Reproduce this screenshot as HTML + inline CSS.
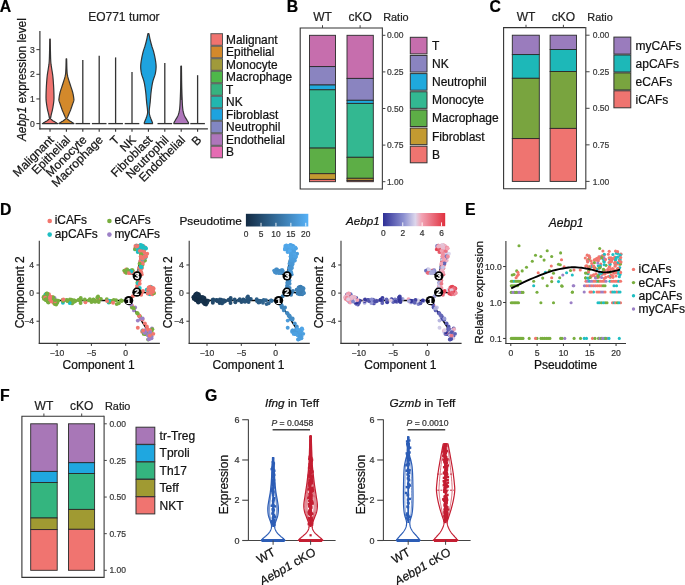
<!DOCTYPE html>
<html><head><meta charset="utf-8"><style>
html,body{margin:0;padding:0;background:#fff;width:685px;height:585px;overflow:hidden}
svg{display:block;will-change:transform}
text{font-family:"Liberation Sans", sans-serif;stroke-width:0.22px}
</style></head><body>
<svg width="685" height="585" viewBox="0 0 685 585">
<rect width="685" height="585" fill="#fff"/>
<text x="-0.30" y="11.60" font-size="15.8" font-weight="bold" fill="#000" stroke="#000">A</text>
<text x="286.70" y="11.70" font-size="15.8" font-weight="bold" fill="#000" stroke="#000">B</text>
<text x="489.60" y="11.60" font-size="15.8" font-weight="bold" fill="#000" stroke="#000">C</text>
<text x="0.00" y="214.90" font-size="15.8" font-weight="bold" fill="#000" stroke="#000">D</text>
<text x="465.10" y="215.00" font-size="15.8" font-weight="bold" fill="#000" stroke="#000">E</text>
<text x="0.00" y="400.80" font-size="15.8" font-weight="bold" fill="#000" stroke="#000">F</text>
<text x="205.00" y="400.60" font-size="15.8" font-weight="bold" fill="#000" stroke="#000">G</text>
<line x1="39.90" y1="31.00" x2="39.90" y2="129.40" stroke="#363636" stroke-width="1.2"/>
<line x1="39.35" y1="128.90" x2="207.90" y2="128.90" stroke="#363636" stroke-width="1.2"/>
<line x1="36.40" y1="123.60" x2="39.90" y2="123.60" stroke="#333" stroke-width="1.0"/>
<text x="34.90" y="126.70" font-size="8.6" text-anchor="end" fill="#333" stroke="#333">0</text>
<line x1="36.40" y1="98.95" x2="39.90" y2="98.95" stroke="#333" stroke-width="1.0"/>
<text x="34.90" y="102.05" font-size="8.6" text-anchor="end" fill="#333" stroke="#333">1</text>
<line x1="36.40" y1="74.30" x2="39.90" y2="74.30" stroke="#333" stroke-width="1.0"/>
<text x="34.90" y="77.40" font-size="8.6" text-anchor="end" fill="#333" stroke="#333">2</text>
<line x1="36.40" y1="49.65" x2="39.90" y2="49.65" stroke="#333" stroke-width="1.0"/>
<text x="34.90" y="52.75" font-size="8.6" text-anchor="end" fill="#333" stroke="#333">3</text>
<line x1="50.00" y1="128.90" x2="50.00" y2="131.80" stroke="#333" stroke-width="1.1"/>
<line x1="66.40" y1="128.90" x2="66.40" y2="131.80" stroke="#333" stroke-width="1.1"/>
<line x1="82.80" y1="128.90" x2="82.80" y2="131.80" stroke="#333" stroke-width="1.1"/>
<line x1="99.20" y1="128.90" x2="99.20" y2="131.80" stroke="#333" stroke-width="1.1"/>
<line x1="115.60" y1="128.90" x2="115.60" y2="131.80" stroke="#333" stroke-width="1.1"/>
<line x1="132.00" y1="128.90" x2="132.00" y2="131.80" stroke="#333" stroke-width="1.1"/>
<line x1="148.40" y1="128.90" x2="148.40" y2="131.80" stroke="#333" stroke-width="1.1"/>
<line x1="164.80" y1="128.90" x2="164.80" y2="131.80" stroke="#333" stroke-width="1.1"/>
<line x1="181.20" y1="128.90" x2="181.20" y2="131.80" stroke="#333" stroke-width="1.1"/>
<line x1="197.60" y1="128.90" x2="197.60" y2="131.80" stroke="#333" stroke-width="1.1"/>
<line x1="82.80" y1="59.90" x2="82.80" y2="123.60" stroke="#333" stroke-width="1.3"/>
<line x1="75.50" y1="123.60" x2="90.10" y2="123.60" stroke="#333" stroke-width="1.3"/>
<line x1="99.20" y1="55.80" x2="99.20" y2="123.60" stroke="#333" stroke-width="1.3"/>
<line x1="91.90" y1="123.60" x2="106.50" y2="123.60" stroke="#333" stroke-width="1.3"/>
<line x1="115.60" y1="57.40" x2="115.60" y2="123.60" stroke="#333" stroke-width="1.3"/>
<line x1="108.30" y1="123.60" x2="122.90" y2="123.60" stroke="#333" stroke-width="1.3"/>
<line x1="132.00" y1="72.10" x2="132.00" y2="123.60" stroke="#333" stroke-width="1.3"/>
<line x1="124.70" y1="123.60" x2="139.30" y2="123.60" stroke="#333" stroke-width="1.3"/>
<line x1="164.80" y1="62.90" x2="164.80" y2="123.60" stroke="#333" stroke-width="1.3"/>
<line x1="157.50" y1="123.60" x2="172.10" y2="123.60" stroke="#333" stroke-width="1.3"/>
<line x1="197.60" y1="75.20" x2="197.60" y2="123.60" stroke="#333" stroke-width="1.3"/>
<line x1="190.30" y1="123.60" x2="204.90" y2="123.60" stroke="#333" stroke-width="1.3"/>
<path d="M50.25,39.00 50.26,40.02 50.28,41.41 50.30,43.05 50.33,44.88 50.36,46.77 50.38,48.66 50.42,50.43 50.45,52.00 50.48,53.42 50.52,54.80 50.55,56.15 50.59,57.44 50.63,58.67 50.68,59.85 50.73,60.96 50.80,62.00 50.88,62.93 50.96,63.73 51.05,64.46 51.15,65.12 51.25,65.78 51.36,66.45 51.48,67.18 51.60,68.00 51.73,68.89 51.88,69.81 52.04,70.77 52.20,71.75 52.36,72.77 52.52,73.81 52.67,74.89 52.80,76.00 52.92,77.16 53.04,78.38 53.15,79.65 53.25,80.94 53.35,82.24 53.44,83.52 53.52,84.78 53.60,86.00 53.67,87.20 53.73,88.41 53.78,89.62 53.83,90.81 53.87,91.96 53.90,93.05 53.93,94.07 53.95,95.00 53.97,95.82 53.98,96.53 53.98,97.17 53.98,97.75 53.98,98.30 53.96,98.84 53.94,99.40 53.90,100.00 53.85,100.62 53.80,101.25 53.73,101.88 53.65,102.50 53.57,103.12 53.48,103.75 53.39,104.38 53.30,105.00 53.20,105.63 53.10,106.27 52.99,106.92 52.88,107.56 52.76,108.20 52.64,108.82 52.52,109.42 52.40,110.00 52.28,110.55 52.15,111.09 52.01,111.62 51.88,112.12 51.75,112.62 51.62,113.09 51.51,113.55 51.40,114.00 51.30,114.43 51.21,114.85 51.13,115.26 51.05,115.65 50.98,116.02 50.91,116.37 50.85,116.70 50.80,117.00 50.74,117.26 50.67,117.49 50.60,117.69 50.54,117.87 50.50,118.04 50.49,118.21 50.52,118.40 50.60,118.60 50.74,118.82 50.93,119.06 51.15,119.30 51.41,119.54 51.69,119.79 51.99,120.03 52.30,120.27 52.60,120.50 52.92,120.72 53.26,120.95 53.62,121.17 53.99,121.38 54.36,121.59 54.72,121.80 55.07,122.00 55.40,122.20 55.72,122.40 56.04,122.60 56.37,122.81 56.67,123.01 56.96,123.19 57.22,123.36 57.43,123.49 57.60,123.60 L42.40,123.60 42.57,123.49 42.78,123.36 43.04,123.19 43.33,123.01 43.63,122.81 43.96,122.60 44.28,122.40 44.60,122.20 44.93,122.00 45.28,121.80 45.64,121.59 46.01,121.38 46.38,121.17 46.74,120.95 47.08,120.72 47.40,120.50 47.70,120.27 48.01,120.03 48.31,119.79 48.59,119.54 48.85,119.30 49.07,119.06 49.26,118.82 49.40,118.60 49.48,118.40 49.51,118.21 49.50,118.04 49.46,117.87 49.40,117.69 49.33,117.49 49.26,117.26 49.20,117.00 49.15,116.70 49.09,116.37 49.02,116.02 48.95,115.65 48.87,115.26 48.79,114.85 48.70,114.43 48.60,114.00 48.49,113.55 48.38,113.09 48.25,112.62 48.12,112.12 47.99,111.62 47.85,111.09 47.72,110.55 47.60,110.00 47.48,109.42 47.36,108.82 47.24,108.20 47.12,107.56 47.01,106.92 46.90,106.27 46.80,105.63 46.70,105.00 46.61,104.38 46.52,103.75 46.43,103.12 46.35,102.50 46.27,101.88 46.20,101.25 46.15,100.62 46.10,100.00 46.06,99.40 46.04,98.84 46.02,98.30 46.02,97.75 46.02,97.17 46.02,96.53 46.03,95.82 46.05,95.00 46.07,94.07 46.10,93.05 46.13,91.96 46.17,90.81 46.22,89.62 46.27,88.41 46.33,87.20 46.40,86.00 46.48,84.78 46.56,83.52 46.65,82.24 46.75,80.94 46.85,79.65 46.96,78.38 47.08,77.16 47.20,76.00 47.33,74.89 47.48,73.81 47.64,72.77 47.80,71.75 47.96,70.77 48.12,69.81 48.27,68.89 48.40,68.00 48.52,67.18 48.64,66.45 48.75,65.78 48.85,65.12 48.95,64.46 49.04,63.73 49.12,62.93 49.20,62.00 49.27,60.96 49.32,59.85 49.37,58.67 49.41,57.44 49.45,56.15 49.48,54.80 49.52,53.42 49.55,52.00 49.58,50.43 49.62,48.66 49.64,46.77 49.67,44.88 49.70,43.05 49.72,41.41 49.74,40.02 49.75,39.00 Z" fill="#F0736F" stroke="#333" stroke-width="1.2" stroke-linejoin="round"/>
<path d="M66.65,58.80 66.67,59.70 66.70,60.93 66.73,62.41 66.76,64.02 66.80,65.69 66.84,67.30 66.89,68.77 66.95,70.00 67.00,70.99 67.05,71.82 67.09,72.54 67.14,73.20 67.21,73.83 67.31,74.48 67.43,75.19 67.60,76.00 67.81,76.90 68.07,77.86 68.36,78.85 68.68,79.88 69.01,80.91 69.34,81.95 69.68,82.99 70.00,84.00 70.33,85.01 70.67,86.04 71.02,87.07 71.38,88.09 71.72,89.11 72.04,90.11 72.34,91.07 72.60,92.00 72.83,92.91 73.03,93.82 73.21,94.72 73.37,95.59 73.51,96.42 73.62,97.19 73.72,97.89 73.80,98.50 73.86,98.99 73.90,99.37 73.91,99.66 73.91,99.91 73.89,100.13 73.85,100.36 73.78,100.64 73.70,101.00 73.59,101.42 73.45,101.87 73.28,102.35 73.10,102.84 72.90,103.36 72.70,103.89 72.50,104.44 72.30,105.00 72.10,105.58 71.90,106.20 71.68,106.85 71.47,107.50 71.25,108.15 71.03,108.80 70.81,109.42 70.60,110.00 70.38,110.55 70.17,111.09 69.94,111.62 69.73,112.12 69.51,112.62 69.30,113.09 69.09,113.55 68.90,114.00 68.71,114.43 68.53,114.85 68.35,115.26 68.18,115.65 68.01,116.02 67.86,116.37 67.72,116.70 67.60,117.00 67.48,117.26 67.36,117.49 67.24,117.69 67.14,117.87 67.06,118.04 67.02,118.21 67.03,118.40 67.10,118.60 67.23,118.82 67.43,119.06 67.67,119.30 67.95,119.54 68.25,119.79 68.57,120.03 68.89,120.27 69.20,120.50 69.51,120.72 69.85,120.95 70.20,121.17 70.56,121.38 70.91,121.59 71.26,121.80 71.59,122.00 71.90,122.20 72.20,122.40 72.50,122.60 72.79,122.81 73.07,123.01 73.33,123.19 73.56,123.36 73.75,123.49 73.90,123.60 L58.90,123.60 59.05,123.49 59.24,123.36 59.47,123.19 59.73,123.01 60.01,122.81 60.30,122.60 60.60,122.40 60.90,122.20 61.21,122.00 61.54,121.80 61.89,121.59 62.24,121.38 62.60,121.17 62.95,120.95 63.29,120.72 63.60,120.50 63.91,120.27 64.23,120.03 64.55,119.79 64.85,119.54 65.13,119.30 65.37,119.06 65.57,118.82 65.70,118.60 65.77,118.40 65.78,118.21 65.74,118.04 65.66,117.87 65.56,117.69 65.44,117.49 65.32,117.26 65.20,117.00 65.08,116.70 64.94,116.37 64.79,116.02 64.62,115.65 64.45,115.26 64.27,114.85 64.09,114.43 63.90,114.00 63.71,113.55 63.50,113.09 63.29,112.62 63.08,112.12 62.86,111.62 62.63,111.09 62.42,110.55 62.20,110.00 61.99,109.42 61.77,108.80 61.55,108.15 61.33,107.50 61.12,106.85 60.90,106.20 60.70,105.58 60.50,105.00 60.30,104.44 60.10,103.89 59.90,103.36 59.70,102.84 59.52,102.35 59.35,101.87 59.21,101.42 59.10,101.00 59.02,100.64 58.95,100.36 58.91,100.13 58.89,99.91 58.89,99.66 58.90,99.37 58.94,98.99 59.00,98.50 59.08,97.89 59.18,97.19 59.29,96.42 59.43,95.59 59.59,94.72 59.77,93.82 59.97,92.91 60.20,92.00 60.46,91.07 60.76,90.11 61.08,89.11 61.43,88.09 61.78,87.07 62.13,86.04 62.48,85.01 62.80,84.00 63.12,82.99 63.46,81.95 63.79,80.91 64.12,79.88 64.44,78.85 64.73,77.86 64.99,76.90 65.20,76.00 65.37,75.19 65.49,74.48 65.59,73.83 65.66,73.20 65.71,72.54 65.75,71.82 65.80,70.99 65.85,70.00 65.91,68.77 65.96,67.30 66.00,65.69 66.04,64.02 66.07,62.41 66.10,60.93 66.13,59.70 66.15,58.80 Z" fill="#D3892B" stroke="#333" stroke-width="1.2" stroke-linejoin="round"/>
<path d="M148.90,33.70 149.00,34.19 149.13,34.84 149.28,35.61 149.45,36.48 149.63,37.38 149.82,38.30 150.01,39.18 150.20,40.00 150.38,40.76 150.57,41.52 150.76,42.27 150.96,43.02 151.16,43.76 151.37,44.51 151.58,45.25 151.80,46.00 152.02,46.74 152.26,47.45 152.50,48.16 152.74,48.88 152.99,49.60 153.23,50.36 153.47,51.15 153.70,52.00 153.93,52.91 154.16,53.88 154.40,54.90 154.62,55.94 154.84,56.99 155.05,58.02 155.24,59.03 155.40,60.00 155.55,60.92 155.68,61.82 155.81,62.70 155.91,63.56 156.00,64.42 156.06,65.27 156.10,66.13 156.10,67.00 156.07,67.87 156.02,68.73 155.95,69.58 155.85,70.44 155.72,71.30 155.57,72.18 155.40,73.08 155.20,74.00 154.96,74.94 154.67,75.88 154.34,76.84 153.99,77.81 153.64,78.81 153.30,79.84 152.98,80.90 152.70,82.00 152.45,83.15 152.22,84.36 152.00,85.60 151.80,86.88 151.61,88.16 151.43,89.45 151.26,90.74 151.10,92.00 150.95,93.26 150.83,94.55 150.71,95.84 150.61,97.12 150.51,98.40 150.41,99.64 150.31,100.85 150.20,102.00 150.08,103.12 149.95,104.23 149.82,105.32 149.69,106.38 149.56,107.38 149.45,108.33 149.36,109.21 149.30,110.00 149.26,110.69 149.22,111.27 149.21,111.77 149.21,112.22 149.22,112.64 149.26,113.06 149.32,113.50 149.40,114.00 149.51,114.54 149.66,115.11 149.83,115.69 150.01,116.27 150.21,116.85 150.41,117.42 150.61,117.97 150.80,118.50 150.99,119.02 151.20,119.54 151.41,120.05 151.62,120.54 151.82,121.02 152.01,121.46 152.17,121.85 152.30,122.20 152.40,122.49 152.47,122.74 152.51,122.95 152.54,123.13 152.56,123.28 152.57,123.40 152.59,123.51 152.60,123.60 L144.20,123.60 144.21,123.51 144.23,123.40 144.24,123.28 144.26,123.13 144.29,122.95 144.33,122.74 144.40,122.49 144.50,122.20 144.63,121.85 144.79,121.46 144.98,121.02 145.18,120.54 145.39,120.05 145.60,119.54 145.81,119.02 146.00,118.50 146.19,117.97 146.39,117.42 146.59,116.85 146.79,116.27 146.97,115.69 147.14,115.11 147.29,114.54 147.40,114.00 147.48,113.50 147.54,113.06 147.58,112.64 147.59,112.22 147.59,111.77 147.58,111.27 147.54,110.69 147.50,110.00 147.44,109.21 147.35,108.33 147.24,107.38 147.11,106.38 146.98,105.32 146.85,104.23 146.72,103.12 146.60,102.00 146.49,100.85 146.39,99.64 146.29,98.40 146.19,97.12 146.09,95.84 145.97,94.55 145.85,93.26 145.70,92.00 145.54,90.74 145.37,89.45 145.19,88.16 145.00,86.88 144.80,85.60 144.58,84.36 144.35,83.15 144.10,82.00 143.82,80.90 143.50,79.84 143.16,78.81 142.81,77.81 142.46,76.84 142.13,75.88 141.84,74.94 141.60,74.00 141.40,73.08 141.22,72.18 141.07,71.30 140.95,70.44 140.85,69.58 140.77,68.73 140.72,67.87 140.70,67.00 140.70,66.13 140.74,65.27 140.80,64.42 140.89,63.56 140.99,62.70 141.12,61.82 141.25,60.92 141.40,60.00 141.56,59.03 141.75,58.02 141.96,56.99 142.17,55.94 142.40,54.90 142.64,53.88 142.87,52.91 143.10,52.00 143.33,51.15 143.57,50.36 143.81,49.60 144.06,48.88 144.30,48.16 144.54,47.45 144.78,46.74 145.00,46.00 145.22,45.25 145.43,44.51 145.64,43.76 145.84,43.02 146.04,42.27 146.23,41.52 146.42,40.76 146.60,40.00 146.79,39.18 146.98,38.30 147.17,37.38 147.35,36.48 147.52,35.61 147.67,34.84 147.80,34.19 147.90,33.70 Z" fill="#1EA3DF" stroke="#333" stroke-width="1.2" stroke-linejoin="round"/>
<path d="M181.45,66.00 181.47,67.51 181.49,69.55 181.52,72.00 181.55,74.69 181.58,77.48 181.62,80.23 181.66,82.78 181.70,85.00 181.74,86.95 181.79,88.79 181.84,90.53 181.89,92.19 181.94,93.75 182.00,95.24 182.05,96.66 182.10,98.00 182.15,99.26 182.20,100.42 182.24,101.50 182.29,102.50 182.34,103.44 182.39,104.33 182.44,105.18 182.50,106.00 182.56,106.77 182.62,107.47 182.68,108.12 182.74,108.72 182.81,109.29 182.90,109.86 182.99,110.42 183.10,111.00 183.22,111.59 183.35,112.17 183.50,112.75 183.65,113.31 183.82,113.87 184.00,114.42 184.19,114.96 184.40,115.50 184.64,116.03 184.90,116.56 185.19,117.09 185.48,117.61 185.78,118.11 186.07,118.60 186.35,119.06 186.60,119.50 186.84,119.92 187.07,120.32 187.30,120.70 187.51,121.07 187.71,121.41 187.90,121.73 188.06,122.03 188.20,122.30 188.31,122.54 188.39,122.76 188.46,122.95 188.50,123.12 188.53,123.27 188.56,123.40 188.58,123.51 188.60,123.60 L173.80,123.60 173.82,123.51 173.84,123.40 173.87,123.27 173.90,123.12 173.94,122.95 174.01,122.76 174.09,122.54 174.20,122.30 174.34,122.03 174.50,121.73 174.69,121.41 174.89,121.07 175.10,120.70 175.33,120.32 175.56,119.92 175.80,119.50 176.05,119.06 176.33,118.60 176.62,118.11 176.92,117.61 177.21,117.09 177.50,116.56 177.76,116.03 178.00,115.50 178.21,114.96 178.40,114.42 178.58,113.87 178.75,113.31 178.90,112.75 179.05,112.17 179.18,111.59 179.30,111.00 179.41,110.42 179.50,109.86 179.59,109.29 179.66,108.72 179.72,108.12 179.78,107.47 179.84,106.77 179.90,106.00 179.96,105.18 180.01,104.33 180.06,103.44 180.11,102.50 180.16,101.50 180.20,100.42 180.25,99.26 180.30,98.00 180.35,96.66 180.40,95.24 180.46,93.75 180.51,92.19 180.56,90.53 180.61,88.79 180.66,86.95 180.70,85.00 180.74,82.78 180.78,80.23 180.82,77.48 180.85,74.69 180.88,72.00 180.91,69.55 180.93,67.51 180.95,66.00 Z" fill="#AE76BB" stroke="#333" stroke-width="1.2" stroke-linejoin="round"/>
<line x1="181.20" y1="66.00" x2="181.20" y2="100.00" stroke="#333" stroke-width="1.05"/>
<text x="88.20" y="20.80" font-size="12.0" fill="#222" stroke="#222">EO771 tumor</text>
<text transform="translate(26.3,79.6) rotate(-90)" font-size="11.9" text-anchor="middle" fill="#111" stroke="#111"><tspan font-style="italic">Aebp1</tspan> expression level</text>
<text transform="translate(54.60,140.60) rotate(-45)" font-size="12.0" text-anchor="end" fill="#111" stroke="#111">Malignant</text>
<text transform="translate(71.00,140.60) rotate(-45)" font-size="12.0" text-anchor="end" fill="#111" stroke="#111">Epithelial</text>
<text transform="translate(87.40,140.60) rotate(-45)" font-size="12.0" text-anchor="end" fill="#111" stroke="#111">Monocyte</text>
<text transform="translate(103.80,140.60) rotate(-45)" font-size="12.0" text-anchor="end" fill="#111" stroke="#111">Macrophage</text>
<text transform="translate(120.20,140.60) rotate(-45)" font-size="12.0" text-anchor="end" fill="#111" stroke="#111">T</text>
<text transform="translate(136.60,140.60) rotate(-45)" font-size="12.0" text-anchor="end" fill="#111" stroke="#111">NK</text>
<text transform="translate(153.00,140.60) rotate(-45)" font-size="12.0" text-anchor="end" fill="#111" stroke="#111">Fibroblast</text>
<text transform="translate(169.40,140.60) rotate(-45)" font-size="12.0" text-anchor="end" fill="#111" stroke="#111">Neutrophil</text>
<text transform="translate(185.80,140.60) rotate(-45)" font-size="12.0" text-anchor="end" fill="#111" stroke="#111">Endothelial</text>
<text transform="translate(202.20,140.60) rotate(-45)" font-size="12.0" text-anchor="end" fill="#111" stroke="#111">B</text>
<rect x="210.90" y="33.70" width="11.60" height="11.60" fill="#F0736F" stroke="#555" stroke-width="1.0"/>
<text x="226.10" y="43.90" font-size="11.9" fill="#111" stroke="#111">Malignant</text>
<rect x="210.90" y="46.20" width="11.60" height="11.60" fill="#D3892B" stroke="#555" stroke-width="1.0"/>
<text x="226.10" y="56.40" font-size="11.9" fill="#111" stroke="#111">Epithelial</text>
<rect x="210.90" y="58.70" width="11.60" height="11.60" fill="#A09A3B" stroke="#555" stroke-width="1.0"/>
<text x="226.10" y="68.90" font-size="11.9" fill="#111" stroke="#111">Monocyte</text>
<rect x="210.90" y="71.20" width="11.60" height="11.60" fill="#4EB74A" stroke="#555" stroke-width="1.0"/>
<text x="226.10" y="81.40" font-size="11.9" fill="#111" stroke="#111">Macrophage</text>
<rect x="210.90" y="83.70" width="11.60" height="11.60" fill="#36B27F" stroke="#555" stroke-width="1.0"/>
<text x="226.10" y="93.90" font-size="11.9" fill="#111" stroke="#111">T</text>
<rect x="210.90" y="96.20" width="11.60" height="11.60" fill="#22B6AF" stroke="#555" stroke-width="1.0"/>
<text x="226.10" y="106.40" font-size="11.9" fill="#111" stroke="#111">NK</text>
<rect x="210.90" y="108.70" width="11.60" height="11.60" fill="#1EA3DF" stroke="#555" stroke-width="1.0"/>
<text x="226.10" y="118.90" font-size="11.9" fill="#111" stroke="#111">Fibroblast</text>
<rect x="210.90" y="121.20" width="11.60" height="11.60" fill="#8287C3" stroke="#555" stroke-width="1.0"/>
<text x="226.10" y="131.40" font-size="11.9" fill="#111" stroke="#111">Neutrophil</text>
<rect x="210.90" y="133.70" width="11.60" height="11.60" fill="#AE76BB" stroke="#555" stroke-width="1.0"/>
<text x="226.10" y="143.90" font-size="11.9" fill="#111" stroke="#111">Endothelial</text>
<rect x="210.90" y="146.20" width="11.60" height="11.60" fill="#E56CB3" stroke="#555" stroke-width="1.0"/>
<text x="226.10" y="156.40" font-size="11.9" fill="#111" stroke="#111">B</text>
<path d="M382.40,28.00 L300.20,28.00 L300.20,189.00 L382.40,189.00" fill="none" stroke="#333" stroke-width="1.1"/>
<line x1="382.40" y1="27.50" x2="382.40" y2="189.50" stroke="#4a4a4a" stroke-width="1.2"/>
<line x1="322.50" y1="25.20" x2="322.50" y2="28.00" stroke="#444" stroke-width="1.0"/>
<text x="322.50" y="21.40" font-size="12.0" text-anchor="middle" fill="#222" stroke="#222">WT</text>
<line x1="360.10" y1="25.20" x2="360.10" y2="28.00" stroke="#444" stroke-width="1.0"/>
<text x="360.10" y="21.40" font-size="12.0" text-anchor="middle" fill="#222" stroke="#222">cKO</text>
<text x="383.20" y="20.80" font-size="10.9" fill="#222" stroke="#222">Ratio</text>
<line x1="382.40" y1="35.30" x2="385.40" y2="35.30" stroke="#444" stroke-width="1.0"/>
<text x="386.90" y="38.40" font-size="8.5" fill="#3a3a3a" stroke="#3a3a3a">0.00</text>
<line x1="382.40" y1="71.90" x2="385.40" y2="71.90" stroke="#444" stroke-width="1.0"/>
<text x="386.90" y="75.00" font-size="8.5" fill="#3a3a3a" stroke="#3a3a3a">0.25</text>
<line x1="382.40" y1="108.50" x2="385.40" y2="108.50" stroke="#444" stroke-width="1.0"/>
<text x="386.90" y="111.60" font-size="8.5" fill="#3a3a3a" stroke="#3a3a3a">0.50</text>
<line x1="382.40" y1="145.10" x2="385.40" y2="145.10" stroke="#444" stroke-width="1.0"/>
<text x="386.90" y="148.20" font-size="8.5" fill="#3a3a3a" stroke="#3a3a3a">0.75</text>
<line x1="382.40" y1="181.70" x2="385.40" y2="181.70" stroke="#444" stroke-width="1.0"/>
<text x="386.90" y="184.80" font-size="8.5" fill="#3a3a3a" stroke="#3a3a3a">1.00</text>
<rect x="309.50" y="35.30" width="26.00" height="31.30" fill="#C66EAD" stroke="#2a2a2a" stroke-width="0.9"/>
<rect x="309.50" y="66.60" width="26.00" height="18.40" fill="#8A84C0" stroke="#2a2a2a" stroke-width="0.9"/>
<rect x="309.50" y="85.00" width="26.00" height="4.80" fill="#1FA9DD" stroke="#2a2a2a" stroke-width="0.9"/>
<rect x="309.50" y="89.80" width="26.00" height="58.30" fill="#33B891" stroke="#2a2a2a" stroke-width="0.9"/>
<rect x="309.50" y="148.10" width="26.00" height="25.60" fill="#5DAE46" stroke="#2a2a2a" stroke-width="0.9"/>
<rect x="309.50" y="173.70" width="26.00" height="5.70" fill="#C39A31" stroke="#2a2a2a" stroke-width="0.9"/>
<rect x="309.50" y="179.40" width="26.00" height="2.30" fill="#EF7470" stroke="#2a2a2a" stroke-width="0.9"/>
<rect x="347.00" y="35.30" width="26.30" height="43.10" fill="#C66EAD" stroke="#2a2a2a" stroke-width="0.9"/>
<rect x="347.00" y="78.40" width="26.30" height="21.90" fill="#8A84C0" stroke="#2a2a2a" stroke-width="0.9"/>
<rect x="347.00" y="100.30" width="26.30" height="3.10" fill="#1FA9DD" stroke="#2a2a2a" stroke-width="0.9"/>
<rect x="347.00" y="103.40" width="26.30" height="53.90" fill="#33B891" stroke="#2a2a2a" stroke-width="0.9"/>
<rect x="347.00" y="157.30" width="26.30" height="21.00" fill="#5DAE46" stroke="#2a2a2a" stroke-width="0.9"/>
<rect x="347.00" y="178.30" width="26.30" height="2.10" fill="#C39A31" stroke="#2a2a2a" stroke-width="0.9"/>
<rect x="347.00" y="180.40" width="26.30" height="1.30" fill="#EF7470" stroke="#2a2a2a" stroke-width="0.9"/>
<rect x="410.30" y="37.30" width="16.70" height="16.60" fill="#C66EAD" stroke="#333" stroke-width="1.0"/>
<text x="432.00" y="49.80" font-size="12.0" fill="#111" stroke="#111">T</text>
<rect x="410.30" y="55.45" width="16.70" height="16.60" fill="#8A84C0" stroke="#333" stroke-width="1.0"/>
<text x="432.00" y="67.95" font-size="12.0" fill="#111" stroke="#111">NK</text>
<rect x="410.30" y="73.60" width="16.70" height="16.60" fill="#1FA9DD" stroke="#333" stroke-width="1.0"/>
<text x="432.00" y="86.10" font-size="12.0" fill="#111" stroke="#111">Neutrophil</text>
<rect x="410.30" y="91.75" width="16.70" height="16.60" fill="#33B891" stroke="#333" stroke-width="1.0"/>
<text x="432.00" y="104.25" font-size="12.0" fill="#111" stroke="#111">Monocyte</text>
<rect x="410.30" y="109.90" width="16.70" height="16.60" fill="#5DAE46" stroke="#333" stroke-width="1.0"/>
<text x="432.00" y="122.40" font-size="12.0" fill="#111" stroke="#111">Macrophage</text>
<rect x="410.30" y="128.05" width="16.70" height="16.60" fill="#C39A31" stroke="#333" stroke-width="1.0"/>
<text x="432.00" y="140.55" font-size="12.0" fill="#111" stroke="#111">Fibroblast</text>
<rect x="410.30" y="146.20" width="16.70" height="16.60" fill="#EF7470" stroke="#333" stroke-width="1.0"/>
<text x="432.00" y="158.70" font-size="12.0" fill="#111" stroke="#111">B</text>
<path d="M585.80,27.60 L503.60,27.60 L503.60,188.70 L585.80,188.70" fill="none" stroke="#333" stroke-width="1.1"/>
<line x1="585.80" y1="27.10" x2="585.80" y2="189.20" stroke="#4a4a4a" stroke-width="1.2"/>
<line x1="526.00" y1="24.80" x2="526.00" y2="27.60" stroke="#444" stroke-width="1.0"/>
<text x="526.00" y="21.20" font-size="12.0" text-anchor="middle" fill="#222" stroke="#222">WT</text>
<line x1="563.40" y1="24.80" x2="563.40" y2="27.60" stroke="#444" stroke-width="1.0"/>
<text x="563.40" y="21.20" font-size="12.0" text-anchor="middle" fill="#222" stroke="#222">cKO</text>
<text x="587.30" y="20.60" font-size="10.9" fill="#222" stroke="#222">Ratio</text>
<line x1="585.80" y1="35.20" x2="589.60" y2="35.20" stroke="#444" stroke-width="1.0"/>
<text x="592.70" y="38.30" font-size="8.5" fill="#3a3a3a" stroke="#3a3a3a">0.00</text>
<line x1="585.80" y1="71.75" x2="589.60" y2="71.75" stroke="#444" stroke-width="1.0"/>
<text x="592.70" y="74.85" font-size="8.5" fill="#3a3a3a" stroke="#3a3a3a">0.25</text>
<line x1="585.80" y1="108.30" x2="589.60" y2="108.30" stroke="#444" stroke-width="1.0"/>
<text x="592.70" y="111.40" font-size="8.5" fill="#3a3a3a" stroke="#3a3a3a">0.50</text>
<line x1="585.80" y1="144.85" x2="589.60" y2="144.85" stroke="#444" stroke-width="1.0"/>
<text x="592.70" y="147.95" font-size="8.5" fill="#3a3a3a" stroke="#3a3a3a">0.75</text>
<line x1="585.80" y1="181.40" x2="589.60" y2="181.40" stroke="#444" stroke-width="1.0"/>
<text x="592.70" y="184.50" font-size="8.5" fill="#3a3a3a" stroke="#3a3a3a">1.00</text>
<rect x="512.30" y="35.20" width="27.00" height="19.40" fill="#9A7CBD" stroke="#2a2a2a" stroke-width="0.9"/>
<rect x="512.30" y="54.60" width="27.00" height="23.70" fill="#1DB8B8" stroke="#2a2a2a" stroke-width="0.9"/>
<rect x="512.30" y="78.30" width="27.00" height="60.30" fill="#79A43F" stroke="#2a2a2a" stroke-width="0.9"/>
<rect x="512.30" y="138.60" width="27.00" height="42.80" fill="#EF7470" stroke="#2a2a2a" stroke-width="0.9"/>
<rect x="550.10" y="35.20" width="26.40" height="14.30" fill="#9A7CBD" stroke="#2a2a2a" stroke-width="0.9"/>
<rect x="550.10" y="49.50" width="26.40" height="22.00" fill="#1DB8B8" stroke="#2a2a2a" stroke-width="0.9"/>
<rect x="550.10" y="71.50" width="26.40" height="56.90" fill="#79A43F" stroke="#2a2a2a" stroke-width="0.9"/>
<rect x="550.10" y="128.40" width="26.40" height="53.00" fill="#EF7470" stroke="#2a2a2a" stroke-width="0.9"/>
<rect x="613.90" y="37.10" width="16.90" height="17.00" fill="#9A7CBD" stroke="#333" stroke-width="1.0"/>
<text x="635.60" y="49.80" font-size="12.0" fill="#111" stroke="#111">myCAFs</text>
<rect x="613.90" y="55.00" width="16.90" height="17.00" fill="#1DB8B8" stroke="#333" stroke-width="1.0"/>
<text x="635.60" y="67.70" font-size="12.0" fill="#111" stroke="#111">apCAFs</text>
<rect x="613.90" y="72.90" width="16.90" height="17.00" fill="#79A43F" stroke="#333" stroke-width="1.0"/>
<text x="635.60" y="85.60" font-size="12.0" fill="#111" stroke="#111">eCAFs</text>
<rect x="613.90" y="90.80" width="16.90" height="17.00" fill="#EF7470" stroke="#333" stroke-width="1.0"/>
<text x="635.60" y="103.50" font-size="12.0" fill="#111" stroke="#111">iCAFs</text>
<path d="M104.10,416.30 L21.90,416.30 L21.90,577.40 L104.10,577.40" fill="none" stroke="#333" stroke-width="1.1"/>
<line x1="104.10" y1="415.80" x2="104.10" y2="577.90" stroke="#4a4a4a" stroke-width="1.2"/>
<line x1="43.90" y1="413.50" x2="43.90" y2="416.30" stroke="#444" stroke-width="1.0"/>
<text x="43.90" y="410.20" font-size="12.0" text-anchor="middle" fill="#222" stroke="#222">WT</text>
<line x1="81.70" y1="413.50" x2="81.70" y2="416.30" stroke="#444" stroke-width="1.0"/>
<text x="81.70" y="410.20" font-size="12.0" text-anchor="middle" fill="#222" stroke="#222">cKO</text>
<text x="105.00" y="409.60" font-size="10.9" fill="#222" stroke="#222">Ratio</text>
<line x1="104.10" y1="423.80" x2="106.80" y2="423.80" stroke="#444" stroke-width="1.0"/>
<text x="109.40" y="426.90" font-size="8.5" fill="#3a3a3a" stroke="#3a3a3a">0.00</text>
<line x1="104.10" y1="460.43" x2="106.80" y2="460.43" stroke="#444" stroke-width="1.0"/>
<text x="109.40" y="463.53" font-size="8.5" fill="#3a3a3a" stroke="#3a3a3a">0.25</text>
<line x1="104.10" y1="497.05" x2="106.80" y2="497.05" stroke="#444" stroke-width="1.0"/>
<text x="109.40" y="500.15" font-size="8.5" fill="#3a3a3a" stroke="#3a3a3a">0.50</text>
<line x1="104.10" y1="533.67" x2="106.80" y2="533.67" stroke="#444" stroke-width="1.0"/>
<text x="109.40" y="536.77" font-size="8.5" fill="#3a3a3a" stroke="#3a3a3a">0.75</text>
<line x1="104.10" y1="570.30" x2="106.80" y2="570.30" stroke="#444" stroke-width="1.0"/>
<text x="109.40" y="573.40" font-size="8.5" fill="#3a3a3a" stroke="#3a3a3a">1.00</text>
<rect x="30.70" y="423.80" width="26.50" height="47.60" fill="#A877B7" stroke="#2a2a2a" stroke-width="0.9"/>
<rect x="30.70" y="471.40" width="26.50" height="11.10" fill="#1FA7E0" stroke="#2a2a2a" stroke-width="0.9"/>
<rect x="30.70" y="482.50" width="26.50" height="35.50" fill="#34B57F" stroke="#2a2a2a" stroke-width="0.9"/>
<rect x="30.70" y="518.00" width="26.50" height="11.60" fill="#A09A32" stroke="#2a2a2a" stroke-width="0.9"/>
<rect x="30.70" y="529.60" width="26.50" height="40.70" fill="#F07470" stroke="#2a2a2a" stroke-width="0.9"/>
<rect x="68.50" y="423.80" width="26.10" height="38.90" fill="#A877B7" stroke="#2a2a2a" stroke-width="0.9"/>
<rect x="68.50" y="462.70" width="26.10" height="10.80" fill="#1FA7E0" stroke="#2a2a2a" stroke-width="0.9"/>
<rect x="68.50" y="473.50" width="26.10" height="35.90" fill="#34B57F" stroke="#2a2a2a" stroke-width="0.9"/>
<rect x="68.50" y="509.40" width="26.10" height="19.90" fill="#A09A32" stroke="#2a2a2a" stroke-width="0.9"/>
<rect x="68.50" y="529.30" width="26.10" height="41.00" fill="#F07470" stroke="#2a2a2a" stroke-width="0.9"/>
<rect x="136.00" y="427.20" width="18.80" height="17.10" fill="#A877B7" stroke="#333" stroke-width="1.0"/>
<text x="159.60" y="439.95" font-size="12.0" fill="#111" stroke="#111">tr-Treg</text>
<rect x="136.00" y="444.60" width="18.80" height="17.10" fill="#1FA7E0" stroke="#333" stroke-width="1.0"/>
<text x="159.60" y="457.35" font-size="12.0" fill="#111" stroke="#111">Tproli</text>
<rect x="136.00" y="462.00" width="18.80" height="17.10" fill="#34B57F" stroke="#333" stroke-width="1.0"/>
<text x="159.60" y="474.75" font-size="12.0" fill="#111" stroke="#111">Th17</text>
<rect x="136.00" y="479.40" width="18.80" height="17.10" fill="#A09A32" stroke="#333" stroke-width="1.0"/>
<text x="159.60" y="492.15" font-size="12.0" fill="#111" stroke="#111">Teff</text>
<rect x="136.00" y="496.80" width="18.80" height="17.10" fill="#F07470" stroke="#333" stroke-width="1.0"/>
<text x="159.60" y="509.55" font-size="12.0" fill="#111" stroke="#111">NKT</text>
<g transform="translate(0.00,0)">
<line x1="39.30" y1="240.80" x2="39.30" y2="343.90" stroke="#363636" stroke-width="1.1"/>
<line x1="38.80" y1="343.40" x2="159.90" y2="343.40" stroke="#363636" stroke-width="1.1"/>
<line x1="36.50" y1="264.98" x2="39.30" y2="264.98" stroke="#333" stroke-width="1.0"/>
<text x="34.00" y="268.08" font-size="8.6" text-anchor="end" fill="#333" stroke="#333">4</text>
<line x1="36.50" y1="293.10" x2="39.30" y2="293.10" stroke="#333" stroke-width="1.0"/>
<text x="34.00" y="296.20" font-size="8.6" text-anchor="end" fill="#333" stroke="#333">0</text>
<line x1="36.50" y1="321.22" x2="39.30" y2="321.22" stroke="#333" stroke-width="1.0"/>
<text x="34.00" y="324.32" font-size="8.6" text-anchor="end" fill="#333" stroke="#333">−4</text>
<line x1="57.10" y1="343.40" x2="57.10" y2="345.90" stroke="#333" stroke-width="1.0"/>
<text x="57.10" y="356.00" font-size="8.6" text-anchor="middle" fill="#333" stroke="#333">−10</text>
<line x1="91.40" y1="343.40" x2="91.40" y2="345.90" stroke="#333" stroke-width="1.0"/>
<text x="91.40" y="356.00" font-size="8.6" text-anchor="middle" fill="#333" stroke="#333">−5</text>
<line x1="125.70" y1="343.40" x2="125.70" y2="345.90" stroke="#333" stroke-width="1.0"/>
<text x="125.70" y="356.00" font-size="8.6" text-anchor="middle" fill="#333" stroke="#333">0</text>
<text x="98.60" y="368.60" font-size="12.0" text-anchor="middle" fill="#111" stroke="#111">Component 1</text>
<text transform="translate(23.90,292.3) rotate(-90)" font-size="12.0" text-anchor="middle" fill="#111" stroke="#111">Component 2</text>
<line x1="45.50" y1="300.40" x2="128.70" y2="300.60" stroke="#000" stroke-width="1.5"/>
<line x1="128.70" y1="300.60" x2="136.90" y2="292.20" stroke="#000" stroke-width="1.5"/>
<line x1="136.90" y1="292.20" x2="151.00" y2="292.80" stroke="#000" stroke-width="1.5"/>
<line x1="136.90" y1="292.20" x2="137.20" y2="275.90" stroke="#000" stroke-width="1.5"/>
<line x1="137.20" y1="275.90" x2="125.00" y2="271.50" stroke="#000" stroke-width="1.5"/>
<line x1="137.20" y1="275.90" x2="141.60" y2="248.00" stroke="#000" stroke-width="1.5"/>
<line x1="128.70" y1="300.60" x2="151.50" y2="336.50" stroke="#000" stroke-width="1.5"/>
<circle cx="140.25" cy="251.80" r="1.95" fill="#78AE3E"/>
<circle cx="138.30" cy="288.32" r="1.95" fill="#F2766E"/>
<circle cx="150.02" cy="334.57" r="1.95" fill="#9C80C6"/>
<circle cx="151.60" cy="336.62" r="1.95" fill="#9C80C6"/>
<circle cx="108.60" cy="302.51" r="1.95" fill="#1FBEC2"/>
<circle cx="142.18" cy="331.85" r="1.95" fill="#F2766E"/>
<circle cx="109.70" cy="302.27" r="1.95" fill="#78AE3E"/>
<circle cx="152.95" cy="291.28" r="1.95" fill="#78AE3E"/>
<circle cx="141.81" cy="267.92" r="1.95" fill="#F2766E"/>
<circle cx="150.68" cy="337.99" r="1.95" fill="#78AE3E"/>
<circle cx="151.68" cy="292.98" r="1.95" fill="#F2766E"/>
<circle cx="140.62" cy="249.53" r="1.95" fill="#1FBEC2"/>
<circle cx="141.07" cy="258.24" r="1.95" fill="#F2766E"/>
<circle cx="142.46" cy="330.41" r="1.95" fill="#1FBEC2"/>
<circle cx="116.04" cy="300.19" r="1.95" fill="#78AE3E"/>
<circle cx="49.30" cy="300.11" r="1.95" fill="#78AE3E"/>
<circle cx="135.07" cy="249.38" r="1.95" fill="#1FBEC2"/>
<circle cx="149.62" cy="294.14" r="1.95" fill="#F2766E"/>
<circle cx="135.23" cy="248.20" r="1.95" fill="#F2766E"/>
<circle cx="145.11" cy="247.50" r="1.95" fill="#F2766E"/>
<circle cx="151.28" cy="329.59" r="1.95" fill="#F2766E"/>
<circle cx="137.10" cy="286.08" r="1.95" fill="#F2766E"/>
<circle cx="150.04" cy="294.28" r="1.95" fill="#1FBEC2"/>
<circle cx="55.72" cy="302.75" r="1.95" fill="#78AE3E"/>
<circle cx="44.88" cy="298.64" r="1.95" fill="#78AE3E"/>
<circle cx="147.87" cy="292.78" r="1.95" fill="#F2766E"/>
<circle cx="124.91" cy="272.02" r="1.95" fill="#F2766E"/>
<circle cx="145.23" cy="334.13" r="1.95" fill="#78AE3E"/>
<circle cx="78.38" cy="300.10" r="1.95" fill="#78AE3E"/>
<circle cx="149.91" cy="330.75" r="1.95" fill="#78AE3E"/>
<circle cx="141.95" cy="253.20" r="1.95" fill="#78AE3E"/>
<circle cx="48.90" cy="297.78" r="1.95" fill="#F2766E"/>
<circle cx="149.90" cy="336.62" r="1.95" fill="#9C80C6"/>
<circle cx="126.18" cy="269.50" r="1.95" fill="#F2766E"/>
<circle cx="50.25" cy="298.49" r="1.95" fill="#F2766E"/>
<circle cx="47.59" cy="298.31" r="1.95" fill="#78AE3E"/>
<circle cx="141.82" cy="246.03" r="1.95" fill="#78AE3E"/>
<circle cx="137.40" cy="272.53" r="1.95" fill="#F2766E"/>
<circle cx="48.52" cy="298.57" r="1.95" fill="#78AE3E"/>
<circle cx="93.31" cy="299.36" r="1.95" fill="#78AE3E"/>
<circle cx="147.84" cy="293.31" r="1.95" fill="#1FBEC2"/>
<circle cx="151.69" cy="293.66" r="1.95" fill="#F2766E"/>
<circle cx="131.50" cy="306.08" r="1.95" fill="#9C80C6"/>
<circle cx="141.45" cy="260.47" r="1.95" fill="#F2766E"/>
<circle cx="46.39" cy="296.07" r="1.95" fill="#78AE3E"/>
<circle cx="144.60" cy="332.82" r="1.95" fill="#78AE3E"/>
<circle cx="147.57" cy="329.41" r="1.95" fill="#9C80C6"/>
<circle cx="148.87" cy="335.13" r="1.95" fill="#9C80C6"/>
<circle cx="100.94" cy="298.90" r="1.95" fill="#78AE3E"/>
<circle cx="116.70" cy="304.09" r="1.95" fill="#78AE3E"/>
<circle cx="45.66" cy="298.76" r="1.95" fill="#78AE3E"/>
<circle cx="151.44" cy="331.32" r="1.95" fill="#78AE3E"/>
<circle cx="141.79" cy="274.40" r="1.95" fill="#F2766E"/>
<circle cx="148.14" cy="339.45" r="1.95" fill="#78AE3E"/>
<circle cx="143.78" cy="333.91" r="1.95" fill="#78AE3E"/>
<circle cx="141.86" cy="252.88" r="1.95" fill="#F2766E"/>
<circle cx="72.12" cy="303.39" r="1.95" fill="#78AE3E"/>
<circle cx="131.74" cy="270.29" r="1.95" fill="#78AE3E"/>
<circle cx="52.55" cy="297.97" r="1.95" fill="#F2766E"/>
<circle cx="143.57" cy="332.53" r="1.95" fill="#78AE3E"/>
<circle cx="143.71" cy="260.99" r="1.95" fill="#78AE3E"/>
<circle cx="144.39" cy="247.99" r="1.95" fill="#1FBEC2"/>
<circle cx="139.19" cy="268.04" r="1.95" fill="#F2766E"/>
<circle cx="142.81" cy="254.45" r="1.95" fill="#F2766E"/>
<circle cx="142.05" cy="261.28" r="1.95" fill="#F2766E"/>
<circle cx="106.80" cy="299.31" r="1.95" fill="#78AE3E"/>
<circle cx="148.09" cy="335.25" r="1.95" fill="#9C80C6"/>
<circle cx="54.08" cy="303.20" r="1.95" fill="#F2766E"/>
<circle cx="62.92" cy="302.73" r="1.95" fill="#1FBEC2"/>
<circle cx="45.49" cy="294.35" r="1.95" fill="#78AE3E"/>
<circle cx="55.65" cy="300.70" r="1.95" fill="#78AE3E"/>
<circle cx="139.95" cy="316.16" r="1.95" fill="#78AE3E"/>
<circle cx="140.13" cy="264.15" r="1.95" fill="#78AE3E"/>
<circle cx="137.98" cy="291.28" r="1.95" fill="#F2766E"/>
<circle cx="149.33" cy="332.91" r="1.95" fill="#F2766E"/>
<circle cx="66.44" cy="300.02" r="1.95" fill="#78AE3E"/>
<circle cx="139.66" cy="270.85" r="1.95" fill="#1FBEC2"/>
<circle cx="121.38" cy="300.72" r="1.95" fill="#78AE3E"/>
<circle cx="140.67" cy="272.30" r="1.95" fill="#F2766E"/>
<circle cx="97.32" cy="299.64" r="1.95" fill="#1FBEC2"/>
<circle cx="53.31" cy="298.78" r="1.95" fill="#F2766E"/>
<circle cx="130.31" cy="270.74" r="1.95" fill="#1FBEC2"/>
<circle cx="142.49" cy="264.32" r="1.95" fill="#F2766E"/>
<circle cx="138.96" cy="279.53" r="1.95" fill="#1FBEC2"/>
<circle cx="152.31" cy="294.32" r="1.95" fill="#F2766E"/>
<circle cx="141.89" cy="258.54" r="1.95" fill="#F2766E"/>
<circle cx="69.64" cy="300.73" r="1.95" fill="#78AE3E"/>
<circle cx="63.05" cy="301.00" r="1.95" fill="#78AE3E"/>
<circle cx="45.66" cy="297.88" r="1.95" fill="#78AE3E"/>
<circle cx="148.93" cy="332.24" r="1.95" fill="#9C80C6"/>
<circle cx="131.88" cy="305.42" r="1.95" fill="#F2766E"/>
<circle cx="125.64" cy="300.74" r="1.95" fill="#78AE3E"/>
<circle cx="113.78" cy="299.94" r="1.95" fill="#78AE3E"/>
<circle cx="131.94" cy="307.44" r="1.95" fill="#78AE3E"/>
<circle cx="151.62" cy="289.28" r="1.95" fill="#F2766E"/>
<circle cx="80.59" cy="303.10" r="1.95" fill="#78AE3E"/>
<circle cx="144.94" cy="260.46" r="1.95" fill="#78AE3E"/>
<circle cx="46.46" cy="299.81" r="1.95" fill="#78AE3E"/>
<circle cx="148.63" cy="339.28" r="1.95" fill="#9C80C6"/>
<circle cx="153.61" cy="292.37" r="1.95" fill="#F2766E"/>
<circle cx="126.29" cy="272.45" r="1.95" fill="#78AE3E"/>
<circle cx="147.21" cy="253.68" r="1.95" fill="#F2766E"/>
<circle cx="147.74" cy="293.44" r="1.95" fill="#F2766E"/>
<circle cx="139.63" cy="280.57" r="1.95" fill="#F2766E"/>
<circle cx="135.75" cy="290.54" r="1.95" fill="#1FBEC2"/>
<circle cx="150.12" cy="331.15" r="1.95" fill="#F2766E"/>
<circle cx="143.70" cy="249.63" r="1.95" fill="#1FBEC2"/>
<circle cx="67.22" cy="300.75" r="1.95" fill="#F2766E"/>
<circle cx="152.74" cy="293.48" r="1.95" fill="#F2766E"/>
<circle cx="145.55" cy="257.50" r="1.95" fill="#1FBEC2"/>
<circle cx="142.57" cy="256.82" r="1.95" fill="#F2766E"/>
<circle cx="80.54" cy="299.07" r="1.95" fill="#1FBEC2"/>
<circle cx="149.30" cy="332.31" r="1.95" fill="#9C80C6"/>
<circle cx="142.01" cy="292.33" r="1.95" fill="#F2766E"/>
<circle cx="55.96" cy="301.99" r="1.95" fill="#78AE3E"/>
<circle cx="148.37" cy="334.76" r="1.95" fill="#F2766E"/>
<circle cx="140.53" cy="318.97" r="1.95" fill="#9C80C6"/>
<circle cx="132.92" cy="271.83" r="1.95" fill="#F2766E"/>
<circle cx="47.58" cy="296.85" r="1.95" fill="#78AE3E"/>
<circle cx="138.78" cy="315.75" r="1.95" fill="#F2766E"/>
<circle cx="110.69" cy="301.14" r="1.95" fill="#78AE3E"/>
<circle cx="140.86" cy="256.32" r="1.95" fill="#F2766E"/>
<circle cx="150.57" cy="334.76" r="1.95" fill="#78AE3E"/>
<circle cx="74.08" cy="301.72" r="1.95" fill="#78AE3E"/>
<circle cx="130.37" cy="298.19" r="1.95" fill="#F2766E"/>
<circle cx="49.47" cy="298.77" r="1.95" fill="#F2766E"/>
<circle cx="110.70" cy="301.01" r="1.95" fill="#78AE3E"/>
<circle cx="48.93" cy="294.23" r="1.95" fill="#F2766E"/>
<circle cx="153.08" cy="289.23" r="1.95" fill="#F2766E"/>
<circle cx="96.23" cy="300.72" r="1.95" fill="#F2766E"/>
<circle cx="140.62" cy="291.35" r="1.95" fill="#78AE3E"/>
<circle cx="118.74" cy="303.32" r="1.95" fill="#78AE3E"/>
<circle cx="51.36" cy="301.14" r="1.95" fill="#78AE3E"/>
<circle cx="136.37" cy="245.41" r="1.95" fill="#F2766E"/>
<circle cx="143.04" cy="290.83" r="1.95" fill="#F2766E"/>
<circle cx="47.68" cy="301.66" r="1.95" fill="#78AE3E"/>
<circle cx="94.81" cy="300.37" r="1.95" fill="#78AE3E"/>
<circle cx="145.71" cy="248.26" r="1.95" fill="#1FBEC2"/>
<circle cx="57.67" cy="300.78" r="1.95" fill="#78AE3E"/>
<circle cx="43.92" cy="297.49" r="1.95" fill="#1FBEC2"/>
<circle cx="138.87" cy="251.46" r="1.95" fill="#1FBEC2"/>
<circle cx="128.36" cy="272.33" r="1.95" fill="#F2766E"/>
<circle cx="50.51" cy="299.77" r="1.95" fill="#F2766E"/>
<circle cx="45.01" cy="298.22" r="1.95" fill="#F2766E"/>
<circle cx="141.09" cy="272.39" r="1.95" fill="#1FBEC2"/>
<circle cx="80.77" cy="298.00" r="1.95" fill="#78AE3E"/>
<circle cx="142.05" cy="252.86" r="1.95" fill="#1FBEC2"/>
<circle cx="131.14" cy="304.44" r="1.95" fill="#9C80C6"/>
<circle cx="141.43" cy="251.51" r="1.95" fill="#1FBEC2"/>
<circle cx="151.96" cy="328.52" r="1.95" fill="#9C80C6"/>
<circle cx="46.52" cy="293.76" r="1.95" fill="#78AE3E"/>
<circle cx="140.56" cy="260.39" r="1.95" fill="#F2766E"/>
<circle cx="152.36" cy="329.15" r="1.95" fill="#78AE3E"/>
<circle cx="74.98" cy="301.14" r="1.95" fill="#78AE3E"/>
<circle cx="143.67" cy="258.20" r="1.95" fill="#F2766E"/>
<circle cx="95.16" cy="301.76" r="1.95" fill="#78AE3E"/>
<circle cx="149.67" cy="290.89" r="1.95" fill="#F2766E"/>
<circle cx="138.37" cy="245.98" r="1.95" fill="#1FBEC2"/>
<circle cx="146.69" cy="289.76" r="1.95" fill="#1FBEC2"/>
<circle cx="150.07" cy="334.11" r="1.95" fill="#F2766E"/>
<circle cx="70.30" cy="301.83" r="1.95" fill="#78AE3E"/>
<circle cx="73.97" cy="300.08" r="1.95" fill="#78AE3E"/>
<circle cx="138.08" cy="280.79" r="1.95" fill="#F2766E"/>
<circle cx="52.74" cy="297.35" r="1.95" fill="#F2766E"/>
<circle cx="48.82" cy="298.07" r="1.95" fill="#F2766E"/>
<circle cx="93.48" cy="299.82" r="1.95" fill="#78AE3E"/>
<circle cx="133.95" cy="310.41" r="1.95" fill="#9C80C6"/>
<circle cx="148.72" cy="290.54" r="1.95" fill="#1FBEC2"/>
<circle cx="153.92" cy="293.16" r="1.95" fill="#78AE3E"/>
<circle cx="51.19" cy="300.38" r="1.95" fill="#78AE3E"/>
<circle cx="143.39" cy="256.01" r="1.95" fill="#F2766E"/>
<circle cx="56.16" cy="304.43" r="1.95" fill="#78AE3E"/>
<circle cx="138.74" cy="248.80" r="1.95" fill="#F2766E"/>
<circle cx="146.91" cy="329.71" r="1.95" fill="#F2766E"/>
<circle cx="142.25" cy="262.91" r="1.95" fill="#F2766E"/>
<circle cx="140.94" cy="247.01" r="1.95" fill="#1FBEC2"/>
<circle cx="142.17" cy="265.30" r="1.95" fill="#78AE3E"/>
<circle cx="140.30" cy="262.39" r="1.95" fill="#F2766E"/>
<circle cx="139.97" cy="272.92" r="1.95" fill="#F2766E"/>
<circle cx="142.21" cy="260.90" r="1.95" fill="#F2766E"/>
<circle cx="58.09" cy="300.66" r="1.95" fill="#78AE3E"/>
<circle cx="137.51" cy="285.06" r="1.95" fill="#F2766E"/>
<circle cx="141.54" cy="268.14" r="1.95" fill="#F2766E"/>
<circle cx="153.62" cy="288.43" r="1.95" fill="#F2766E"/>
<circle cx="137.43" cy="282.62" r="1.95" fill="#78AE3E"/>
<circle cx="142.77" cy="259.43" r="1.95" fill="#1FBEC2"/>
<circle cx="71.40" cy="299.70" r="1.95" fill="#78AE3E"/>
<circle cx="54.07" cy="299.27" r="1.95" fill="#78AE3E"/>
<circle cx="121.83" cy="300.69" r="1.95" fill="#78AE3E"/>
<circle cx="54.83" cy="304.00" r="1.95" fill="#78AE3E"/>
<circle cx="141.97" cy="245.37" r="1.95" fill="#1FBEC2"/>
<circle cx="135.15" cy="307.53" r="1.95" fill="#9C80C6"/>
<circle cx="141.17" cy="253.90" r="1.95" fill="#F2766E"/>
<circle cx="99.17" cy="299.04" r="1.95" fill="#78AE3E"/>
<circle cx="142.62" cy="263.45" r="1.95" fill="#F2766E"/>
<circle cx="140.05" cy="245.57" r="1.95" fill="#1FBEC2"/>
<circle cx="144.91" cy="323.39" r="1.95" fill="#F2766E"/>
<circle cx="57.28" cy="302.64" r="1.95" fill="#78AE3E"/>
<circle cx="131.11" cy="272.94" r="1.95" fill="#F2766E"/>
<circle cx="139.60" cy="272.18" r="1.95" fill="#1FBEC2"/>
<circle cx="91.53" cy="302.00" r="1.95" fill="#78AE3E"/>
<circle cx="135.43" cy="245.92" r="1.95" fill="#F2766E"/>
<circle cx="140.47" cy="270.16" r="1.95" fill="#F2766E"/>
<circle cx="151.53" cy="338.27" r="1.95" fill="#9C80C6"/>
<circle cx="129.05" cy="271.21" r="1.95" fill="#78AE3E"/>
<circle cx="153.00" cy="291.97" r="1.95" fill="#F2766E"/>
<circle cx="148.07" cy="290.02" r="1.95" fill="#F2766E"/>
<circle cx="113.06" cy="302.79" r="1.95" fill="#F2766E"/>
<circle cx="149.99" cy="335.85" r="1.95" fill="#9C80C6"/>
<circle cx="136.61" cy="247.35" r="1.95" fill="#1FBEC2"/>
<circle cx="143.84" cy="253.25" r="1.95" fill="#1FBEC2"/>
<circle cx="152.18" cy="288.92" r="1.95" fill="#F2766E"/>
<circle cx="89.88" cy="299.20" r="1.95" fill="#78AE3E"/>
<circle cx="45.62" cy="299.73" r="1.95" fill="#78AE3E"/>
<circle cx="139.57" cy="263.69" r="1.95" fill="#78AE3E"/>
<circle cx="150.62" cy="286.71" r="1.95" fill="#F2766E"/>
<circle cx="132.57" cy="270.18" r="1.95" fill="#78AE3E"/>
<circle cx="146.03" cy="333.60" r="1.95" fill="#78AE3E"/>
<circle cx="126.18" cy="271.36" r="1.95" fill="#F2766E"/>
<circle cx="151.31" cy="287.31" r="1.95" fill="#1FBEC2"/>
<circle cx="141.20" cy="294.86" r="1.95" fill="#F2766E"/>
<circle cx="50.30" cy="300.98" r="1.95" fill="#1FBEC2"/>
<circle cx="109.20" cy="301.03" r="1.95" fill="#78AE3E"/>
<circle cx="54.10" cy="302.30" r="1.95" fill="#78AE3E"/>
<circle cx="150.75" cy="287.90" r="1.95" fill="#F2766E"/>
<circle cx="85.45" cy="302.20" r="1.95" fill="#F2766E"/>
<circle cx="47.84" cy="299.37" r="1.95" fill="#F2766E"/>
<circle cx="121.06" cy="300.42" r="1.95" fill="#78AE3E"/>
<circle cx="152.87" cy="287.88" r="1.95" fill="#F2766E"/>
<circle cx="141.00" cy="251.84" r="1.95" fill="#1FBEC2"/>
<circle cx="145.07" cy="331.65" r="1.95" fill="#9C80C6"/>
<circle cx="93.93" cy="301.37" r="1.95" fill="#78AE3E"/>
<circle cx="50.17" cy="297.11" r="1.95" fill="#F2766E"/>
<circle cx="62.60" cy="299.95" r="1.95" fill="#78AE3E"/>
<circle cx="47.56" cy="296.37" r="1.95" fill="#78AE3E"/>
<circle cx="149.92" cy="290.75" r="1.95" fill="#1FBEC2"/>
<circle cx="143.43" cy="246.18" r="1.95" fill="#F2766E"/>
<circle cx="84.81" cy="299.54" r="1.95" fill="#78AE3E"/>
<circle cx="43.84" cy="298.81" r="1.95" fill="#78AE3E"/>
<circle cx="124.25" cy="270.58" r="1.95" fill="#78AE3E"/>
<circle cx="140.73" cy="266.70" r="1.95" fill="#1FBEC2"/>
<circle cx="142.82" cy="258.70" r="1.95" fill="#F2766E"/>
<circle cx="98.00" cy="298.64" r="1.95" fill="#F2766E"/>
<circle cx="144.38" cy="252.79" r="1.95" fill="#F2766E"/>
<circle cx="149.84" cy="331.40" r="1.95" fill="#F2766E"/>
<circle cx="141.44" cy="251.00" r="1.95" fill="#F2766E"/>
<circle cx="98.16" cy="301.05" r="1.95" fill="#78AE3E"/>
<circle cx="98.06" cy="296.43" r="1.95" fill="#78AE3E"/>
<circle cx="149.53" cy="289.07" r="1.95" fill="#F2766E"/>
<circle cx="46.21" cy="300.17" r="1.95" fill="#78AE3E"/>
<circle cx="142.86" cy="245.99" r="1.95" fill="#1FBEC2"/>
<circle cx="148.72" cy="287.57" r="1.95" fill="#F2766E"/>
<circle cx="137.69" cy="252.03" r="1.95" fill="#1FBEC2"/>
<circle cx="137.93" cy="249.83" r="1.95" fill="#1FBEC2"/>
<circle cx="126.22" cy="272.87" r="1.95" fill="#78AE3E"/>
<circle cx="140.58" cy="244.91" r="1.95" fill="#1FBEC2"/>
<circle cx="50.10" cy="299.52" r="1.95" fill="#F2766E"/>
<circle cx="48.71" cy="298.37" r="1.95" fill="#F2766E"/>
<circle cx="98.72" cy="302.10" r="1.95" fill="#78AE3E"/>
<circle cx="136.94" cy="245.63" r="1.95" fill="#1FBEC2"/>
<circle cx="109.12" cy="300.79" r="1.95" fill="#1FBEC2"/>
<circle cx="67.10" cy="300.28" r="1.95" fill="#78AE3E"/>
<circle cx="151.66" cy="291.10" r="1.95" fill="#F2766E"/>
<circle cx="80.50" cy="299.99" r="1.95" fill="#78AE3E"/>
<circle cx="146.85" cy="326.46" r="1.95" fill="#F2766E"/>
<circle cx="135.27" cy="249.17" r="1.95" fill="#78AE3E"/>
<circle cx="144.16" cy="251.03" r="1.95" fill="#F2766E"/>
<circle cx="137.53" cy="248.94" r="1.95" fill="#1FBEC2"/>
<circle cx="69.69" cy="303.00" r="1.95" fill="#1FBEC2"/>
<circle cx="142.34" cy="247.68" r="1.95" fill="#1FBEC2"/>
<circle cx="48.44" cy="302.46" r="1.95" fill="#78AE3E"/>
<circle cx="144.86" cy="256.29" r="1.95" fill="#F2766E"/>
<circle cx="139.74" cy="287.99" r="1.95" fill="#1FBEC2"/>
<circle cx="43.82" cy="297.26" r="1.95" fill="#78AE3E"/>
<circle cx="46.63" cy="297.60" r="1.95" fill="#78AE3E"/>
<circle cx="139.89" cy="250.84" r="1.95" fill="#F2766E"/>
<circle cx="89.94" cy="300.36" r="1.95" fill="#78AE3E"/>
<circle cx="137.75" cy="246.03" r="1.95" fill="#F2766E"/>
<circle cx="45.73" cy="294.41" r="1.95" fill="#1FBEC2"/>
<circle cx="142.57" cy="319.63" r="1.95" fill="#F2766E"/>
<circle cx="149.43" cy="339.04" r="1.95" fill="#9C80C6"/>
<circle cx="137.03" cy="312.92" r="1.95" fill="#78AE3E"/>
<circle cx="51.90" cy="297.09" r="1.95" fill="#F2766E"/>
<circle cx="67.35" cy="300.99" r="1.95" fill="#78AE3E"/>
<circle cx="144.82" cy="247.79" r="1.95" fill="#1FBEC2"/>
<circle cx="137.80" cy="320.60" r="1.95" fill="#9C80C6"/>
<circle cx="141.16" cy="254.32" r="1.95" fill="#78AE3E"/>
<circle cx="137.85" cy="283.23" r="1.95" fill="#1FBEC2"/>
<circle cx="148.23" cy="334.96" r="1.95" fill="#9C80C6"/>
<circle cx="136.45" cy="246.44" r="1.95" fill="#F2766E"/>
<circle cx="141.28" cy="272.38" r="1.95" fill="#F2766E"/>
<circle cx="139.25" cy="315.47" r="1.95" fill="#F2766E"/>
<circle cx="137.93" cy="274.47" r="1.95" fill="#F2766E"/>
<circle cx="153.34" cy="333.86" r="1.95" fill="#F2766E"/>
<circle cx="150.00" cy="330.48" r="1.95" fill="#F2766E"/>
<circle cx="140.74" cy="256.68" r="1.95" fill="#F2766E"/>
<circle cx="145.91" cy="248.46" r="1.95" fill="#1FBEC2"/>
<circle cx="149.87" cy="286.83" r="1.95" fill="#F2766E"/>
<circle cx="131.40" cy="271.44" r="1.95" fill="#1FBEC2"/>
<circle cx="43.56" cy="296.89" r="1.95" fill="#78AE3E"/>
<circle cx="150.54" cy="292.38" r="1.95" fill="#F2766E"/>
<circle cx="132.80" cy="296.24" r="1.95" fill="#F2766E"/>
<circle cx="136.49" cy="288.60" r="1.95" fill="#F2766E"/>
<circle cx="47.34" cy="293.70" r="1.95" fill="#78AE3E"/>
<circle cx="130.03" cy="298.78" r="1.95" fill="#F2766E"/>
<circle cx="141.42" cy="267.18" r="1.95" fill="#1FBEC2"/>
<circle cx="137.43" cy="289.09" r="1.95" fill="#F2766E"/>
<circle cx="151.87" cy="288.73" r="1.95" fill="#F2766E"/>
<circle cx="149.94" cy="290.12" r="1.95" fill="#F2766E"/>
<circle cx="144.95" cy="332.71" r="1.95" fill="#9C80C6"/>
<circle cx="54.74" cy="302.70" r="1.95" fill="#78AE3E"/>
<circle cx="55.00" cy="301.21" r="1.95" fill="#F2766E"/>
<circle cx="53.71" cy="298.53" r="1.95" fill="#78AE3E"/>
<circle cx="146.11" cy="256.46" r="1.95" fill="#F2766E"/>
<circle cx="150.32" cy="292.67" r="1.95" fill="#F2766E"/>
<circle cx="54.53" cy="298.06" r="1.95" fill="#9C80C6"/>
<circle cx="149.22" cy="330.48" r="1.95" fill="#F2766E"/>
<circle cx="46.92" cy="293.51" r="1.95" fill="#78AE3E"/>
<circle cx="148.26" cy="335.42" r="1.95" fill="#9C80C6"/>
<circle cx="88.76" cy="300.36" r="1.95" fill="#78AE3E"/>
<circle cx="97.32" cy="297.48" r="1.95" fill="#78AE3E"/>
<circle cx="107.12" cy="301.09" r="1.95" fill="#F2766E"/>
<circle cx="149.73" cy="335.59" r="1.95" fill="#F2766E"/>
<circle cx="129.03" cy="273.17" r="1.95" fill="#F2766E"/>
<circle cx="144.23" cy="332.46" r="1.95" fill="#9C80C6"/>
<circle cx="140.80" cy="247.26" r="1.95" fill="#1FBEC2"/>
<circle cx="69.95" cy="299.37" r="1.95" fill="#78AE3E"/>
<circle cx="127.16" cy="269.38" r="1.95" fill="#78AE3E"/>
<circle cx="142.68" cy="318.48" r="1.95" fill="#9C80C6"/>
<circle cx="53.25" cy="300.61" r="1.95" fill="#78AE3E"/>
<circle cx="45.45" cy="296.29" r="1.95" fill="#78AE3E"/>
<circle cx="53.12" cy="297.29" r="1.95" fill="#78AE3E"/>
<circle cx="145.68" cy="330.00" r="1.95" fill="#9C80C6"/>
<circle cx="143.00" cy="330.46" r="1.95" fill="#F2766E"/>
<circle cx="150.11" cy="332.10" r="1.95" fill="#9C80C6"/>
<circle cx="75.01" cy="300.92" r="1.95" fill="#78AE3E"/>
<circle cx="50.20" cy="296.99" r="1.95" fill="#F2766E"/>
<circle cx="49.70" cy="299.04" r="1.95" fill="#F2766E"/>
<circle cx="45.16" cy="297.80" r="1.95" fill="#F2766E"/>
<circle cx="80.73" cy="299.77" r="1.95" fill="#78AE3E"/>
<circle cx="139.72" cy="283.79" r="1.95" fill="#F2766E"/>
<circle cx="78.94" cy="299.82" r="1.95" fill="#78AE3E"/>
<circle cx="137.80" cy="327.70" r="1.95" fill="#F2766E"/>
<circle cx="55.70" cy="300.12" r="1.95" fill="#78AE3E"/>
<circle cx="51.31" cy="301.60" r="1.95" fill="#F2766E"/>
<circle cx="45.56" cy="299.56" r="1.95" fill="#78AE3E"/>
<circle cx="46.41" cy="299.26" r="1.95" fill="#78AE3E"/>
<circle cx="63.36" cy="299.57" r="1.95" fill="#F2766E"/>
<circle cx="73.64" cy="301.57" r="1.95" fill="#78AE3E"/>
<circle cx="137.71" cy="313.56" r="1.95" fill="#78AE3E"/>
<circle cx="50.25" cy="297.08" r="1.95" fill="#F2766E"/>
<circle cx="133.72" cy="308.21" r="1.95" fill="#78AE3E"/>
<circle cx="147.44" cy="329.01" r="1.95" fill="#F2766E"/>
<circle cx="128.70" cy="300.60" r="4.60" fill="#000"/>
<text x="128.70" y="303.60" font-size="8.4" text-anchor="middle" font-weight="bold" fill="#fff" stroke="#fff">1</text>
<circle cx="136.90" cy="292.20" r="4.60" fill="#000"/>
<text x="136.90" y="295.20" font-size="8.4" text-anchor="middle" font-weight="bold" fill="#fff" stroke="#fff">2</text>
<circle cx="137.20" cy="275.90" r="4.60" fill="#000"/>
<text x="137.20" y="278.90" font-size="8.4" text-anchor="middle" font-weight="bold" fill="#fff" stroke="#fff">3</text>
</g>
<g transform="translate(149.90,0)">
<line x1="39.30" y1="240.80" x2="39.30" y2="343.90" stroke="#363636" stroke-width="1.1"/>
<line x1="38.80" y1="343.40" x2="159.90" y2="343.40" stroke="#363636" stroke-width="1.1"/>
<line x1="36.50" y1="264.98" x2="39.30" y2="264.98" stroke="#333" stroke-width="1.0"/>
<text x="34.00" y="268.08" font-size="8.6" text-anchor="end" fill="#333" stroke="#333">4</text>
<line x1="36.50" y1="293.10" x2="39.30" y2="293.10" stroke="#333" stroke-width="1.0"/>
<text x="34.00" y="296.20" font-size="8.6" text-anchor="end" fill="#333" stroke="#333">0</text>
<line x1="36.50" y1="321.22" x2="39.30" y2="321.22" stroke="#333" stroke-width="1.0"/>
<text x="34.00" y="324.32" font-size="8.6" text-anchor="end" fill="#333" stroke="#333">−4</text>
<line x1="57.10" y1="343.40" x2="57.10" y2="345.90" stroke="#333" stroke-width="1.0"/>
<text x="57.10" y="356.00" font-size="8.6" text-anchor="middle" fill="#333" stroke="#333">−10</text>
<line x1="91.40" y1="343.40" x2="91.40" y2="345.90" stroke="#333" stroke-width="1.0"/>
<text x="91.40" y="356.00" font-size="8.6" text-anchor="middle" fill="#333" stroke="#333">−5</text>
<line x1="125.70" y1="343.40" x2="125.70" y2="345.90" stroke="#333" stroke-width="1.0"/>
<text x="125.70" y="356.00" font-size="8.6" text-anchor="middle" fill="#333" stroke="#333">0</text>
<text x="98.60" y="368.60" font-size="12.0" text-anchor="middle" fill="#111" stroke="#111">Component 1</text>
<text transform="translate(22.40,292.3) rotate(-90)" font-size="12.0" text-anchor="middle" fill="#111" stroke="#111">Component 2</text>
<line x1="45.50" y1="300.40" x2="128.70" y2="300.60" stroke="#000" stroke-width="1.5"/>
<line x1="128.70" y1="300.60" x2="136.90" y2="292.20" stroke="#000" stroke-width="1.5"/>
<line x1="136.90" y1="292.20" x2="151.00" y2="292.80" stroke="#000" stroke-width="1.5"/>
<line x1="136.90" y1="292.20" x2="137.20" y2="275.90" stroke="#000" stroke-width="1.5"/>
<line x1="137.20" y1="275.90" x2="125.00" y2="271.50" stroke="#000" stroke-width="1.5"/>
<line x1="137.20" y1="275.90" x2="141.60" y2="248.00" stroke="#000" stroke-width="1.5"/>
<line x1="128.70" y1="300.60" x2="151.50" y2="336.50" stroke="#000" stroke-width="1.5"/>
<circle cx="140.25" cy="251.80" r="1.95" fill="#4d9ede"/>
<circle cx="138.30" cy="288.32" r="1.95" fill="#448cc5"/>
<circle cx="150.02" cy="334.57" r="1.95" fill="#50a5e7"/>
<circle cx="151.60" cy="336.62" r="1.95" fill="#4da0e0"/>
<circle cx="108.60" cy="302.51" r="1.95" fill="#2e618b"/>
<circle cx="142.18" cy="331.85" r="1.95" fill="#4d9fde"/>
<circle cx="109.70" cy="302.27" r="1.95" fill="#2d5f89"/>
<circle cx="152.95" cy="291.28" r="1.95" fill="#4085bc"/>
<circle cx="141.81" cy="267.92" r="1.95" fill="#4793cf"/>
<circle cx="150.68" cy="337.99" r="1.95" fill="#50a5e7"/>
<circle cx="151.68" cy="292.98" r="1.95" fill="#3d7eb3"/>
<circle cx="140.62" cy="249.53" r="1.95" fill="#54adf1"/>
<circle cx="141.07" cy="258.24" r="1.95" fill="#4d9fdf"/>
<circle cx="142.46" cy="330.41" r="1.95" fill="#4fa2e3"/>
<circle cx="116.04" cy="300.19" r="1.95" fill="#306591"/>
<circle cx="49.30" cy="300.11" r="1.95" fill="#142d46"/>
<circle cx="135.07" cy="249.38" r="1.95" fill="#50a4e6"/>
<circle cx="149.62" cy="294.14" r="1.95" fill="#4086bd"/>
<circle cx="135.23" cy="248.20" r="1.95" fill="#53aaee"/>
<circle cx="145.11" cy="247.50" r="1.95" fill="#53aaee"/>
<circle cx="151.28" cy="329.59" r="1.95" fill="#50a4e6"/>
<circle cx="137.10" cy="286.08" r="1.95" fill="#438bc4"/>
<circle cx="150.04" cy="294.28" r="1.95" fill="#4187be"/>
<circle cx="55.72" cy="302.75" r="1.95" fill="#16304a"/>
<circle cx="44.88" cy="298.64" r="1.95" fill="#132c44"/>
<circle cx="147.87" cy="292.78" r="1.95" fill="#3e82b8"/>
<circle cx="124.91" cy="272.02" r="1.95" fill="#458fc9"/>
<circle cx="145.23" cy="334.13" r="1.95" fill="#4b9bd9"/>
<circle cx="78.38" cy="300.10" r="1.95" fill="#234b6e"/>
<circle cx="149.91" cy="330.75" r="1.95" fill="#4d9fdf"/>
<circle cx="141.95" cy="253.20" r="1.95" fill="#4da0e0"/>
<circle cx="48.90" cy="297.78" r="1.95" fill="#152e48"/>
<circle cx="149.90" cy="336.62" r="1.95" fill="#50a6e8"/>
<circle cx="126.18" cy="269.50" r="1.95" fill="#448ec8"/>
<circle cx="50.25" cy="298.49" r="1.95" fill="#132b43"/>
<circle cx="47.59" cy="298.31" r="1.95" fill="#132b43"/>
<circle cx="141.82" cy="246.03" r="1.95" fill="#4d9ede"/>
<circle cx="137.40" cy="272.53" r="1.95" fill="#4895d1"/>
<circle cx="48.52" cy="298.57" r="1.95" fill="#132b43"/>
<circle cx="93.31" cy="299.36" r="1.95" fill="#275278"/>
<circle cx="147.84" cy="293.31" r="1.95" fill="#3c7db1"/>
<circle cx="151.69" cy="293.66" r="1.95" fill="#3f84ba"/>
<circle cx="131.50" cy="306.08" r="1.95" fill="#3e81b7"/>
<circle cx="141.45" cy="260.47" r="1.95" fill="#4ea0e1"/>
<circle cx="46.39" cy="296.07" r="1.95" fill="#16304a"/>
<circle cx="144.60" cy="332.82" r="1.95" fill="#4b9bda"/>
<circle cx="147.57" cy="329.41" r="1.95" fill="#4a99d7"/>
<circle cx="148.87" cy="335.13" r="1.95" fill="#4c9cdb"/>
<circle cx="100.94" cy="298.90" r="1.95" fill="#29577e"/>
<circle cx="116.70" cy="304.09" r="1.95" fill="#2f638e"/>
<circle cx="45.66" cy="298.76" r="1.95" fill="#16324c"/>
<circle cx="151.44" cy="331.32" r="1.95" fill="#4da0e0"/>
<circle cx="141.79" cy="274.40" r="1.95" fill="#4691cc"/>
<circle cx="148.14" cy="339.45" r="1.95" fill="#4fa3e4"/>
<circle cx="143.78" cy="333.91" r="1.95" fill="#4fa2e3"/>
<circle cx="141.86" cy="252.88" r="1.95" fill="#4c9edd"/>
<circle cx="72.12" cy="303.39" r="1.95" fill="#254e72"/>
<circle cx="131.74" cy="270.29" r="1.95" fill="#4690cb"/>
<circle cx="52.55" cy="297.97" r="1.95" fill="#132b43"/>
<circle cx="143.57" cy="332.53" r="1.95" fill="#4d9ede"/>
<circle cx="143.71" cy="260.99" r="1.95" fill="#4d9ede"/>
<circle cx="144.39" cy="247.99" r="1.95" fill="#4ea1e1"/>
<circle cx="139.19" cy="268.04" r="1.95" fill="#4b9ad9"/>
<circle cx="142.81" cy="254.45" r="1.95" fill="#50a4e6"/>
<circle cx="142.05" cy="261.28" r="1.95" fill="#4c9cdb"/>
<circle cx="106.80" cy="299.31" r="1.95" fill="#2c5d86"/>
<circle cx="148.09" cy="335.25" r="1.95" fill="#4ea1e2"/>
<circle cx="54.08" cy="303.20" r="1.95" fill="#17334e"/>
<circle cx="62.92" cy="302.73" r="1.95" fill="#204566"/>
<circle cx="45.49" cy="294.35" r="1.95" fill="#132b43"/>
<circle cx="55.65" cy="300.70" r="1.95" fill="#132b43"/>
<circle cx="139.95" cy="316.16" r="1.95" fill="#4289c1"/>
<circle cx="140.13" cy="264.15" r="1.95" fill="#4a99d6"/>
<circle cx="137.98" cy="291.28" r="1.95" fill="#4187be"/>
<circle cx="149.33" cy="332.91" r="1.95" fill="#4c9ddc"/>
<circle cx="66.44" cy="300.02" r="1.95" fill="#224a6c"/>
<circle cx="139.66" cy="270.85" r="1.95" fill="#4895d2"/>
<circle cx="121.38" cy="300.72" r="1.95" fill="#356f9e"/>
<circle cx="140.67" cy="272.30" r="1.95" fill="#4894d1"/>
<circle cx="97.32" cy="299.64" r="1.95" fill="#265075"/>
<circle cx="53.31" cy="298.78" r="1.95" fill="#142c45"/>
<circle cx="130.31" cy="270.74" r="1.95" fill="#4590ca"/>
<circle cx="142.49" cy="264.32" r="1.95" fill="#4b9cda"/>
<circle cx="138.96" cy="279.53" r="1.95" fill="#428ac2"/>
<circle cx="152.31" cy="294.32" r="1.95" fill="#3a79ac"/>
<circle cx="141.89" cy="258.54" r="1.95" fill="#4ea0e1"/>
<circle cx="69.64" cy="300.73" r="1.95" fill="#234c6f"/>
<circle cx="63.05" cy="301.00" r="1.95" fill="#22496b"/>
<circle cx="45.66" cy="297.88" r="1.95" fill="#152f49"/>
<circle cx="148.93" cy="332.24" r="1.95" fill="#50a5e7"/>
<circle cx="131.88" cy="305.42" r="1.95" fill="#3f83b9"/>
<circle cx="125.64" cy="300.74" r="1.95" fill="#3a79ab"/>
<circle cx="113.78" cy="299.94" r="1.95" fill="#306591"/>
<circle cx="131.94" cy="307.44" r="1.95" fill="#3e81b7"/>
<circle cx="151.62" cy="289.28" r="1.95" fill="#3f82b8"/>
<circle cx="80.59" cy="303.10" r="1.95" fill="#244c70"/>
<circle cx="144.94" cy="260.46" r="1.95" fill="#4c9cdb"/>
<circle cx="46.46" cy="299.81" r="1.95" fill="#152f48"/>
<circle cx="148.63" cy="339.28" r="1.95" fill="#4d9fde"/>
<circle cx="153.61" cy="292.37" r="1.95" fill="#3d80b5"/>
<circle cx="126.29" cy="272.45" r="1.95" fill="#458fca"/>
<circle cx="147.21" cy="253.68" r="1.95" fill="#4c9cdb"/>
<circle cx="147.74" cy="293.44" r="1.95" fill="#3d7eb3"/>
<circle cx="139.63" cy="280.57" r="1.95" fill="#448ec7"/>
<circle cx="135.75" cy="290.54" r="1.95" fill="#438ac3"/>
<circle cx="150.12" cy="331.15" r="1.95" fill="#50a5e6"/>
<circle cx="143.70" cy="249.63" r="1.95" fill="#52a9ec"/>
<circle cx="67.22" cy="300.75" r="1.95" fill="#234c6f"/>
<circle cx="152.74" cy="293.48" r="1.95" fill="#3f84ba"/>
<circle cx="145.55" cy="257.50" r="1.95" fill="#4ea1e1"/>
<circle cx="142.57" cy="256.82" r="1.95" fill="#4b9ad9"/>
<circle cx="80.54" cy="299.07" r="1.95" fill="#254f73"/>
<circle cx="149.30" cy="332.31" r="1.95" fill="#4b9cdb"/>
<circle cx="142.01" cy="292.33" r="1.95" fill="#3d7fb4"/>
<circle cx="55.96" cy="301.99" r="1.95" fill="#1a3855"/>
<circle cx="148.37" cy="334.76" r="1.95" fill="#4a9ad8"/>
<circle cx="140.53" cy="318.97" r="1.95" fill="#438bc4"/>
<circle cx="132.92" cy="271.83" r="1.95" fill="#458ec8"/>
<circle cx="47.58" cy="296.85" r="1.95" fill="#16314b"/>
<circle cx="138.78" cy="315.75" r="1.95" fill="#438ac3"/>
<circle cx="110.69" cy="301.14" r="1.95" fill="#2c5e87"/>
<circle cx="140.86" cy="256.32" r="1.95" fill="#4b9cda"/>
<circle cx="150.57" cy="334.76" r="1.95" fill="#4b9ad9"/>
<circle cx="74.08" cy="301.72" r="1.95" fill="#22496b"/>
<circle cx="130.37" cy="298.19" r="1.95" fill="#3a79ab"/>
<circle cx="49.47" cy="298.77" r="1.95" fill="#152f48"/>
<circle cx="110.70" cy="301.01" r="1.95" fill="#2c5e87"/>
<circle cx="48.93" cy="294.23" r="1.95" fill="#142d45"/>
<circle cx="153.08" cy="289.23" r="1.95" fill="#4187bf"/>
<circle cx="96.23" cy="300.72" r="1.95" fill="#265075"/>
<circle cx="140.62" cy="291.35" r="1.95" fill="#3b7aad"/>
<circle cx="118.74" cy="303.32" r="1.95" fill="#306490"/>
<circle cx="51.36" cy="301.14" r="1.95" fill="#142c45"/>
<circle cx="136.37" cy="245.41" r="1.95" fill="#52aaed"/>
<circle cx="143.04" cy="290.83" r="1.95" fill="#3c7db1"/>
<circle cx="47.68" cy="301.66" r="1.95" fill="#183450"/>
<circle cx="94.81" cy="300.37" r="1.95" fill="#28567c"/>
<circle cx="145.71" cy="248.26" r="1.95" fill="#4fa3e5"/>
<circle cx="57.67" cy="300.78" r="1.95" fill="#15304a"/>
<circle cx="43.92" cy="297.49" r="1.95" fill="#152f48"/>
<circle cx="138.87" cy="251.46" r="1.95" fill="#50a5e7"/>
<circle cx="128.36" cy="272.33" r="1.95" fill="#438bc4"/>
<circle cx="50.51" cy="299.77" r="1.95" fill="#142c44"/>
<circle cx="45.01" cy="298.22" r="1.95" fill="#16314b"/>
<circle cx="141.09" cy="272.39" r="1.95" fill="#4b9bda"/>
<circle cx="80.77" cy="298.00" r="1.95" fill="#244e72"/>
<circle cx="142.05" cy="252.86" r="1.95" fill="#50a4e6"/>
<circle cx="131.14" cy="304.44" r="1.95" fill="#3f83b9"/>
<circle cx="141.43" cy="251.51" r="1.95" fill="#4c9ddc"/>
<circle cx="151.96" cy="328.52" r="1.95" fill="#4d9fdf"/>
<circle cx="46.52" cy="293.76" r="1.95" fill="#152f48"/>
<circle cx="140.56" cy="260.39" r="1.95" fill="#4d9ede"/>
<circle cx="152.36" cy="329.15" r="1.95" fill="#51a7ea"/>
<circle cx="74.98" cy="301.14" r="1.95" fill="#244d70"/>
<circle cx="143.67" cy="258.20" r="1.95" fill="#4c9ddc"/>
<circle cx="95.16" cy="301.76" r="1.95" fill="#275379"/>
<circle cx="149.67" cy="290.89" r="1.95" fill="#3d80b5"/>
<circle cx="138.37" cy="245.98" r="1.95" fill="#53aaee"/>
<circle cx="146.69" cy="289.76" r="1.95" fill="#3c7eb2"/>
<circle cx="150.07" cy="334.11" r="1.95" fill="#4a99d6"/>
<circle cx="70.30" cy="301.83" r="1.95" fill="#244d70"/>
<circle cx="73.97" cy="300.08" r="1.95" fill="#234b6e"/>
<circle cx="138.08" cy="280.79" r="1.95" fill="#438bc4"/>
<circle cx="52.74" cy="297.35" r="1.95" fill="#132b43"/>
<circle cx="48.82" cy="298.07" r="1.95" fill="#132c44"/>
<circle cx="93.48" cy="299.82" r="1.95" fill="#265176"/>
<circle cx="133.95" cy="310.41" r="1.95" fill="#4289c1"/>
<circle cx="148.72" cy="290.54" r="1.95" fill="#3c7cb0"/>
<circle cx="153.92" cy="293.16" r="1.95" fill="#3f83b9"/>
<circle cx="51.19" cy="300.38" r="1.95" fill="#132b43"/>
<circle cx="143.39" cy="256.01" r="1.95" fill="#4ea1e2"/>
<circle cx="56.16" cy="304.43" r="1.95" fill="#183550"/>
<circle cx="138.74" cy="248.80" r="1.95" fill="#50a5e7"/>
<circle cx="146.91" cy="329.71" r="1.95" fill="#4997d4"/>
<circle cx="142.25" cy="262.91" r="1.95" fill="#4b9bd9"/>
<circle cx="140.94" cy="247.01" r="1.95" fill="#4ea2e2"/>
<circle cx="142.17" cy="265.30" r="1.95" fill="#4c9edd"/>
<circle cx="140.30" cy="262.39" r="1.95" fill="#4a99d6"/>
<circle cx="139.97" cy="272.92" r="1.95" fill="#4997d4"/>
<circle cx="142.21" cy="260.90" r="1.95" fill="#4c9ddb"/>
<circle cx="58.09" cy="300.66" r="1.95" fill="#183651"/>
<circle cx="137.51" cy="285.06" r="1.95" fill="#4187bf"/>
<circle cx="141.54" cy="268.14" r="1.95" fill="#4a99d7"/>
<circle cx="153.62" cy="288.43" r="1.95" fill="#4187bf"/>
<circle cx="137.43" cy="282.62" r="1.95" fill="#4187be"/>
<circle cx="142.77" cy="259.43" r="1.95" fill="#4b9cdb"/>
<circle cx="71.40" cy="299.70" r="1.95" fill="#244d71"/>
<circle cx="54.07" cy="299.27" r="1.95" fill="#152e48"/>
<circle cx="121.83" cy="300.69" r="1.95" fill="#3773a3"/>
<circle cx="54.83" cy="304.00" r="1.95" fill="#16314b"/>
<circle cx="141.97" cy="245.37" r="1.95" fill="#53aaee"/>
<circle cx="135.15" cy="307.53" r="1.95" fill="#4187bf"/>
<circle cx="141.17" cy="253.90" r="1.95" fill="#4d9ede"/>
<circle cx="99.17" cy="299.04" r="1.95" fill="#265177"/>
<circle cx="142.62" cy="263.45" r="1.95" fill="#4a98d6"/>
<circle cx="140.05" cy="245.57" r="1.95" fill="#50a6e8"/>
<circle cx="144.91" cy="323.39" r="1.95" fill="#4691cc"/>
<circle cx="57.28" cy="302.64" r="1.95" fill="#183550"/>
<circle cx="131.11" cy="272.94" r="1.95" fill="#458ec8"/>
<circle cx="139.60" cy="272.18" r="1.95" fill="#4895d1"/>
<circle cx="91.53" cy="302.00" r="1.95" fill="#254f74"/>
<circle cx="135.43" cy="245.92" r="1.95" fill="#51a7ea"/>
<circle cx="140.47" cy="270.16" r="1.95" fill="#4895d2"/>
<circle cx="151.53" cy="338.27" r="1.95" fill="#4d9ede"/>
<circle cx="129.05" cy="271.21" r="1.95" fill="#448cc6"/>
<circle cx="153.00" cy="291.97" r="1.95" fill="#4187be"/>
<circle cx="148.07" cy="290.02" r="1.95" fill="#3e82b8"/>
<circle cx="113.06" cy="302.79" r="1.95" fill="#2f638e"/>
<circle cx="149.99" cy="335.85" r="1.95" fill="#4b9ad8"/>
<circle cx="136.61" cy="247.35" r="1.95" fill="#4d9ede"/>
<circle cx="143.84" cy="253.25" r="1.95" fill="#51a6e9"/>
<circle cx="152.18" cy="288.92" r="1.95" fill="#3b7bae"/>
<circle cx="89.88" cy="299.20" r="1.95" fill="#265175"/>
<circle cx="45.62" cy="299.73" r="1.95" fill="#132b43"/>
<circle cx="139.57" cy="263.69" r="1.95" fill="#4a98d6"/>
<circle cx="150.62" cy="286.71" r="1.95" fill="#3b7caf"/>
<circle cx="132.57" cy="270.18" r="1.95" fill="#4690cb"/>
<circle cx="146.03" cy="333.60" r="1.95" fill="#4ea2e2"/>
<circle cx="126.18" cy="271.36" r="1.95" fill="#458ec9"/>
<circle cx="151.31" cy="287.31" r="1.95" fill="#3e80b6"/>
<circle cx="141.20" cy="294.86" r="1.95" fill="#3c7cb0"/>
<circle cx="50.30" cy="300.98" r="1.95" fill="#17324d"/>
<circle cx="109.20" cy="301.03" r="1.95" fill="#2d5e88"/>
<circle cx="54.10" cy="302.30" r="1.95" fill="#142e47"/>
<circle cx="150.75" cy="287.90" r="1.95" fill="#3d7fb4"/>
<circle cx="85.45" cy="302.20" r="1.95" fill="#244d70"/>
<circle cx="47.84" cy="299.37" r="1.95" fill="#142d46"/>
<circle cx="121.06" cy="300.42" r="1.95" fill="#356f9f"/>
<circle cx="152.87" cy="287.88" r="1.95" fill="#3f83ba"/>
<circle cx="141.00" cy="251.84" r="1.95" fill="#51a7ea"/>
<circle cx="145.07" cy="331.65" r="1.95" fill="#4b9ad8"/>
<circle cx="93.93" cy="301.37" r="1.95" fill="#27547a"/>
<circle cx="50.17" cy="297.11" r="1.95" fill="#132c44"/>
<circle cx="62.60" cy="299.95" r="1.95" fill="#234a6d"/>
<circle cx="47.56" cy="296.37" r="1.95" fill="#17344f"/>
<circle cx="149.92" cy="290.75" r="1.95" fill="#3d80b5"/>
<circle cx="143.43" cy="246.18" r="1.95" fill="#51a7ea"/>
<circle cx="84.81" cy="299.54" r="1.95" fill="#254f74"/>
<circle cx="43.84" cy="298.81" r="1.95" fill="#142e46"/>
<circle cx="124.25" cy="270.58" r="1.95" fill="#4690cb"/>
<circle cx="140.73" cy="266.70" r="1.95" fill="#4895d2"/>
<circle cx="142.82" cy="258.70" r="1.95" fill="#4c9ddc"/>
<circle cx="98.00" cy="298.64" r="1.95" fill="#29567d"/>
<circle cx="144.38" cy="252.79" r="1.95" fill="#50a5e6"/>
<circle cx="149.84" cy="331.40" r="1.95" fill="#4b9bda"/>
<circle cx="141.44" cy="251.00" r="1.95" fill="#4ea1e1"/>
<circle cx="98.16" cy="301.05" r="1.95" fill="#275277"/>
<circle cx="98.06" cy="296.43" r="1.95" fill="#275379"/>
<circle cx="149.53" cy="289.07" r="1.95" fill="#3b7aae"/>
<circle cx="46.21" cy="300.17" r="1.95" fill="#152f48"/>
<circle cx="142.86" cy="245.99" r="1.95" fill="#4ea1e2"/>
<circle cx="148.72" cy="287.57" r="1.95" fill="#4187bf"/>
<circle cx="137.69" cy="252.03" r="1.95" fill="#50a6e8"/>
<circle cx="137.93" cy="249.83" r="1.95" fill="#4ea0e1"/>
<circle cx="126.22" cy="272.87" r="1.95" fill="#458fca"/>
<circle cx="140.58" cy="244.91" r="1.95" fill="#4ea2e3"/>
<circle cx="50.10" cy="299.52" r="1.95" fill="#132b43"/>
<circle cx="48.71" cy="298.37" r="1.95" fill="#152f48"/>
<circle cx="98.72" cy="302.10" r="1.95" fill="#275379"/>
<circle cx="136.94" cy="245.63" r="1.95" fill="#51a8eb"/>
<circle cx="109.12" cy="300.79" r="1.95" fill="#2d5f89"/>
<circle cx="67.10" cy="300.28" r="1.95" fill="#224a6c"/>
<circle cx="151.66" cy="291.10" r="1.95" fill="#3d7eb3"/>
<circle cx="80.50" cy="299.99" r="1.95" fill="#244d70"/>
<circle cx="146.85" cy="326.46" r="1.95" fill="#4690cb"/>
<circle cx="135.27" cy="249.17" r="1.95" fill="#51a7ea"/>
<circle cx="144.16" cy="251.03" r="1.95" fill="#4d9fdf"/>
<circle cx="137.53" cy="248.94" r="1.95" fill="#4ea2e3"/>
<circle cx="69.69" cy="303.00" r="1.95" fill="#22486a"/>
<circle cx="142.34" cy="247.68" r="1.95" fill="#50a4e6"/>
<circle cx="48.44" cy="302.46" r="1.95" fill="#15304a"/>
<circle cx="144.86" cy="256.29" r="1.95" fill="#4fa3e4"/>
<circle cx="139.74" cy="287.99" r="1.95" fill="#4085bc"/>
<circle cx="43.82" cy="297.26" r="1.95" fill="#132b43"/>
<circle cx="46.63" cy="297.60" r="1.95" fill="#17334e"/>
<circle cx="139.89" cy="250.84" r="1.95" fill="#53abef"/>
<circle cx="89.94" cy="300.36" r="1.95" fill="#275278"/>
<circle cx="137.75" cy="246.03" r="1.95" fill="#53abf0"/>
<circle cx="45.73" cy="294.41" r="1.95" fill="#142d45"/>
<circle cx="142.57" cy="319.63" r="1.95" fill="#448ec8"/>
<circle cx="149.43" cy="339.04" r="1.95" fill="#4d9ede"/>
<circle cx="137.03" cy="312.92" r="1.95" fill="#4188c0"/>
<circle cx="51.90" cy="297.09" r="1.95" fill="#16314b"/>
<circle cx="67.35" cy="300.99" r="1.95" fill="#214769"/>
<circle cx="144.82" cy="247.79" r="1.95" fill="#53abee"/>
<circle cx="137.80" cy="320.60" r="1.95" fill="#4b9bda"/>
<circle cx="141.16" cy="254.32" r="1.95" fill="#4ea1e1"/>
<circle cx="137.85" cy="283.23" r="1.95" fill="#438ac3"/>
<circle cx="148.23" cy="334.96" r="1.95" fill="#4b9ad9"/>
<circle cx="136.45" cy="246.44" r="1.95" fill="#50a5e7"/>
<circle cx="141.28" cy="272.38" r="1.95" fill="#4a9ad8"/>
<circle cx="139.25" cy="315.47" r="1.95" fill="#438bc3"/>
<circle cx="137.93" cy="274.47" r="1.95" fill="#4895d1"/>
<circle cx="153.34" cy="333.86" r="1.95" fill="#4da0e0"/>
<circle cx="150.00" cy="330.48" r="1.95" fill="#4ea1e2"/>
<circle cx="140.74" cy="256.68" r="1.95" fill="#4da0e0"/>
<circle cx="145.91" cy="248.46" r="1.95" fill="#4fa4e5"/>
<circle cx="149.87" cy="286.83" r="1.95" fill="#3b7bae"/>
<circle cx="131.40" cy="271.44" r="1.95" fill="#438bc4"/>
<circle cx="43.56" cy="296.89" r="1.95" fill="#132b43"/>
<circle cx="150.54" cy="292.38" r="1.95" fill="#3d7fb4"/>
<circle cx="132.80" cy="296.24" r="1.95" fill="#3b7caf"/>
<circle cx="136.49" cy="288.60" r="1.95" fill="#4288c0"/>
<circle cx="47.34" cy="293.70" r="1.95" fill="#132b43"/>
<circle cx="130.03" cy="298.78" r="1.95" fill="#3977a9"/>
<circle cx="141.42" cy="267.18" r="1.95" fill="#4895d2"/>
<circle cx="137.43" cy="289.09" r="1.95" fill="#4188c0"/>
<circle cx="151.87" cy="288.73" r="1.95" fill="#3e82b7"/>
<circle cx="149.94" cy="290.12" r="1.95" fill="#3e82b8"/>
<circle cx="144.95" cy="332.71" r="1.95" fill="#4fa4e5"/>
<circle cx="54.74" cy="302.70" r="1.95" fill="#16314b"/>
<circle cx="55.00" cy="301.21" r="1.95" fill="#152f49"/>
<circle cx="53.71" cy="298.53" r="1.95" fill="#16314b"/>
<circle cx="146.11" cy="256.46" r="1.95" fill="#4fa2e3"/>
<circle cx="150.32" cy="292.67" r="1.95" fill="#3c7eb2"/>
<circle cx="54.53" cy="298.06" r="1.95" fill="#132b43"/>
<circle cx="149.22" cy="330.48" r="1.95" fill="#4ea1e2"/>
<circle cx="46.92" cy="293.51" r="1.95" fill="#16304a"/>
<circle cx="148.26" cy="335.42" r="1.95" fill="#50a5e6"/>
<circle cx="88.76" cy="300.36" r="1.95" fill="#254f73"/>
<circle cx="97.32" cy="297.48" r="1.95" fill="#27547a"/>
<circle cx="107.12" cy="301.09" r="1.95" fill="#2c5e87"/>
<circle cx="149.73" cy="335.59" r="1.95" fill="#4c9ddd"/>
<circle cx="129.03" cy="273.17" r="1.95" fill="#4690cb"/>
<circle cx="144.23" cy="332.46" r="1.95" fill="#4ea1e1"/>
<circle cx="140.80" cy="247.26" r="1.95" fill="#51a8ea"/>
<circle cx="69.95" cy="299.37" r="1.95" fill="#234b6e"/>
<circle cx="127.16" cy="269.38" r="1.95" fill="#438bc4"/>
<circle cx="142.68" cy="318.48" r="1.95" fill="#438cc5"/>
<circle cx="53.25" cy="300.61" r="1.95" fill="#16314b"/>
<circle cx="45.45" cy="296.29" r="1.95" fill="#16304a"/>
<circle cx="53.12" cy="297.29" r="1.95" fill="#17334d"/>
<circle cx="145.68" cy="330.00" r="1.95" fill="#4b9ad8"/>
<circle cx="143.00" cy="330.46" r="1.95" fill="#4b9ad8"/>
<circle cx="150.11" cy="332.10" r="1.95" fill="#4da0e0"/>
<circle cx="75.01" cy="300.92" r="1.95" fill="#22496c"/>
<circle cx="50.20" cy="296.99" r="1.95" fill="#17324c"/>
<circle cx="49.70" cy="299.04" r="1.95" fill="#142d45"/>
<circle cx="45.16" cy="297.80" r="1.95" fill="#152e47"/>
<circle cx="80.73" cy="299.77" r="1.95" fill="#255074"/>
<circle cx="139.72" cy="283.79" r="1.95" fill="#448dc7"/>
<circle cx="78.94" cy="299.82" r="1.95" fill="#234b6e"/>
<circle cx="137.80" cy="327.70" r="1.95" fill="#4c9ddb"/>
<circle cx="55.70" cy="300.12" r="1.95" fill="#152f49"/>
<circle cx="51.31" cy="301.60" r="1.95" fill="#17344f"/>
<circle cx="45.56" cy="299.56" r="1.95" fill="#142e47"/>
<circle cx="46.41" cy="299.26" r="1.95" fill="#142c44"/>
<circle cx="63.36" cy="299.57" r="1.95" fill="#224a6c"/>
<circle cx="73.64" cy="301.57" r="1.95" fill="#234b6e"/>
<circle cx="137.71" cy="313.56" r="1.95" fill="#4288c1"/>
<circle cx="50.25" cy="297.08" r="1.95" fill="#152f48"/>
<circle cx="133.72" cy="308.21" r="1.95" fill="#3f84ba"/>
<circle cx="147.44" cy="329.01" r="1.95" fill="#4fa4e5"/>
<circle cx="128.70" cy="300.60" r="4.60" fill="#000"/>
<text x="128.70" y="303.60" font-size="8.4" text-anchor="middle" font-weight="bold" fill="#fff" stroke="#fff">1</text>
<circle cx="136.90" cy="292.20" r="4.60" fill="#000"/>
<text x="136.90" y="295.20" font-size="8.4" text-anchor="middle" font-weight="bold" fill="#fff" stroke="#fff">2</text>
<circle cx="137.20" cy="275.90" r="4.60" fill="#000"/>
<text x="137.20" y="278.90" font-size="8.4" text-anchor="middle" font-weight="bold" fill="#fff" stroke="#fff">3</text>
</g>
<g transform="translate(301.70,0)">
<line x1="39.30" y1="240.80" x2="39.30" y2="343.90" stroke="#363636" stroke-width="1.1"/>
<line x1="38.80" y1="343.40" x2="159.90" y2="343.40" stroke="#363636" stroke-width="1.1"/>
<line x1="36.50" y1="264.98" x2="39.30" y2="264.98" stroke="#333" stroke-width="1.0"/>
<text x="34.00" y="268.08" font-size="8.6" text-anchor="end" fill="#333" stroke="#333">4</text>
<line x1="36.50" y1="293.10" x2="39.30" y2="293.10" stroke="#333" stroke-width="1.0"/>
<text x="34.00" y="296.20" font-size="8.6" text-anchor="end" fill="#333" stroke="#333">0</text>
<line x1="36.50" y1="321.22" x2="39.30" y2="321.22" stroke="#333" stroke-width="1.0"/>
<text x="34.00" y="324.32" font-size="8.6" text-anchor="end" fill="#333" stroke="#333">−4</text>
<line x1="57.10" y1="343.40" x2="57.10" y2="345.90" stroke="#333" stroke-width="1.0"/>
<text x="57.10" y="356.00" font-size="8.6" text-anchor="middle" fill="#333" stroke="#333">−10</text>
<line x1="91.40" y1="343.40" x2="91.40" y2="345.90" stroke="#333" stroke-width="1.0"/>
<text x="91.40" y="356.00" font-size="8.6" text-anchor="middle" fill="#333" stroke="#333">−5</text>
<line x1="125.70" y1="343.40" x2="125.70" y2="345.90" stroke="#333" stroke-width="1.0"/>
<text x="125.70" y="356.00" font-size="8.6" text-anchor="middle" fill="#333" stroke="#333">0</text>
<text x="98.60" y="368.60" font-size="12.0" text-anchor="middle" fill="#111" stroke="#111">Component 1</text>
<text transform="translate(21.10,292.3) rotate(-90)" font-size="12.0" text-anchor="middle" fill="#111" stroke="#111">Component 2</text>
<line x1="45.50" y1="300.40" x2="128.70" y2="300.60" stroke="#000" stroke-width="1.5"/>
<line x1="128.70" y1="300.60" x2="136.90" y2="292.20" stroke="#000" stroke-width="1.5"/>
<line x1="136.90" y1="292.20" x2="151.00" y2="292.80" stroke="#000" stroke-width="1.5"/>
<line x1="136.90" y1="292.20" x2="137.20" y2="275.90" stroke="#000" stroke-width="1.5"/>
<line x1="137.20" y1="275.90" x2="125.00" y2="271.50" stroke="#000" stroke-width="1.5"/>
<line x1="137.20" y1="275.90" x2="141.60" y2="248.00" stroke="#000" stroke-width="1.5"/>
<line x1="128.70" y1="300.60" x2="151.50" y2="336.50" stroke="#000" stroke-width="1.5"/>
<circle cx="140.25" cy="251.80" r="1.95" fill="#8286ca"/>
<circle cx="138.30" cy="288.32" r="1.95" fill="#ef91a1"/>
<circle cx="150.02" cy="334.57" r="1.95" fill="#34369a"/>
<circle cx="151.60" cy="336.62" r="1.95" fill="#38399c"/>
<circle cx="108.60" cy="302.51" r="1.95" fill="#e3c5d9"/>
<circle cx="142.18" cy="331.85" r="1.95" fill="#dbd5ec"/>
<circle cx="109.70" cy="302.27" r="1.95" fill="#888cce"/>
<circle cx="152.95" cy="291.28" r="1.95" fill="#f099aa"/>
<circle cx="141.81" cy="267.92" r="1.95" fill="#e8bbce"/>
<circle cx="150.68" cy="337.99" r="1.95" fill="#6365b7"/>
<circle cx="151.68" cy="292.98" r="1.95" fill="#ec7e8e"/>
<circle cx="140.62" cy="249.53" r="1.95" fill="#e75b6a"/>
<circle cx="141.07" cy="258.24" r="1.95" fill="#6265b6"/>
<circle cx="142.46" cy="330.41" r="1.95" fill="#ebb4c6"/>
<circle cx="116.04" cy="300.19" r="1.95" fill="#d9d3eb"/>
<circle cx="49.30" cy="300.11" r="1.95" fill="#e9b7ca"/>
<circle cx="135.07" cy="249.38" r="1.95" fill="#f098a9"/>
<circle cx="149.62" cy="294.14" r="1.95" fill="#e13947"/>
<circle cx="135.23" cy="248.20" r="1.95" fill="#ddd4e9"/>
<circle cx="145.11" cy="247.50" r="1.95" fill="#f1a0b1"/>
<circle cx="151.28" cy="329.59" r="1.95" fill="#2e2f96"/>
<circle cx="137.10" cy="286.08" r="1.95" fill="#f095a6"/>
<circle cx="150.04" cy="294.28" r="1.95" fill="#e86170"/>
<circle cx="55.72" cy="302.75" r="1.95" fill="#6f72be"/>
<circle cx="44.88" cy="298.64" r="1.95" fill="#7c80c6"/>
<circle cx="147.87" cy="292.78" r="1.95" fill="#e96878"/>
<circle cx="124.91" cy="272.02" r="1.95" fill="#e0cde2"/>
<circle cx="145.23" cy="334.13" r="1.95" fill="#5254ac"/>
<circle cx="78.38" cy="300.10" r="1.95" fill="#6265b6"/>
<circle cx="149.91" cy="330.75" r="1.95" fill="#e0cde2"/>
<circle cx="141.95" cy="253.20" r="1.95" fill="#f0a8b9"/>
<circle cx="48.90" cy="297.78" r="1.95" fill="#f098a9"/>
<circle cx="149.90" cy="336.62" r="1.95" fill="#efa9bb"/>
<circle cx="126.18" cy="269.50" r="1.95" fill="#a7a8d9"/>
<circle cx="50.25" cy="298.49" r="1.95" fill="#777ac3"/>
<circle cx="47.59" cy="298.31" r="1.95" fill="#5558ae"/>
<circle cx="141.82" cy="246.03" r="1.95" fill="#ee8a9a"/>
<circle cx="137.40" cy="272.53" r="1.95" fill="#ded2e8"/>
<circle cx="48.52" cy="298.57" r="1.95" fill="#c6c3e4"/>
<circle cx="93.31" cy="299.36" r="1.95" fill="#7b7fc6"/>
<circle cx="147.84" cy="293.31" r="1.95" fill="#eb7989"/>
<circle cx="151.69" cy="293.66" r="1.95" fill="#e96877"/>
<circle cx="131.50" cy="306.08" r="1.95" fill="#dad4eb"/>
<circle cx="141.45" cy="260.47" r="1.95" fill="#e75d6c"/>
<circle cx="46.39" cy="296.07" r="1.95" fill="#f098a9"/>
<circle cx="144.60" cy="332.82" r="1.95" fill="#2e2f96"/>
<circle cx="147.57" cy="329.41" r="1.95" fill="#eb7484"/>
<circle cx="148.87" cy="335.13" r="1.95" fill="#ee8999"/>
<circle cx="100.94" cy="298.90" r="1.95" fill="#a4a5d8"/>
<circle cx="116.70" cy="304.09" r="1.95" fill="#7e81c7"/>
<circle cx="45.66" cy="298.76" r="1.95" fill="#686bba"/>
<circle cx="151.44" cy="331.32" r="1.95" fill="#d7d2ea"/>
<circle cx="141.79" cy="274.40" r="1.95" fill="#eb7989"/>
<circle cx="148.14" cy="339.45" r="1.95" fill="#4c4ea8"/>
<circle cx="143.78" cy="333.91" r="1.95" fill="#5a5cb1"/>
<circle cx="141.86" cy="252.88" r="1.95" fill="#cecae7"/>
<circle cx="72.12" cy="303.39" r="1.95" fill="#5254ac"/>
<circle cx="131.74" cy="270.29" r="1.95" fill="#ef92a2"/>
<circle cx="52.55" cy="297.97" r="1.95" fill="#787bc4"/>
<circle cx="143.57" cy="332.53" r="1.95" fill="#b8b7e0"/>
<circle cx="143.71" cy="260.99" r="1.95" fill="#5d5fb3"/>
<circle cx="144.39" cy="247.99" r="1.95" fill="#c4c1e4"/>
<circle cx="139.19" cy="268.04" r="1.95" fill="#8b8fd0"/>
<circle cx="142.81" cy="254.45" r="1.95" fill="#ef8e9e"/>
<circle cx="142.05" cy="261.28" r="1.95" fill="#7a7ec5"/>
<circle cx="106.80" cy="299.31" r="1.95" fill="#f2a4b5"/>
<circle cx="148.09" cy="335.25" r="1.95" fill="#6769b9"/>
<circle cx="54.08" cy="303.20" r="1.95" fill="#6b6ebb"/>
<circle cx="62.92" cy="302.73" r="1.95" fill="#a6a6d9"/>
<circle cx="45.49" cy="294.35" r="1.95" fill="#37389c"/>
<circle cx="55.65" cy="300.70" r="1.95" fill="#3a3c9e"/>
<circle cx="139.95" cy="316.16" r="1.95" fill="#303197"/>
<circle cx="140.13" cy="264.15" r="1.95" fill="#e44856"/>
<circle cx="137.98" cy="291.28" r="1.95" fill="#989ad4"/>
<circle cx="149.33" cy="332.91" r="1.95" fill="#6264b6"/>
<circle cx="66.44" cy="300.02" r="1.95" fill="#313298"/>
<circle cx="139.66" cy="270.85" r="1.95" fill="#eb7786"/>
<circle cx="121.38" cy="300.72" r="1.95" fill="#8487cb"/>
<circle cx="140.67" cy="272.30" r="1.95" fill="#5355ad"/>
<circle cx="97.32" cy="299.64" r="1.95" fill="#7e82c8"/>
<circle cx="53.31" cy="298.78" r="1.95" fill="#e5c2d6"/>
<circle cx="130.31" cy="270.74" r="1.95" fill="#e34251"/>
<circle cx="142.49" cy="264.32" r="1.95" fill="#eb7584"/>
<circle cx="138.96" cy="279.53" r="1.95" fill="#ea7181"/>
<circle cx="152.31" cy="294.32" r="1.95" fill="#f094a4"/>
<circle cx="141.89" cy="258.54" r="1.95" fill="#cdc9e7"/>
<circle cx="69.64" cy="300.73" r="1.95" fill="#333499"/>
<circle cx="63.05" cy="301.00" r="1.95" fill="#3a3b9d"/>
<circle cx="45.66" cy="297.88" r="1.95" fill="#d8d3eb"/>
<circle cx="148.93" cy="332.24" r="1.95" fill="#999bd5"/>
<circle cx="131.88" cy="305.42" r="1.95" fill="#ef8e9f"/>
<circle cx="125.64" cy="300.74" r="1.95" fill="#d2cde8"/>
<circle cx="113.78" cy="299.94" r="1.95" fill="#4345a3"/>
<circle cx="131.94" cy="307.44" r="1.95" fill="#4e50aa"/>
<circle cx="151.62" cy="289.28" r="1.95" fill="#d3cee9"/>
<circle cx="80.59" cy="303.10" r="1.95" fill="#6062b5"/>
<circle cx="144.94" cy="260.46" r="1.95" fill="#eab5c8"/>
<circle cx="46.46" cy="299.81" r="1.95" fill="#cbc8e6"/>
<circle cx="148.63" cy="339.28" r="1.95" fill="#5a5cb1"/>
<circle cx="153.61" cy="292.37" r="1.95" fill="#ea6d7d"/>
<circle cx="126.29" cy="272.45" r="1.95" fill="#e5505e"/>
<circle cx="147.21" cy="253.68" r="1.95" fill="#dcd6ec"/>
<circle cx="147.74" cy="293.44" r="1.95" fill="#e34655"/>
<circle cx="139.63" cy="280.57" r="1.95" fill="#ec7c8c"/>
<circle cx="135.75" cy="290.54" r="1.95" fill="#dfcfe5"/>
<circle cx="150.12" cy="331.15" r="1.95" fill="#ec7b8b"/>
<circle cx="143.70" cy="249.63" r="1.95" fill="#ee8c9d"/>
<circle cx="67.22" cy="300.75" r="1.95" fill="#c2c0e3"/>
<circle cx="152.74" cy="293.48" r="1.95" fill="#eb7988"/>
<circle cx="145.55" cy="257.50" r="1.95" fill="#e4c2d7"/>
<circle cx="142.57" cy="256.82" r="1.95" fill="#8285ca"/>
<circle cx="80.54" cy="299.07" r="1.95" fill="#eeadbf"/>
<circle cx="149.30" cy="332.31" r="1.95" fill="#abacdb"/>
<circle cx="142.01" cy="292.33" r="1.95" fill="#ea6d7d"/>
<circle cx="55.96" cy="301.99" r="1.95" fill="#6163b5"/>
<circle cx="148.37" cy="334.76" r="1.95" fill="#4f52ab"/>
<circle cx="140.53" cy="318.97" r="1.95" fill="#4749a6"/>
<circle cx="132.92" cy="271.83" r="1.95" fill="#7b7ec6"/>
<circle cx="47.58" cy="296.85" r="1.95" fill="#3f41a1"/>
<circle cx="138.78" cy="315.75" r="1.95" fill="#bcbae1"/>
<circle cx="110.69" cy="301.14" r="1.95" fill="#4446a3"/>
<circle cx="140.86" cy="256.32" r="1.95" fill="#eb7989"/>
<circle cx="150.57" cy="334.76" r="1.95" fill="#f19bac"/>
<circle cx="74.08" cy="301.72" r="1.95" fill="#ddd4e9"/>
<circle cx="130.37" cy="298.19" r="1.95" fill="#e6c0d3"/>
<circle cx="49.47" cy="298.77" r="1.95" fill="#3b3d9e"/>
<circle cx="110.70" cy="301.01" r="1.95" fill="#5e61b4"/>
<circle cx="48.93" cy="294.23" r="1.95" fill="#6f72be"/>
<circle cx="153.08" cy="289.23" r="1.95" fill="#c7c3e4"/>
<circle cx="96.23" cy="300.72" r="1.95" fill="#4a4ca8"/>
<circle cx="140.62" cy="291.35" r="1.95" fill="#e34553"/>
<circle cx="118.74" cy="303.32" r="1.95" fill="#575aaf"/>
<circle cx="51.36" cy="301.14" r="1.95" fill="#e2c8dd"/>
<circle cx="136.37" cy="245.41" r="1.95" fill="#ddd3e9"/>
<circle cx="143.04" cy="290.83" r="1.95" fill="#e23f4e"/>
<circle cx="47.68" cy="301.66" r="1.95" fill="#3f41a1"/>
<circle cx="94.81" cy="300.37" r="1.95" fill="#4e50aa"/>
<circle cx="145.71" cy="248.26" r="1.95" fill="#ee8b9b"/>
<circle cx="57.67" cy="300.78" r="1.95" fill="#4c4ea9"/>
<circle cx="43.92" cy="297.49" r="1.95" fill="#e5c0d4"/>
<circle cx="138.87" cy="251.46" r="1.95" fill="#e34250"/>
<circle cx="128.36" cy="272.33" r="1.95" fill="#ee8b9b"/>
<circle cx="50.51" cy="299.77" r="1.95" fill="#e2c9de"/>
<circle cx="45.01" cy="298.22" r="1.95" fill="#696cba"/>
<circle cx="141.09" cy="272.39" r="1.95" fill="#cfcbe7"/>
<circle cx="80.77" cy="298.00" r="1.95" fill="#383a9c"/>
<circle cx="142.05" cy="252.86" r="1.95" fill="#787bc4"/>
<circle cx="131.14" cy="304.44" r="1.95" fill="#595cb1"/>
<circle cx="141.43" cy="251.51" r="1.95" fill="#f1a5b6"/>
<circle cx="151.96" cy="328.52" r="1.95" fill="#5759af"/>
<circle cx="46.52" cy="293.76" r="1.95" fill="#cecae7"/>
<circle cx="140.56" cy="260.39" r="1.95" fill="#d0cce8"/>
<circle cx="152.36" cy="329.15" r="1.95" fill="#ecb0c3"/>
<circle cx="74.98" cy="301.14" r="1.95" fill="#8488cb"/>
<circle cx="143.67" cy="258.20" r="1.95" fill="#7477c1"/>
<circle cx="95.16" cy="301.76" r="1.95" fill="#6163b5"/>
<circle cx="149.67" cy="290.89" r="1.95" fill="#ee8c9d"/>
<circle cx="138.37" cy="245.98" r="1.95" fill="#ef92a3"/>
<circle cx="146.69" cy="289.76" r="1.95" fill="#ddd4ea"/>
<circle cx="150.07" cy="334.11" r="1.95" fill="#a7a8d9"/>
<circle cx="70.30" cy="301.83" r="1.95" fill="#8083c8"/>
<circle cx="73.97" cy="300.08" r="1.95" fill="#d3cee9"/>
<circle cx="138.08" cy="280.79" r="1.95" fill="#f2a3b4"/>
<circle cx="52.74" cy="297.35" r="1.95" fill="#4c4ea9"/>
<circle cx="48.82" cy="298.07" r="1.95" fill="#c3c0e3"/>
<circle cx="93.48" cy="299.82" r="1.95" fill="#797dc4"/>
<circle cx="133.95" cy="310.41" r="1.95" fill="#6265b6"/>
<circle cx="148.72" cy="290.54" r="1.95" fill="#ec7e8e"/>
<circle cx="153.92" cy="293.16" r="1.95" fill="#ef8f9f"/>
<circle cx="51.19" cy="300.38" r="1.95" fill="#4d4fa9"/>
<circle cx="143.39" cy="256.01" r="1.95" fill="#ed8192"/>
<circle cx="56.16" cy="304.43" r="1.95" fill="#4f51aa"/>
<circle cx="138.74" cy="248.80" r="1.95" fill="#d1cde8"/>
<circle cx="146.91" cy="329.71" r="1.95" fill="#5153ac"/>
<circle cx="142.25" cy="262.91" r="1.95" fill="#ded2e8"/>
<circle cx="140.94" cy="247.01" r="1.95" fill="#e3c6db"/>
<circle cx="142.17" cy="265.30" r="1.95" fill="#ed8191"/>
<circle cx="140.30" cy="262.39" r="1.95" fill="#ea7080"/>
<circle cx="139.97" cy="272.92" r="1.95" fill="#f096a7"/>
<circle cx="142.21" cy="260.90" r="1.95" fill="#ef91a2"/>
<circle cx="58.09" cy="300.66" r="1.95" fill="#484aa6"/>
<circle cx="137.51" cy="285.06" r="1.95" fill="#cecae7"/>
<circle cx="141.54" cy="268.14" r="1.95" fill="#eb7887"/>
<circle cx="153.62" cy="288.43" r="1.95" fill="#e44958"/>
<circle cx="137.43" cy="282.62" r="1.95" fill="#8b8fcf"/>
<circle cx="142.77" cy="259.43" r="1.95" fill="#f19bab"/>
<circle cx="71.40" cy="299.70" r="1.95" fill="#5658ae"/>
<circle cx="54.07" cy="299.27" r="1.95" fill="#cac6e6"/>
<circle cx="121.83" cy="300.69" r="1.95" fill="#9fa0d7"/>
<circle cx="54.83" cy="304.00" r="1.95" fill="#7d81c7"/>
<circle cx="141.97" cy="245.37" r="1.95" fill="#e54e5d"/>
<circle cx="135.15" cy="307.53" r="1.95" fill="#c2bfe3"/>
<circle cx="141.17" cy="253.90" r="1.95" fill="#d4cfe9"/>
<circle cx="99.17" cy="299.04" r="1.95" fill="#7f83c8"/>
<circle cx="142.62" cy="263.45" r="1.95" fill="#6466b7"/>
<circle cx="140.05" cy="245.57" r="1.95" fill="#dfcfe4"/>
<circle cx="144.91" cy="323.39" r="1.95" fill="#585ab0"/>
<circle cx="57.28" cy="302.64" r="1.95" fill="#4d4fa9"/>
<circle cx="131.11" cy="272.94" r="1.95" fill="#b4b3de"/>
<circle cx="139.60" cy="272.18" r="1.95" fill="#e6bed2"/>
<circle cx="91.53" cy="302.00" r="1.95" fill="#6769b9"/>
<circle cx="135.43" cy="245.92" r="1.95" fill="#7376c0"/>
<circle cx="140.47" cy="270.16" r="1.95" fill="#eab4c7"/>
<circle cx="151.53" cy="338.27" r="1.95" fill="#e0cde2"/>
<circle cx="129.05" cy="271.21" r="1.95" fill="#a8a9da"/>
<circle cx="153.00" cy="291.97" r="1.95" fill="#f094a4"/>
<circle cx="148.07" cy="290.02" r="1.95" fill="#e54f5e"/>
<circle cx="113.06" cy="302.79" r="1.95" fill="#5d60b3"/>
<circle cx="149.99" cy="335.85" r="1.95" fill="#6265b6"/>
<circle cx="136.61" cy="247.35" r="1.95" fill="#e54d5c"/>
<circle cx="143.84" cy="253.25" r="1.95" fill="#e8bacd"/>
<circle cx="152.18" cy="288.92" r="1.95" fill="#e75a69"/>
<circle cx="89.88" cy="299.20" r="1.95" fill="#303197"/>
<circle cx="45.62" cy="299.73" r="1.95" fill="#ee8a9a"/>
<circle cx="139.57" cy="263.69" r="1.95" fill="#f1a5b7"/>
<circle cx="150.62" cy="286.71" r="1.95" fill="#e75c6c"/>
<circle cx="132.57" cy="270.18" r="1.95" fill="#8d91d0"/>
<circle cx="146.03" cy="333.60" r="1.95" fill="#333499"/>
<circle cx="126.18" cy="271.36" r="1.95" fill="#e13745"/>
<circle cx="151.31" cy="287.31" r="1.95" fill="#e44c5a"/>
<circle cx="141.20" cy="294.86" r="1.95" fill="#e96777"/>
<circle cx="50.30" cy="300.98" r="1.95" fill="#e3c5da"/>
<circle cx="109.20" cy="301.03" r="1.95" fill="#333499"/>
<circle cx="54.10" cy="302.30" r="1.95" fill="#5052ab"/>
<circle cx="150.75" cy="287.90" r="1.95" fill="#f19cad"/>
<circle cx="85.45" cy="302.20" r="1.95" fill="#3c3e9f"/>
<circle cx="47.84" cy="299.37" r="1.95" fill="#cdc9e7"/>
<circle cx="121.06" cy="300.42" r="1.95" fill="#323399"/>
<circle cx="152.87" cy="287.88" r="1.95" fill="#e55261"/>
<circle cx="141.00" cy="251.84" r="1.95" fill="#f098a8"/>
<circle cx="145.07" cy="331.65" r="1.95" fill="#d6d0ea"/>
<circle cx="93.93" cy="301.37" r="1.95" fill="#4345a3"/>
<circle cx="50.17" cy="297.11" r="1.95" fill="#f096a7"/>
<circle cx="62.60" cy="299.95" r="1.95" fill="#e2c9de"/>
<circle cx="47.56" cy="296.37" r="1.95" fill="#4b4da8"/>
<circle cx="149.92" cy="290.75" r="1.95" fill="#ec7e8e"/>
<circle cx="143.43" cy="246.18" r="1.95" fill="#eeadbf"/>
<circle cx="84.81" cy="299.54" r="1.95" fill="#6365b7"/>
<circle cx="43.84" cy="298.81" r="1.95" fill="#ee8a9b"/>
<circle cx="124.25" cy="270.58" r="1.95" fill="#6c6fbc"/>
<circle cx="140.73" cy="266.70" r="1.95" fill="#f2a2b3"/>
<circle cx="142.82" cy="258.70" r="1.95" fill="#f2a2b3"/>
<circle cx="98.00" cy="298.64" r="1.95" fill="#37389b"/>
<circle cx="144.38" cy="252.79" r="1.95" fill="#d2cde8"/>
<circle cx="149.84" cy="331.40" r="1.95" fill="#38399c"/>
<circle cx="141.44" cy="251.00" r="1.95" fill="#ed8595"/>
<circle cx="98.16" cy="301.05" r="1.95" fill="#303298"/>
<circle cx="98.06" cy="296.43" r="1.95" fill="#4446a4"/>
<circle cx="149.53" cy="289.07" r="1.95" fill="#efa9bb"/>
<circle cx="46.21" cy="300.17" r="1.95" fill="#f19aaa"/>
<circle cx="142.86" cy="245.99" r="1.95" fill="#ecb1c4"/>
<circle cx="148.72" cy="287.57" r="1.95" fill="#e96978"/>
<circle cx="137.69" cy="252.03" r="1.95" fill="#e75b6a"/>
<circle cx="137.93" cy="249.83" r="1.95" fill="#e34452"/>
<circle cx="126.22" cy="272.87" r="1.95" fill="#e96979"/>
<circle cx="140.58" cy="244.91" r="1.95" fill="#e3c6da"/>
<circle cx="50.10" cy="299.52" r="1.95" fill="#4344a3"/>
<circle cx="48.71" cy="298.37" r="1.95" fill="#ee8798"/>
<circle cx="98.72" cy="302.10" r="1.95" fill="#38399c"/>
<circle cx="136.94" cy="245.63" r="1.95" fill="#e86170"/>
<circle cx="109.12" cy="300.79" r="1.95" fill="#333499"/>
<circle cx="67.10" cy="300.28" r="1.95" fill="#5a5db1"/>
<circle cx="151.66" cy="291.10" r="1.95" fill="#e34250"/>
<circle cx="80.50" cy="299.99" r="1.95" fill="#3d3f9f"/>
<circle cx="146.85" cy="326.46" r="1.95" fill="#5456ad"/>
<circle cx="135.27" cy="249.17" r="1.95" fill="#e34250"/>
<circle cx="144.16" cy="251.03" r="1.95" fill="#ea7181"/>
<circle cx="137.53" cy="248.94" r="1.95" fill="#e75a69"/>
<circle cx="69.69" cy="303.00" r="1.95" fill="#9396d3"/>
<circle cx="142.34" cy="247.68" r="1.95" fill="#e3c5d9"/>
<circle cx="48.44" cy="302.46" r="1.95" fill="#f2a0b1"/>
<circle cx="144.86" cy="256.29" r="1.95" fill="#7376c0"/>
<circle cx="139.74" cy="287.99" r="1.95" fill="#f094a5"/>
<circle cx="43.82" cy="297.26" r="1.95" fill="#ef91a1"/>
<circle cx="46.63" cy="297.60" r="1.95" fill="#f2a1b2"/>
<circle cx="139.89" cy="250.84" r="1.95" fill="#f19eaf"/>
<circle cx="89.94" cy="300.36" r="1.95" fill="#8286ca"/>
<circle cx="137.75" cy="246.03" r="1.95" fill="#e9b7ca"/>
<circle cx="45.73" cy="294.41" r="1.95" fill="#f19bac"/>
<circle cx="142.57" cy="319.63" r="1.95" fill="#5d60b3"/>
<circle cx="149.43" cy="339.04" r="1.95" fill="#4d4fa9"/>
<circle cx="137.03" cy="312.92" r="1.95" fill="#37399c"/>
<circle cx="51.90" cy="297.09" r="1.95" fill="#c2bfe3"/>
<circle cx="67.35" cy="300.99" r="1.95" fill="#5254ac"/>
<circle cx="144.82" cy="247.79" r="1.95" fill="#ef92a3"/>
<circle cx="137.80" cy="320.60" r="1.95" fill="#b6b5df"/>
<circle cx="141.16" cy="254.32" r="1.95" fill="#ef91a1"/>
<circle cx="137.85" cy="283.23" r="1.95" fill="#b8b6df"/>
<circle cx="148.23" cy="334.96" r="1.95" fill="#5e60b3"/>
<circle cx="136.45" cy="246.44" r="1.95" fill="#ecb1c3"/>
<circle cx="141.28" cy="272.38" r="1.95" fill="#f19eae"/>
<circle cx="139.25" cy="315.47" r="1.95" fill="#6669b8"/>
<circle cx="137.93" cy="274.47" r="1.95" fill="#ecb0c2"/>
<circle cx="153.34" cy="333.86" r="1.95" fill="#5f61b4"/>
<circle cx="150.00" cy="330.48" r="1.95" fill="#f19bac"/>
<circle cx="140.74" cy="256.68" r="1.95" fill="#ef91a2"/>
<circle cx="145.91" cy="248.46" r="1.95" fill="#f2a3b4"/>
<circle cx="149.87" cy="286.83" r="1.95" fill="#e34452"/>
<circle cx="131.40" cy="271.44" r="1.95" fill="#a4a5d9"/>
<circle cx="43.56" cy="296.89" r="1.95" fill="#e9b8cb"/>
<circle cx="150.54" cy="292.38" r="1.95" fill="#e34453"/>
<circle cx="132.80" cy="296.24" r="1.95" fill="#a2a3d8"/>
<circle cx="136.49" cy="288.60" r="1.95" fill="#a5a6d9"/>
<circle cx="47.34" cy="293.70" r="1.95" fill="#ed8393"/>
<circle cx="130.03" cy="298.78" r="1.95" fill="#e65463"/>
<circle cx="141.42" cy="267.18" r="1.95" fill="#c6c3e4"/>
<circle cx="137.43" cy="289.09" r="1.95" fill="#e1c9de"/>
<circle cx="151.87" cy="288.73" r="1.95" fill="#e96a7a"/>
<circle cx="149.94" cy="290.12" r="1.95" fill="#e4c3d7"/>
<circle cx="144.95" cy="332.71" r="1.95" fill="#f095a6"/>
<circle cx="54.74" cy="302.70" r="1.95" fill="#2e2f96"/>
<circle cx="55.00" cy="301.21" r="1.95" fill="#38399c"/>
<circle cx="53.71" cy="298.53" r="1.95" fill="#f097a8"/>
<circle cx="146.11" cy="256.46" r="1.95" fill="#ef8d9d"/>
<circle cx="150.32" cy="292.67" r="1.95" fill="#e86574"/>
<circle cx="54.53" cy="298.06" r="1.95" fill="#4e50aa"/>
<circle cx="149.22" cy="330.48" r="1.95" fill="#cdc9e7"/>
<circle cx="46.92" cy="293.51" r="1.95" fill="#f19fb0"/>
<circle cx="148.26" cy="335.42" r="1.95" fill="#c0bee2"/>
<circle cx="88.76" cy="300.36" r="1.95" fill="#e0cce1"/>
<circle cx="97.32" cy="297.48" r="1.95" fill="#38399c"/>
<circle cx="107.12" cy="301.09" r="1.95" fill="#a3a4d8"/>
<circle cx="149.73" cy="335.59" r="1.95" fill="#eb7989"/>
<circle cx="129.03" cy="273.17" r="1.95" fill="#aaaada"/>
<circle cx="144.23" cy="332.46" r="1.95" fill="#343599"/>
<circle cx="140.80" cy="247.26" r="1.95" fill="#e7bdd0"/>
<circle cx="69.95" cy="299.37" r="1.95" fill="#8589cc"/>
<circle cx="127.16" cy="269.38" r="1.95" fill="#d2cde9"/>
<circle cx="142.68" cy="318.48" r="1.95" fill="#999cd5"/>
<circle cx="53.25" cy="300.61" r="1.95" fill="#ddd5eb"/>
<circle cx="45.45" cy="296.29" r="1.95" fill="#e9b9cc"/>
<circle cx="53.12" cy="297.29" r="1.95" fill="#eab6c9"/>
<circle cx="145.68" cy="330.00" r="1.95" fill="#5759af"/>
<circle cx="143.00" cy="330.46" r="1.95" fill="#dfcee4"/>
<circle cx="150.11" cy="332.10" r="1.95" fill="#585ab0"/>
<circle cx="75.01" cy="300.92" r="1.95" fill="#4c4ea8"/>
<circle cx="50.20" cy="296.99" r="1.95" fill="#f2a1b2"/>
<circle cx="49.70" cy="299.04" r="1.95" fill="#ecb1c4"/>
<circle cx="45.16" cy="297.80" r="1.95" fill="#ee8c9c"/>
<circle cx="80.73" cy="299.77" r="1.95" fill="#5557ae"/>
<circle cx="139.72" cy="283.79" r="1.95" fill="#eb7888"/>
<circle cx="78.94" cy="299.82" r="1.95" fill="#333499"/>
<circle cx="137.80" cy="327.70" r="1.95" fill="#d0cce8"/>
<circle cx="55.70" cy="300.12" r="1.95" fill="#f2a1b2"/>
<circle cx="51.31" cy="301.60" r="1.95" fill="#8286ca"/>
<circle cx="45.56" cy="299.56" r="1.95" fill="#ee8899"/>
<circle cx="46.41" cy="299.26" r="1.95" fill="#e1cbe0"/>
<circle cx="63.36" cy="299.57" r="1.95" fill="#3a3b9d"/>
<circle cx="73.64" cy="301.57" r="1.95" fill="#4a4ca7"/>
<circle cx="137.71" cy="313.56" r="1.95" fill="#686aba"/>
<circle cx="50.25" cy="297.08" r="1.95" fill="#e8bbce"/>
<circle cx="133.72" cy="308.21" r="1.95" fill="#adaddc"/>
<circle cx="147.44" cy="329.01" r="1.95" fill="#696bba"/>
<circle cx="128.70" cy="300.60" r="4.60" fill="#000"/>
<text x="128.70" y="303.60" font-size="8.4" text-anchor="middle" font-weight="bold" fill="#fff" stroke="#fff">1</text>
<circle cx="136.90" cy="292.20" r="4.60" fill="#000"/>
<text x="136.90" y="295.20" font-size="8.4" text-anchor="middle" font-weight="bold" fill="#fff" stroke="#fff">2</text>
<circle cx="137.20" cy="275.90" r="4.60" fill="#000"/>
<text x="137.20" y="278.90" font-size="8.4" text-anchor="middle" font-weight="bold" fill="#fff" stroke="#fff">3</text>
</g>
<circle cx="49.70" cy="221.00" r="2.30" fill="#F2766E"/>
<text x="54.70" y="224.10" font-size="11.9" fill="#111" stroke="#111">iCAFs</text>
<circle cx="109.40" cy="221.00" r="2.30" fill="#78AE3E"/>
<text x="114.40" y="224.10" font-size="11.9" fill="#111" stroke="#111">eCAFs</text>
<circle cx="49.70" cy="234.60" r="2.30" fill="#1FBEC2"/>
<text x="54.70" y="237.70" font-size="11.9" fill="#111" stroke="#111">apCAFs</text>
<circle cx="109.40" cy="234.60" r="2.30" fill="#9C80C6"/>
<text x="114.40" y="237.70" font-size="11.9" fill="#111" stroke="#111">myCAFs</text>
<text x="179.50" y="225.40" font-size="11.8" fill="#111" stroke="#111">Pseudotime</text>
<defs><linearGradient id="gpt" x1="0" x2="1" y1="0" y2="0"><stop offset="0" stop-color="#132B43"/><stop offset="1" stop-color="#56B1F7"/></linearGradient><linearGradient id="gae" x1="0" x2="1" y1="0" y2="0"><stop offset="0" stop-color="#2E2F96"/><stop offset="0.33" stop-color="#8C90D0"/><stop offset="0.52" stop-color="#DCD6EC"/><stop offset="0.62" stop-color="#F2A3B4"/><stop offset="1.0" stop-color="#E0303E"/></linearGradient></defs>
<rect x="245.90" y="213.80" width="62.40" height="12.70" fill="url(#gpt)"/>
<text x="246.10" y="236.70" font-size="8.4" text-anchor="middle" fill="#333" stroke="#333">0</text>
<line x1="261.02" y1="222.80" x2="261.02" y2="226.50" stroke="#fff" stroke-width="0.9"/>
<text x="261.02" y="236.70" font-size="8.4" text-anchor="middle" fill="#333" stroke="#333">5</text>
<line x1="275.94" y1="222.80" x2="275.94" y2="226.50" stroke="#fff" stroke-width="0.9"/>
<text x="275.94" y="236.70" font-size="8.4" text-anchor="middle" fill="#333" stroke="#333">10</text>
<line x1="290.86" y1="222.80" x2="290.86" y2="226.50" stroke="#fff" stroke-width="0.9"/>
<text x="290.86" y="236.70" font-size="8.4" text-anchor="middle" fill="#333" stroke="#333">15</text>
<line x1="305.78" y1="222.80" x2="305.78" y2="226.50" stroke="#fff" stroke-width="0.9"/>
<text x="305.78" y="236.70" font-size="8.4" text-anchor="middle" fill="#333" stroke="#333">20</text>
<text x="346.10" y="225.10" font-size="11.6" font-style="italic" fill="#111" stroke="#111">Aebp1</text>
<rect x="383.00" y="213.00" width="62.20" height="13.20" fill="url(#gae)"/>
<text x="383.40" y="236.30" font-size="8.4" text-anchor="middle" fill="#333" stroke="#333">0</text>
<line x1="402.77" y1="222.40" x2="402.77" y2="226.20" stroke="#fff" stroke-width="0.9"/>
<text x="402.77" y="236.30" font-size="8.4" text-anchor="middle" fill="#333" stroke="#333">2</text>
<line x1="422.14" y1="222.40" x2="422.14" y2="226.20" stroke="#fff" stroke-width="0.9"/>
<text x="422.14" y="236.30" font-size="8.4" text-anchor="middle" fill="#333" stroke="#333">4</text>
<line x1="441.51" y1="222.40" x2="441.51" y2="226.20" stroke="#fff" stroke-width="0.9"/>
<text x="441.51" y="236.30" font-size="8.4" text-anchor="middle" fill="#333" stroke="#333">6</text>
<line x1="505.90" y1="240.90" x2="505.90" y2="344.00" stroke="#363636" stroke-width="1.1"/>
<line x1="505.40" y1="343.50" x2="626.00" y2="343.50" stroke="#363636" stroke-width="1.1"/>
<line x1="503.10" y1="266.55" x2="505.90" y2="266.55" stroke="#333" stroke-width="1.0"/>
<text x="501.70" y="269.65" font-size="8.6" text-anchor="end" fill="#333" stroke="#333">10.0</text>
<line x1="503.10" y1="302.50" x2="505.90" y2="302.50" stroke="#333" stroke-width="1.0"/>
<text x="501.70" y="305.60" font-size="8.6" text-anchor="end" fill="#333" stroke="#333">1.0</text>
<line x1="503.10" y1="338.45" x2="505.90" y2="338.45" stroke="#333" stroke-width="1.0"/>
<text x="501.70" y="341.55" font-size="8.6" text-anchor="end" fill="#333" stroke="#333">0.1</text>
<line x1="510.80" y1="343.50" x2="510.80" y2="346.00" stroke="#333" stroke-width="1.0"/>
<text x="510.80" y="356.20" font-size="8.6" text-anchor="middle" fill="#333" stroke="#333">0</text>
<line x1="537.12" y1="343.50" x2="537.12" y2="346.00" stroke="#333" stroke-width="1.0"/>
<text x="537.12" y="356.20" font-size="8.6" text-anchor="middle" fill="#333" stroke="#333">5</text>
<line x1="563.43" y1="343.50" x2="563.43" y2="346.00" stroke="#333" stroke-width="1.0"/>
<text x="563.43" y="356.20" font-size="8.6" text-anchor="middle" fill="#333" stroke="#333">10</text>
<line x1="589.75" y1="343.50" x2="589.75" y2="346.00" stroke="#333" stroke-width="1.0"/>
<text x="589.75" y="356.20" font-size="8.6" text-anchor="middle" fill="#333" stroke="#333">15</text>
<line x1="616.06" y1="343.50" x2="616.06" y2="346.00" stroke="#333" stroke-width="1.0"/>
<text x="616.06" y="356.20" font-size="8.6" text-anchor="middle" fill="#333" stroke="#333">20</text>
<text x="565.60" y="369.20" font-size="12.0" text-anchor="middle" fill="#111" stroke="#111">Pseudotime</text>
<text transform="translate(483.3,292.3) rotate(-90)" font-size="11.8" text-anchor="middle" fill="#111" stroke="#111">Relative expression</text>
<text x="548.80" y="227.00" font-size="12.0" font-style="italic" fill="#111" stroke="#111">Aebp1</text>
<circle cx="613.96" cy="273.24" r="1.55" fill="#F2766E"/>
<circle cx="585.66" cy="278.11" r="1.55" fill="#78AE3E"/>
<circle cx="601.90" cy="256.41" r="1.55" fill="#78AE3E"/>
<circle cx="590.65" cy="277.20" r="1.55" fill="#F2766E"/>
<circle cx="619.30" cy="338.40" r="1.55" fill="#1FBEC2"/>
<circle cx="619.73" cy="264.49" r="1.55" fill="#F2766E"/>
<circle cx="585.60" cy="277.80" r="1.55" fill="#78AE3E"/>
<circle cx="532.30" cy="261.20" r="1.55" fill="#78AE3E"/>
<circle cx="609.61" cy="259.21" r="1.55" fill="#F2766E"/>
<circle cx="518.75" cy="338.40" r="1.55" fill="#78AE3E"/>
<circle cx="593.50" cy="292.00" r="1.55" fill="#1FBEC2"/>
<circle cx="600.75" cy="263.98" r="1.55" fill="#F2766E"/>
<circle cx="588.15" cy="285.80" r="1.55" fill="#F2766E"/>
<circle cx="511.30" cy="302.80" r="1.55" fill="#78AE3E"/>
<circle cx="610.06" cy="272.25" r="1.55" fill="#78AE3E"/>
<circle cx="598.98" cy="268.15" r="1.55" fill="#78AE3E"/>
<circle cx="588.63" cy="259.42" r="1.55" fill="#F2766E"/>
<circle cx="614.80" cy="257.10" r="1.55" fill="#F2766E"/>
<circle cx="608.29" cy="254.29" r="1.55" fill="#F2766E"/>
<circle cx="516.10" cy="277.70" r="1.55" fill="#F2766E"/>
<circle cx="605.99" cy="265.33" r="1.55" fill="#78AE3E"/>
<circle cx="603.90" cy="261.48" r="1.55" fill="#78AE3E"/>
<circle cx="591.65" cy="266.54" r="1.55" fill="#1FBEC2"/>
<circle cx="593.49" cy="266.35" r="1.55" fill="#9C80C6"/>
<circle cx="609.88" cy="259.10" r="1.55" fill="#1FBEC2"/>
<circle cx="586.27" cy="285.80" r="1.55" fill="#F2766E"/>
<circle cx="533.70" cy="285.80" r="1.55" fill="#1FBEC2"/>
<circle cx="617.07" cy="281.30" r="1.55" fill="#F2766E"/>
<circle cx="608.48" cy="276.44" r="1.55" fill="#F2766E"/>
<circle cx="515.95" cy="285.80" r="1.55" fill="#78AE3E"/>
<circle cx="604.98" cy="259.99" r="1.55" fill="#F2766E"/>
<circle cx="607.00" cy="338.40" r="1.55" fill="#9C80C6"/>
<circle cx="609.00" cy="338.40" r="1.55" fill="#1FBEC2"/>
<circle cx="594.26" cy="259.90" r="1.55" fill="#F2766E"/>
<circle cx="517.20" cy="276.00" r="1.55" fill="#F2766E"/>
<circle cx="572.30" cy="275.00" r="1.55" fill="#1FBEC2"/>
<circle cx="604.18" cy="281.30" r="1.55" fill="#F2766E"/>
<circle cx="515.62" cy="302.80" r="1.55" fill="#78AE3E"/>
<circle cx="616.32" cy="253.16" r="1.55" fill="#1FBEC2"/>
<circle cx="591.40" cy="292.00" r="1.55" fill="#F2766E"/>
<circle cx="620.06" cy="274.55" r="1.55" fill="#1FBEC2"/>
<circle cx="609.78" cy="265.89" r="1.55" fill="#F2766E"/>
<circle cx="597.03" cy="269.33" r="1.55" fill="#F2766E"/>
<circle cx="588.08" cy="273.69" r="1.55" fill="#1FBEC2"/>
<circle cx="619.62" cy="259.37" r="1.55" fill="#1FBEC2"/>
<circle cx="603.00" cy="292.00" r="1.55" fill="#9C80C6"/>
<circle cx="605.13" cy="273.80" r="1.55" fill="#F2766E"/>
<circle cx="604.95" cy="270.46" r="1.55" fill="#F2766E"/>
<circle cx="607.64" cy="269.50" r="1.55" fill="#F2766E"/>
<circle cx="615.49" cy="262.34" r="1.55" fill="#F2766E"/>
<circle cx="573.80" cy="285.80" r="1.55" fill="#9C80C6"/>
<circle cx="590.88" cy="275.90" r="1.55" fill="#F2766E"/>
<circle cx="516.62" cy="338.40" r="1.55" fill="#78AE3E"/>
<circle cx="602.62" cy="272.51" r="1.55" fill="#F2766E"/>
<circle cx="600.35" cy="266.20" r="1.55" fill="#F2766E"/>
<circle cx="615.19" cy="264.92" r="1.55" fill="#1FBEC2"/>
<circle cx="598.00" cy="302.80" r="1.55" fill="#1FBEC2"/>
<circle cx="602.90" cy="251.04" r="1.55" fill="#F2766E"/>
<circle cx="512.80" cy="281.30" r="1.55" fill="#78AE3E"/>
<circle cx="589.15" cy="268.00" r="1.55" fill="#F2766E"/>
<circle cx="599.40" cy="276.95" r="1.55" fill="#F2766E"/>
<circle cx="596.76" cy="269.36" r="1.55" fill="#1FBEC2"/>
<circle cx="610.38" cy="261.60" r="1.55" fill="#F2766E"/>
<circle cx="601.25" cy="285.80" r="1.55" fill="#F2766E"/>
<circle cx="564.80" cy="338.40" r="1.55" fill="#9C80C6"/>
<circle cx="598.50" cy="338.40" r="1.55" fill="#78AE3E"/>
<circle cx="617.08" cy="263.99" r="1.55" fill="#F2766E"/>
<circle cx="619.86" cy="256.01" r="1.55" fill="#1FBEC2"/>
<circle cx="600.07" cy="256.68" r="1.55" fill="#9C80C6"/>
<circle cx="551.70" cy="256.50" r="1.55" fill="#78AE3E"/>
<circle cx="564.20" cy="266.90" r="1.55" fill="#F2766E"/>
<circle cx="620.56" cy="264.02" r="1.55" fill="#78AE3E"/>
<circle cx="606.00" cy="281.30" r="1.55" fill="#9C80C6"/>
<circle cx="521.33" cy="292.40" r="1.55" fill="#78AE3E"/>
<circle cx="514.18" cy="302.80" r="1.55" fill="#78AE3E"/>
<circle cx="605.20" cy="302.80" r="1.55" fill="#78AE3E"/>
<circle cx="592.50" cy="338.40" r="1.55" fill="#F2766E"/>
<circle cx="603.29" cy="259.36" r="1.55" fill="#1FBEC2"/>
<circle cx="537.00" cy="338.40" r="1.55" fill="#78AE3E"/>
<circle cx="605.00" cy="285.80" r="1.55" fill="#78AE3E"/>
<circle cx="618.20" cy="292.00" r="1.55" fill="#1FBEC2"/>
<circle cx="538.20" cy="272.70" r="1.55" fill="#F2766E"/>
<circle cx="597.51" cy="285.80" r="1.55" fill="#F2766E"/>
<circle cx="560.60" cy="252.90" r="1.55" fill="#78AE3E"/>
<circle cx="605.52" cy="259.35" r="1.55" fill="#F2766E"/>
<circle cx="614.00" cy="285.80" r="1.55" fill="#1FBEC2"/>
<circle cx="588.47" cy="278.30" r="1.55" fill="#1FBEC2"/>
<circle cx="597.27" cy="277.82" r="1.55" fill="#F2766E"/>
<circle cx="605.00" cy="292.00" r="1.55" fill="#F2766E"/>
<circle cx="594.81" cy="268.17" r="1.55" fill="#F2766E"/>
<circle cx="618.09" cy="262.55" r="1.55" fill="#1FBEC2"/>
<circle cx="587.42" cy="260.15" r="1.55" fill="#F2766E"/>
<circle cx="580.27" cy="270.03" r="1.55" fill="#F2766E"/>
<circle cx="613.53" cy="281.30" r="1.55" fill="#F2766E"/>
<circle cx="589.22" cy="256.41" r="1.55" fill="#9C80C6"/>
<circle cx="520.30" cy="281.30" r="1.55" fill="#78AE3E"/>
<circle cx="617.30" cy="269.22" r="1.55" fill="#1FBEC2"/>
<circle cx="573.20" cy="285.80" r="1.55" fill="#9C80C6"/>
<circle cx="540.90" cy="302.80" r="1.55" fill="#78AE3E"/>
<circle cx="609.18" cy="267.25" r="1.55" fill="#F2766E"/>
<circle cx="512.36" cy="338.40" r="1.55" fill="#78AE3E"/>
<circle cx="604.17" cy="338.40" r="1.55" fill="#1FBEC2"/>
<circle cx="553.50" cy="273.20" r="1.55" fill="#78AE3E"/>
<circle cx="611.60" cy="259.97" r="1.55" fill="#F2766E"/>
<circle cx="599.80" cy="258.55" r="1.55" fill="#F2766E"/>
<circle cx="610.13" cy="264.13" r="1.55" fill="#1FBEC2"/>
<circle cx="616.11" cy="257.79" r="1.55" fill="#1FBEC2"/>
<circle cx="602.02" cy="274.37" r="1.55" fill="#F2766E"/>
<circle cx="535.50" cy="338.40" r="1.55" fill="#F2766E"/>
<circle cx="598.36" cy="260.82" r="1.55" fill="#F2766E"/>
<circle cx="613.27" cy="269.15" r="1.55" fill="#F2766E"/>
<circle cx="610.25" cy="277.33" r="1.55" fill="#F2766E"/>
<circle cx="601.73" cy="272.36" r="1.55" fill="#78AE3E"/>
<circle cx="588.99" cy="255.70" r="1.55" fill="#F2766E"/>
<circle cx="599.80" cy="302.80" r="1.55" fill="#1FBEC2"/>
<circle cx="617.78" cy="253.40" r="1.55" fill="#1FBEC2"/>
<circle cx="597.20" cy="258.19" r="1.55" fill="#F2766E"/>
<circle cx="586.81" cy="265.81" r="1.55" fill="#F2766E"/>
<circle cx="617.64" cy="251.63" r="1.55" fill="#F2766E"/>
<circle cx="595.31" cy="277.06" r="1.55" fill="#F2766E"/>
<circle cx="566.60" cy="272.70" r="1.55" fill="#1FBEC2"/>
<circle cx="593.76" cy="285.80" r="1.55" fill="#9C80C6"/>
<circle cx="604.11" cy="273.93" r="1.55" fill="#F2766E"/>
<circle cx="548.10" cy="338.40" r="1.55" fill="#78AE3E"/>
<circle cx="549.90" cy="338.40" r="1.55" fill="#78AE3E"/>
<circle cx="609.05" cy="262.57" r="1.55" fill="#F2766E"/>
<circle cx="573.96" cy="270.03" r="1.55" fill="#F2766E"/>
<circle cx="586.00" cy="281.30" r="1.55" fill="#F2766E"/>
<circle cx="599.74" cy="248.49" r="1.55" fill="#78AE3E"/>
<circle cx="514.40" cy="285.80" r="1.55" fill="#78AE3E"/>
<circle cx="596.98" cy="259.33" r="1.55" fill="#F2766E"/>
<circle cx="593.27" cy="281.30" r="1.55" fill="#F2766E"/>
<circle cx="515.55" cy="338.40" r="1.55" fill="#78AE3E"/>
<circle cx="516.70" cy="270.90" r="1.55" fill="#78AE3E"/>
<circle cx="587.04" cy="272.93" r="1.55" fill="#78AE3E"/>
<circle cx="614.93" cy="262.40" r="1.55" fill="#F2766E"/>
<circle cx="587.82" cy="281.30" r="1.55" fill="#9C80C6"/>
<circle cx="519.81" cy="338.40" r="1.55" fill="#78AE3E"/>
<circle cx="570.50" cy="270.50" r="1.55" fill="#78AE3E"/>
<circle cx="533.70" cy="281.30" r="1.55" fill="#78AE3E"/>
<circle cx="594.38" cy="262.67" r="1.55" fill="#78AE3E"/>
<circle cx="511.30" cy="338.40" r="1.55" fill="#78AE3E"/>
<circle cx="561.50" cy="259.70" r="1.55" fill="#F2766E"/>
<circle cx="600.31" cy="265.90" r="1.55" fill="#1FBEC2"/>
<circle cx="511.30" cy="292.40" r="1.55" fill="#78AE3E"/>
<circle cx="595.64" cy="285.80" r="1.55" fill="#F2766E"/>
<circle cx="560.30" cy="264.80" r="1.55" fill="#78AE3E"/>
<circle cx="603.91" cy="257.89" r="1.55" fill="#9C80C6"/>
<circle cx="612.50" cy="302.80" r="1.55" fill="#F2766E"/>
<circle cx="514.64" cy="292.40" r="1.55" fill="#78AE3E"/>
<circle cx="591.76" cy="263.53" r="1.55" fill="#F2766E"/>
<circle cx="589.83" cy="266.52" r="1.55" fill="#F2766E"/>
<circle cx="602.36" cy="281.30" r="1.55" fill="#F2766E"/>
<circle cx="618.83" cy="281.30" r="1.55" fill="#1FBEC2"/>
<circle cx="542.70" cy="338.40" r="1.55" fill="#78AE3E"/>
<circle cx="607.00" cy="302.80" r="1.55" fill="#78AE3E"/>
<circle cx="526.50" cy="267.30" r="1.55" fill="#78AE3E"/>
<circle cx="615.12" cy="266.17" r="1.55" fill="#F2766E"/>
<circle cx="617.56" cy="257.05" r="1.55" fill="#1FBEC2"/>
<circle cx="593.68" cy="274.77" r="1.55" fill="#F2766E"/>
<circle cx="610.98" cy="257.79" r="1.55" fill="#F2766E"/>
<circle cx="610.72" cy="275.74" r="1.55" fill="#1FBEC2"/>
<circle cx="572.40" cy="292.00" r="1.55" fill="#78AE3E"/>
<circle cx="517.90" cy="272.30" r="1.55" fill="#F2766E"/>
<circle cx="517.50" cy="285.80" r="1.55" fill="#78AE3E"/>
<circle cx="610.00" cy="281.30" r="1.55" fill="#1FBEC2"/>
<circle cx="590.02" cy="285.80" r="1.55" fill="#9C80C6"/>
<circle cx="597.00" cy="292.00" r="1.55" fill="#F2766E"/>
<circle cx="587.18" cy="255.15" r="1.55" fill="#F2766E"/>
<circle cx="589.64" cy="281.30" r="1.55" fill="#1FBEC2"/>
<circle cx="620.64" cy="272.39" r="1.55" fill="#F2766E"/>
<circle cx="549.50" cy="270.50" r="1.55" fill="#78AE3E"/>
<circle cx="617.88" cy="273.18" r="1.55" fill="#1FBEC2"/>
<circle cx="615.92" cy="272.69" r="1.55" fill="#F2766E"/>
<circle cx="611.17" cy="261.01" r="1.55" fill="#F2766E"/>
<circle cx="517.06" cy="302.80" r="1.55" fill="#78AE3E"/>
<circle cx="551.30" cy="266.00" r="1.55" fill="#F2766E"/>
<circle cx="612.89" cy="254.57" r="1.55" fill="#1FBEC2"/>
<circle cx="605.80" cy="277.38" r="1.55" fill="#F2766E"/>
<circle cx="560.60" cy="338.40" r="1.55" fill="#78AE3E"/>
<circle cx="519.00" cy="245.70" r="1.55" fill="#78AE3E"/>
<circle cx="620.15" cy="260.03" r="1.55" fill="#1FBEC2"/>
<circle cx="603.13" cy="285.80" r="1.55" fill="#78AE3E"/>
<circle cx="562.10" cy="286.30" r="1.55" fill="#78AE3E"/>
<circle cx="614.91" cy="259.43" r="1.55" fill="#1FBEC2"/>
<circle cx="584.40" cy="285.80" r="1.55" fill="#9C80C6"/>
<circle cx="615.57" cy="259.09" r="1.55" fill="#1FBEC2"/>
<circle cx="514.30" cy="281.30" r="1.55" fill="#1FBEC2"/>
<circle cx="616.40" cy="292.00" r="1.55" fill="#F2766E"/>
<circle cx="604.22" cy="261.93" r="1.55" fill="#1FBEC2"/>
<circle cx="601.60" cy="302.80" r="1.55" fill="#78AE3E"/>
<circle cx="558.50" cy="281.60" r="1.55" fill="#1FBEC2"/>
<circle cx="588.76" cy="270.23" r="1.55" fill="#78AE3E"/>
<circle cx="615.92" cy="276.03" r="1.55" fill="#F2766E"/>
<circle cx="613.16" cy="258.61" r="1.55" fill="#F2766E"/>
<circle cx="517.99" cy="292.40" r="1.55" fill="#9C80C6"/>
<circle cx="588.75" cy="267.14" r="1.55" fill="#78AE3E"/>
<circle cx="544.50" cy="338.40" r="1.55" fill="#78AE3E"/>
<circle cx="537.00" cy="292.30" r="1.55" fill="#78AE3E"/>
<circle cx="619.72" cy="267.60" r="1.55" fill="#1FBEC2"/>
<circle cx="546.30" cy="338.40" r="1.55" fill="#78AE3E"/>
<circle cx="592.74" cy="275.46" r="1.55" fill="#F2766E"/>
<circle cx="590.00" cy="292.00" r="1.55" fill="#F2766E"/>
<circle cx="614.61" cy="263.25" r="1.55" fill="#F2766E"/>
<circle cx="605.58" cy="338.40" r="1.55" fill="#78AE3E"/>
<circle cx="514.49" cy="338.40" r="1.55" fill="#78AE3E"/>
<circle cx="585.79" cy="266.09" r="1.55" fill="#F2766E"/>
<circle cx="514.00" cy="274.50" r="1.55" fill="#78AE3E"/>
<circle cx="595.00" cy="338.40" r="1.55" fill="#78AE3E"/>
<circle cx="614.10" cy="302.80" r="1.55" fill="#1FBEC2"/>
<circle cx="547.20" cy="250.80" r="1.55" fill="#78AE3E"/>
<circle cx="608.32" cy="271.69" r="1.55" fill="#F2766E"/>
<circle cx="517.30" cy="281.30" r="1.55" fill="#78AE3E"/>
<circle cx="599.24" cy="274.53" r="1.55" fill="#1FBEC2"/>
<circle cx="615.30" cy="281.30" r="1.55" fill="#F2766E"/>
<circle cx="602.82" cy="255.46" r="1.55" fill="#F2766E"/>
<circle cx="620.60" cy="281.30" r="1.55" fill="#F2766E"/>
<circle cx="517.68" cy="338.40" r="1.55" fill="#78AE3E"/>
<circle cx="588.55" cy="271.95" r="1.55" fill="#F2766E"/>
<circle cx="593.69" cy="266.61" r="1.55" fill="#F2766E"/>
<circle cx="551.70" cy="281.60" r="1.55" fill="#78AE3E"/>
<circle cx="585.28" cy="258.05" r="1.55" fill="#F2766E"/>
<circle cx="620.85" cy="254.31" r="1.55" fill="#1FBEC2"/>
<circle cx="521.94" cy="338.40" r="1.55" fill="#78AE3E"/>
<circle cx="611.33" cy="260.19" r="1.55" fill="#F2766E"/>
<circle cx="589.30" cy="258.68" r="1.55" fill="#78AE3E"/>
<circle cx="596.91" cy="281.30" r="1.55" fill="#1FBEC2"/>
<circle cx="613.65" cy="271.91" r="1.55" fill="#F2766E"/>
<circle cx="604.33" cy="278.40" r="1.55" fill="#F2766E"/>
<circle cx="594.94" cy="268.08" r="1.55" fill="#78AE3E"/>
<circle cx="615.70" cy="302.80" r="1.55" fill="#F2766E"/>
<circle cx="512.74" cy="302.80" r="1.55" fill="#78AE3E"/>
<circle cx="597.85" cy="275.51" r="1.55" fill="#78AE3E"/>
<circle cx="588.12" cy="260.99" r="1.55" fill="#1FBEC2"/>
<circle cx="598.73" cy="281.30" r="1.55" fill="#78AE3E"/>
<circle cx="511.30" cy="281.30" r="1.55" fill="#78AE3E"/>
<circle cx="604.11" cy="264.78" r="1.55" fill="#1FBEC2"/>
<circle cx="595.09" cy="281.30" r="1.55" fill="#F2766E"/>
<circle cx="597.98" cy="276.91" r="1.55" fill="#78AE3E"/>
<circle cx="587.85" cy="278.07" r="1.55" fill="#1FBEC2"/>
<circle cx="620.97" cy="254.10" r="1.55" fill="#F2766E"/>
<circle cx="594.53" cy="268.77" r="1.55" fill="#F2766E"/>
<circle cx="617.83" cy="268.21" r="1.55" fill="#F2766E"/>
<circle cx="603.91" cy="270.92" r="1.55" fill="#F2766E"/>
<circle cx="618.34" cy="270.81" r="1.55" fill="#1FBEC2"/>
<circle cx="596.01" cy="273.76" r="1.55" fill="#F2766E"/>
<circle cx="571.10" cy="302.80" r="1.55" fill="#9C80C6"/>
<circle cx="523.00" cy="338.40" r="1.55" fill="#78AE3E"/>
<circle cx="518.80" cy="281.30" r="1.55" fill="#78AE3E"/>
<circle cx="599.48" cy="271.97" r="1.55" fill="#9C80C6"/>
<circle cx="584.20" cy="292.00" r="1.55" fill="#9C80C6"/>
<circle cx="609.22" cy="251.33" r="1.55" fill="#F2766E"/>
<circle cx="584.20" cy="338.40" r="1.55" fill="#1FBEC2"/>
<circle cx="611.77" cy="281.30" r="1.55" fill="#F2766E"/>
<circle cx="601.00" cy="292.00" r="1.55" fill="#9C80C6"/>
<circle cx="616.49" cy="269.96" r="1.55" fill="#F2766E"/>
<circle cx="591.45" cy="281.30" r="1.55" fill="#9C80C6"/>
<circle cx="599.92" cy="338.40" r="1.55" fill="#9C80C6"/>
<circle cx="603.71" cy="269.73" r="1.55" fill="#78AE3E"/>
<circle cx="513.43" cy="338.40" r="1.55" fill="#78AE3E"/>
<circle cx="520.87" cy="338.40" r="1.55" fill="#78AE3E"/>
<circle cx="574.10" cy="338.40" r="1.55" fill="#78AE3E"/>
<circle cx="619.31" cy="276.65" r="1.55" fill="#1FBEC2"/>
<circle cx="558.50" cy="264.20" r="1.55" fill="#78AE3E"/>
<circle cx="598.26" cy="265.73" r="1.55" fill="#1FBEC2"/>
<circle cx="522.20" cy="270.90" r="1.55" fill="#78AE3E"/>
<circle cx="595.57" cy="278.00" r="1.55" fill="#9C80C6"/>
<circle cx="551.70" cy="277.70" r="1.55" fill="#F2766E"/>
<circle cx="518.50" cy="302.80" r="1.55" fill="#78AE3E"/>
<circle cx="512.97" cy="292.40" r="1.55" fill="#9C80C6"/>
<circle cx="611.00" cy="292.00" r="1.55" fill="#F2766E"/>
<circle cx="586.50" cy="338.40" r="1.55" fill="#1FBEC2"/>
<circle cx="614.60" cy="292.00" r="1.55" fill="#1FBEC2"/>
<circle cx="585.48" cy="273.12" r="1.55" fill="#78AE3E"/>
<circle cx="559.70" cy="277.70" r="1.55" fill="#78AE3E"/>
<circle cx="611.53" cy="258.67" r="1.55" fill="#F2766E"/>
<circle cx="616.50" cy="285.80" r="1.55" fill="#1FBEC2"/>
<circle cx="608.45" cy="269.86" r="1.55" fill="#F2766E"/>
<circle cx="600.17" cy="267.59" r="1.55" fill="#78AE3E"/>
<circle cx="598.86" cy="256.89" r="1.55" fill="#F2766E"/>
<circle cx="540.90" cy="338.40" r="1.55" fill="#78AE3E"/>
<circle cx="603.40" cy="302.80" r="1.55" fill="#1FBEC2"/>
<circle cx="523.00" cy="292.40" r="1.55" fill="#78AE3E"/>
<circle cx="597.79" cy="263.05" r="1.55" fill="#9C80C6"/>
<circle cx="519.66" cy="292.40" r="1.55" fill="#9C80C6"/>
<circle cx="609.12" cy="257.80" r="1.55" fill="#F2766E"/>
<circle cx="512.85" cy="285.80" r="1.55" fill="#78AE3E"/>
<circle cx="611.36" cy="261.78" r="1.55" fill="#F2766E"/>
<circle cx="595.93" cy="260.20" r="1.55" fill="#F2766E"/>
<circle cx="580.50" cy="338.40" r="1.55" fill="#78AE3E"/>
<circle cx="518.40" cy="274.50" r="1.55" fill="#F2766E"/>
<circle cx="604.11" cy="255.15" r="1.55" fill="#F2766E"/>
<circle cx="619.38" cy="260.75" r="1.55" fill="#F2766E"/>
<circle cx="540.90" cy="256.50" r="1.55" fill="#78AE3E"/>
<circle cx="615.81" cy="259.62" r="1.55" fill="#1FBEC2"/>
<circle cx="593.69" cy="266.10" r="1.55" fill="#F2766E"/>
<circle cx="561.70" cy="285.80" r="1.55" fill="#78AE3E"/>
<circle cx="603.48" cy="269.18" r="1.55" fill="#78AE3E"/>
<circle cx="512.20" cy="275.00" r="1.55" fill="#78AE3E"/>
<circle cx="591.16" cy="261.07" r="1.55" fill="#F2766E"/>
<circle cx="589.99" cy="277.53" r="1.55" fill="#78AE3E"/>
<circle cx="545.40" cy="272.30" r="1.55" fill="#1FBEC2"/>
<circle cx="547.20" cy="285.80" r="1.55" fill="#78AE3E"/>
<circle cx="621.00" cy="262.11" r="1.55" fill="#F2766E"/>
<circle cx="604.38" cy="254.28" r="1.55" fill="#1FBEC2"/>
<circle cx="587.65" cy="261.93" r="1.55" fill="#F2766E"/>
<circle cx="515.80" cy="281.30" r="1.55" fill="#78AE3E"/>
<circle cx="617.30" cy="302.80" r="1.55" fill="#78AE3E"/>
<circle cx="620.50" cy="302.80" r="1.55" fill="#F2766E"/>
<circle cx="589.80" cy="257.85" r="1.55" fill="#F2766E"/>
<circle cx="604.20" cy="273.44" r="1.55" fill="#F2766E"/>
<circle cx="595.84" cy="259.10" r="1.55" fill="#F2766E"/>
<circle cx="588.24" cy="267.54" r="1.55" fill="#F2766E"/>
<circle cx="601.34" cy="273.15" r="1.55" fill="#1FBEC2"/>
<circle cx="587.81" cy="260.92" r="1.55" fill="#F2766E"/>
<circle cx="601.33" cy="338.40" r="1.55" fill="#78AE3E"/>
<circle cx="600.55" cy="281.30" r="1.55" fill="#F2766E"/>
<circle cx="612.40" cy="268.47" r="1.55" fill="#F2766E"/>
<circle cx="529.20" cy="338.40" r="1.55" fill="#78AE3E"/>
<circle cx="511.30" cy="285.80" r="1.55" fill="#78AE3E"/>
<circle cx="544.10" cy="260.10" r="1.55" fill="#78AE3E"/>
<circle cx="611.32" cy="274.99" r="1.55" fill="#F2766E"/>
<circle cx="620.00" cy="292.00" r="1.55" fill="#1FBEC2"/>
<circle cx="562.00" cy="338.40" r="1.55" fill="#78AE3E"/>
<circle cx="591.89" cy="285.80" r="1.55" fill="#F2766E"/>
<circle cx="572.30" cy="292.30" r="1.55" fill="#78AE3E"/>
<circle cx="618.90" cy="302.80" r="1.55" fill="#1FBEC2"/>
<circle cx="553.50" cy="302.80" r="1.55" fill="#78AE3E"/>
<circle cx="620.19" cy="255.12" r="1.55" fill="#1FBEC2"/>
<circle cx="612.80" cy="292.00" r="1.55" fill="#1FBEC2"/>
<circle cx="612.57" cy="276.13" r="1.55" fill="#F2766E"/>
<circle cx="620.71" cy="257.61" r="1.55" fill="#F2766E"/>
<circle cx="542.70" cy="278.10" r="1.55" fill="#78AE3E"/>
<circle cx="601.63" cy="277.49" r="1.55" fill="#9C80C6"/>
<circle cx="610.85" cy="269.34" r="1.55" fill="#F2766E"/>
<circle cx="615.53" cy="251.04" r="1.55" fill="#F2766E"/>
<circle cx="599.00" cy="292.00" r="1.55" fill="#F2766E"/>
<circle cx="607.69" cy="272.35" r="1.55" fill="#F2766E"/>
<circle cx="516.31" cy="292.40" r="1.55" fill="#78AE3E"/>
<circle cx="612.92" cy="277.37" r="1.55" fill="#F2766E"/>
<circle cx="562.80" cy="275.00" r="1.55" fill="#9C80C6"/>
<circle cx="601.84" cy="257.64" r="1.55" fill="#78AE3E"/>
<circle cx="602.75" cy="338.40" r="1.55" fill="#9C80C6"/>
<circle cx="535.50" cy="255.30" r="1.55" fill="#78AE3E"/>
<circle cx="599.38" cy="285.80" r="1.55" fill="#F2766E"/>
<path d="M511.2,288.4 L513.2,287.4 L516.0,286.0 L519.4,284.4 L522.9,282.6 L526.6,280.9 L530.0,279.4 L533.3,278.0 L536.8,276.6 L540.2,275.2 L543.7,273.8 L546.9,272.6 L550.0,271.6 L552.8,270.7 L555.6,270.0 L558.1,269.4 L560.6,268.9 L562.8,268.5 L565.0,268.1 L566.9,267.8 L568.6,267.5 L570.1,267.4 L571.6,267.3 L573.2,267.3 L575.0,267.3 L577.0,267.4 L579.2,267.6 L581.5,267.8 L583.8,268.1 L586.0,268.5 L588.0,268.8 L589.9,269.2 L591.7,269.6 L593.4,270.1 L595.0,270.6 L596.5,271.0 L598.0,271.4 L599.3,271.7 L600.6,271.9 L601.7,272.1 L602.8,272.3 L603.9,272.4 L605.0,272.4 L606.2,272.4 L607.3,272.3 L608.4,272.2 L609.6,272.0 L610.8,271.8 L612.0,271.6 L613.4,271.3 L614.9,270.9 L616.5,270.6 L618.0,270.2 L619.3,269.8 L620.2,269.6" fill="none" stroke="#000" stroke-width="1.9" stroke-linecap="butt" stroke-linejoin="round"/>
<circle cx="633.50" cy="269.40" r="1.70" fill="#F2766E"/>
<text x="638.60" y="273.40" font-size="12.1" fill="#111" stroke="#111">iCAFs</text>
<circle cx="633.50" cy="282.60" r="1.70" fill="#78AE3E"/>
<text x="638.60" y="286.60" font-size="12.1" fill="#111" stroke="#111">eCAFs</text>
<circle cx="633.50" cy="295.80" r="1.70" fill="#1FBEC2"/>
<text x="638.60" y="299.80" font-size="12.1" fill="#111" stroke="#111">apCAFs</text>
<circle cx="633.50" cy="309.00" r="1.70" fill="#9C80C6"/>
<text x="638.60" y="313.00" font-size="12.1" fill="#111" stroke="#111">myCAFs</text>
<line x1="248.40" y1="419.60" x2="248.40" y2="541.00" stroke="#444" stroke-width="1.1"/>
<line x1="247.90" y1="540.50" x2="335.60" y2="540.50" stroke="#444" stroke-width="1.1"/>
<line x1="242.20" y1="540.50" x2="248.40" y2="540.50" stroke="#444" stroke-width="1.1"/>
<text x="239.60" y="543.70" font-size="9.0" text-anchor="end" fill="#333" stroke="#333">0</text>
<line x1="242.20" y1="500.24" x2="248.40" y2="500.24" stroke="#444" stroke-width="1.1"/>
<text x="239.60" y="503.44" font-size="9.0" text-anchor="end" fill="#333" stroke="#333">2</text>
<line x1="242.20" y1="459.98" x2="248.40" y2="459.98" stroke="#444" stroke-width="1.1"/>
<text x="239.60" y="463.18" font-size="9.0" text-anchor="end" fill="#333" stroke="#333">4</text>
<line x1="242.20" y1="419.72" x2="248.40" y2="419.72" stroke="#444" stroke-width="1.1"/>
<text x="239.60" y="422.92" font-size="9.0" text-anchor="end" fill="#333" stroke="#333">6</text>
<text x="265.00" y="407.4" font-size="11.8" fill="#111" stroke="#111"><tspan font-style="italic">Ifng</tspan> in Teff</text>
<text x="271.50" y="426.4" font-size="8.6" fill="#333" stroke="#333"><tspan font-style="italic">P</tspan> = 0.0458</text>
<line x1="272.60" y1="429.80" x2="310.00" y2="429.80" stroke="#444" stroke-width="1.5"/>
<text transform="translate(227.80,484.6) rotate(-90)" font-size="12.0" text-anchor="middle" fill="#111" stroke="#111">Expression</text>
<path d="M273.60,457.50 273.65,458.47 273.73,459.76 273.82,461.29 273.91,463.00 274.01,464.80 274.12,466.62 274.21,468.38 274.30,470.00 274.38,471.54 274.45,473.08 274.51,474.62 274.58,476.16 274.65,477.67 274.72,479.15 274.81,480.60 274.90,482.00 275.00,483.36 275.11,484.69 275.23,485.98 275.35,487.25 275.48,488.48 275.61,489.69 275.75,490.86 275.90,492.00 276.06,493.10 276.23,494.14 276.41,495.15 276.59,496.12 276.78,497.09 276.96,498.05 277.14,499.01 277.30,500.00 277.46,501.01 277.63,502.02 277.80,503.04 277.97,504.06 278.12,505.07 278.24,506.07 278.34,507.05 278.40,508.00 278.42,508.94 278.41,509.87 278.38,510.79 278.32,511.69 278.24,512.57 278.14,513.41 278.03,514.23 277.90,515.00 277.75,515.73 277.57,516.41 277.37,517.07 277.15,517.69 276.93,518.29 276.70,518.87 276.49,519.44 276.30,520.00 276.12,520.55 275.93,521.09 275.75,521.62 275.57,522.12 275.40,522.62 275.25,523.09 275.11,523.55 275.00,524.00 274.91,524.42 274.83,524.82 274.77,525.20 274.72,525.56 274.69,525.92 274.67,526.27 274.68,526.63 274.70,527.00 274.74,527.38 274.80,527.75 274.88,528.12 274.97,528.50 275.08,528.88 275.20,529.25 275.34,529.62 275.50,530.00 275.67,530.38 275.85,530.75 276.05,531.12 276.26,531.50 276.49,531.88 276.74,532.25 277.01,532.62 277.30,533.00 277.62,533.38 277.97,533.76 278.34,534.15 278.73,534.53 279.12,534.91 279.52,535.29 279.92,535.65 280.30,536.00 280.68,536.34 281.08,536.67 281.48,537.00 281.88,537.31 282.26,537.62 282.63,537.92 282.98,538.21 283.30,538.50 283.59,538.79 283.88,539.08 284.14,539.37 284.39,539.66 284.61,539.92 284.80,540.15 284.97,540.35 285.10,540.50 L261.10,540.50 261.23,540.35 261.40,540.15 261.59,539.92 261.81,539.66 262.06,539.37 262.32,539.08 262.61,538.79 262.90,538.50 263.22,538.21 263.57,537.92 263.94,537.62 264.33,537.31 264.72,537.00 265.12,536.67 265.52,536.34 265.90,536.00 266.28,535.65 266.68,535.29 267.08,534.91 267.48,534.53 267.86,534.15 268.23,533.76 268.58,533.38 268.90,533.00 269.19,532.62 269.46,532.25 269.71,531.88 269.94,531.50 270.15,531.12 270.35,530.75 270.53,530.38 270.70,530.00 270.86,529.62 271.00,529.25 271.12,528.88 271.23,528.50 271.32,528.12 271.40,527.75 271.46,527.38 271.50,527.00 271.52,526.63 271.53,526.27 271.51,525.92 271.48,525.56 271.43,525.20 271.37,524.82 271.29,524.42 271.20,524.00 271.09,523.55 270.95,523.09 270.80,522.62 270.63,522.12 270.45,521.62 270.27,521.09 270.08,520.55 269.90,520.00 269.71,519.44 269.50,518.87 269.27,518.29 269.05,517.69 268.83,517.07 268.63,516.41 268.45,515.73 268.30,515.00 268.17,514.23 268.06,513.41 267.96,512.57 267.88,511.69 267.82,510.79 267.79,509.87 267.78,508.94 267.80,508.00 267.86,507.05 267.96,506.07 268.08,505.07 268.23,504.06 268.40,503.04 268.57,502.02 268.74,501.01 268.90,500.00 269.06,499.01 269.24,498.05 269.42,497.09 269.61,496.12 269.79,495.15 269.97,494.14 270.14,493.10 270.30,492.00 270.45,490.86 270.59,489.69 270.72,488.48 270.85,487.25 270.97,485.98 271.09,484.69 271.20,483.36 271.30,482.00 271.39,480.60 271.48,479.15 271.55,477.67 271.62,476.16 271.69,474.62 271.75,473.08 271.82,471.54 271.90,470.00 271.99,468.38 272.08,466.62 272.19,464.80 272.29,463.00 272.38,461.29 272.47,459.76 272.55,458.47 272.60,457.50 Z" fill="none" stroke="#2C5DB6" stroke-width="1.2" stroke-linejoin="round"/>
<path d="M273.51,457.50 273.55,458.47 273.62,459.76 273.69,461.29 273.77,463.00 273.85,464.80 273.93,466.62 274.01,468.38 274.08,470.00 274.15,471.54 274.21,473.08 274.26,474.62 274.31,476.16 274.37,477.67 274.43,479.15 274.50,480.60 274.58,482.00 274.66,483.36 274.75,484.69 274.85,485.98 274.95,487.25 275.05,488.48 275.16,489.69 275.28,490.86 275.40,492.00 275.53,493.10 275.67,494.14 275.81,495.15 275.96,496.12 276.12,497.09 276.27,498.05 276.41,499.01 276.54,500.00 276.68,501.01 276.82,502.02 276.96,503.04 277.09,504.06 277.21,505.07 277.32,506.07 277.40,507.05 277.45,508.00 277.46,508.94 277.46,509.87 277.43,510.79 277.38,511.69 277.31,512.57 277.23,513.41 277.14,514.23 277.04,515.00 276.91,515.73 276.77,516.41 276.60,517.07 276.42,517.69 276.24,518.29 276.06,518.87 275.88,519.44 275.72,520.00 275.57,520.58 275.42,521.16 275.26,521.75 275.11,522.31 274.97,522.84 274.84,523.30 274.74,523.70 274.66,524.00 L271.54,524.00 271.46,523.70 271.36,523.30 271.23,522.84 271.09,522.31 270.94,521.75 270.78,521.16 270.63,520.58 270.48,520.00 270.32,519.44 270.14,518.87 269.96,518.29 269.78,517.69 269.60,517.07 269.43,516.41 269.29,515.73 269.16,515.00 269.06,514.23 268.97,513.41 268.89,512.57 268.82,511.69 268.77,510.79 268.74,509.87 268.74,508.94 268.75,508.00 268.80,507.05 268.88,506.07 268.99,505.07 269.11,504.06 269.24,503.04 269.38,502.02 269.52,501.01 269.66,500.00 269.79,499.01 269.93,498.05 270.08,497.09 270.24,496.12 270.39,495.15 270.53,494.14 270.67,493.10 270.80,492.00 270.92,490.86 271.04,489.69 271.15,488.48 271.25,487.25 271.35,485.98 271.45,484.69 271.54,483.36 271.62,482.00 271.70,480.60 271.77,479.15 271.83,477.67 271.89,476.16 271.94,474.62 271.99,473.08 272.05,471.54 272.12,470.00 272.19,468.38 272.27,466.62 272.35,464.80 272.43,463.00 272.51,461.29 272.58,459.76 272.65,458.47 272.69,457.50 Z" fill="none" stroke="#2C5DB6" stroke-width="0.7" opacity="0.9"/>
<path d="M273.43,457.50 273.47,458.47 273.51,459.76 273.57,461.29 273.64,463.00 273.70,464.80 273.77,466.62 273.83,468.38 273.89,470.00 273.94,471.54 273.99,473.08 274.03,474.62 274.08,476.16 274.12,477.67 274.17,479.15 274.23,480.60 274.29,482.00 274.36,483.36 274.43,484.69 274.50,485.98 274.59,487.25 274.67,488.48 274.76,489.69 274.85,490.86 274.95,492.00 275.05,493.10 275.17,494.14 275.28,495.15 275.41,496.12 275.53,497.09 275.65,498.05 275.76,499.01 275.87,500.00 275.98,501.01 276.09,502.02 276.21,503.04 276.31,504.06 276.41,505.07 276.50,506.07 276.56,507.05 276.60,508.00 276.61,508.94 276.61,509.87 276.58,510.79 276.54,511.69 276.49,512.57 276.43,513.41 276.35,514.23 276.27,515.00 276.17,515.73 276.05,516.41 275.92,517.07 275.77,517.69 275.63,518.29 275.48,518.87 275.34,519.44 275.21,520.00 275.09,520.58 274.96,521.16 274.84,521.75 274.72,522.31 274.60,522.84 274.50,523.30 274.42,523.70 274.35,524.00 L271.85,524.00 271.78,523.70 271.70,523.30 271.60,522.84 271.48,522.31 271.36,521.75 271.24,521.16 271.11,520.58 270.99,520.00 270.86,519.44 270.72,518.87 270.57,518.29 270.43,517.69 270.28,517.07 270.15,516.41 270.03,515.73 269.93,515.00 269.85,514.23 269.77,513.41 269.71,512.57 269.66,511.69 269.62,510.79 269.59,509.87 269.59,508.94 269.60,508.00 269.64,507.05 269.70,506.07 269.79,505.07 269.89,504.06 269.99,503.04 270.11,502.02 270.22,501.01 270.33,500.00 270.44,499.01 270.55,498.05 270.67,497.09 270.79,496.12 270.92,495.15 271.03,494.14 271.15,493.10 271.25,492.00 271.35,490.86 271.44,489.69 271.53,488.48 271.62,487.25 271.70,485.98 271.77,484.69 271.84,483.36 271.91,482.00 271.97,480.60 272.03,479.15 272.08,477.67 272.12,476.16 272.17,474.62 272.21,473.08 272.26,471.54 272.31,470.00 272.37,468.38 272.43,466.62 272.50,464.80 272.56,463.00 272.63,461.29 272.69,459.76 272.73,458.47 272.77,457.50 Z" fill="none" stroke="#2C5DB6" stroke-width="0.7" opacity="0.9"/>
<line x1="273.10" y1="457.50" x2="273.10" y2="527.00" stroke="#2C5DB6" stroke-width="1.8"/>
<rect x="271.83" y="500.04" width="2.4" height="2.4" fill="#2C5DB6"/>
<rect x="270.46" y="520.17" width="2.4" height="2.4" fill="#2C5DB6"/>
<rect x="272.07" y="507.41" width="2.4" height="2.4" fill="#2C5DB6"/>
<rect x="271.81" y="490.13" width="2.4" height="2.4" fill="#2C5DB6"/>
<rect x="270.87" y="520.23" width="2.4" height="2.4" fill="#2C5DB6"/>
<rect x="270.50" y="467.93" width="2.4" height="2.4" fill="#2C5DB6"/>
<rect x="271.92" y="490.35" width="2.4" height="2.4" fill="#2C5DB6"/>
<rect x="272.91" y="496.96" width="2.4" height="2.4" fill="#2C5DB6"/>
<rect x="272.04" y="461.63" width="2.4" height="2.4" fill="#2C5DB6"/>
<rect x="272.54" y="518.53" width="2.4" height="2.4" fill="#2C5DB6"/>
<rect x="272.68" y="509.04" width="2.4" height="2.4" fill="#2C5DB6"/>
<rect x="273.12" y="469.54" width="2.4" height="2.4" fill="#2C5DB6"/>
<rect x="271.93" y="499.70" width="2.4" height="2.4" fill="#2C5DB6"/>
<rect x="271.93" y="515.70" width="2.4" height="2.4" fill="#2C5DB6"/>
<rect x="272.40" y="474.00" width="2.4" height="2.4" fill="#2C5DB6"/>
<rect x="273.70" y="515.76" width="2.4" height="2.4" fill="#2C5DB6"/>
<rect x="272.88" y="479.03" width="2.4" height="2.4" fill="#2C5DB6"/>
<rect x="271.66" y="503.50" width="2.4" height="2.4" fill="#2C5DB6"/>
<rect x="273.06" y="473.70" width="2.4" height="2.4" fill="#2C5DB6"/>
<rect x="271.45" y="521.69" width="2.4" height="2.4" fill="#2C5DB6"/>
<rect x="271.67" y="517.11" width="2.4" height="2.4" fill="#2C5DB6"/>
<rect x="272.63" y="471.26" width="2.4" height="2.4" fill="#2C5DB6"/>
<rect x="272.53" y="469.98" width="2.4" height="2.4" fill="#2C5DB6"/>
<rect x="272.17" y="498.80" width="2.4" height="2.4" fill="#2C5DB6"/>
<rect x="271.58" y="461.01" width="2.4" height="2.4" fill="#2C5DB6"/>
<rect x="271.24" y="480.33" width="2.4" height="2.4" fill="#2C5DB6"/>
<rect x="271.20" y="512.37" width="2.4" height="2.4" fill="#2C5DB6"/>
<rect x="271.99" y="491.12" width="2.4" height="2.4" fill="#2C5DB6"/>
<rect x="273.70" y="505.19" width="2.4" height="2.4" fill="#2C5DB6"/>
<rect x="272.67" y="462.24" width="2.4" height="2.4" fill="#2C5DB6"/>
<rect x="271.99" y="508.04" width="2.4" height="2.4" fill="#2C5DB6"/>
<rect x="271.77" y="510.43" width="2.4" height="2.4" fill="#2C5DB6"/>
<rect x="271.80" y="483.87" width="2.4" height="2.4" fill="#2C5DB6"/>
<rect x="271.85" y="463.74" width="2.4" height="2.4" fill="#2C5DB6"/>
<rect x="272.41" y="472.20" width="2.4" height="2.4" fill="#2C5DB6"/>
<rect x="271.75" y="508.41" width="2.4" height="2.4" fill="#2C5DB6"/>
<rect x="272.60" y="519.37" width="2.4" height="2.4" fill="#2C5DB6"/>
<rect x="271.63" y="483.15" width="2.4" height="2.4" fill="#2C5DB6"/>
<rect x="271.96" y="493.86" width="2.4" height="2.4" fill="#2C5DB6"/>
<rect x="271.52" y="507.95" width="2.4" height="2.4" fill="#2C5DB6"/>
<rect x="272.04" y="511.03" width="2.4" height="2.4" fill="#2C5DB6"/>
<rect x="271.73" y="520.39" width="2.4" height="2.4" fill="#2C5DB6"/>
<rect x="271.30" y="466.54" width="2.4" height="2.4" fill="#2C5DB6"/>
<rect x="272.84" y="518.64" width="2.4" height="2.4" fill="#2C5DB6"/>
<rect x="272.80" y="482.22" width="2.4" height="2.4" fill="#2C5DB6"/>
<rect x="271.43" y="480.48" width="2.4" height="2.4" fill="#2C5DB6"/>
<rect x="272.04" y="480.76" width="2.4" height="2.4" fill="#2C5DB6"/>
<rect x="272.19" y="470.18" width="2.4" height="2.4" fill="#2C5DB6"/>
<rect x="272.38" y="504.22" width="2.4" height="2.4" fill="#2C5DB6"/>
<rect x="271.89" y="463.86" width="2.4" height="2.4" fill="#2C5DB6"/>
<rect x="271.09" y="522.96" width="2.4" height="2.4" fill="#2C5DB6"/>
<rect x="271.73" y="475.75" width="2.4" height="2.4" fill="#2C5DB6"/>
<rect x="272.31" y="498.22" width="2.4" height="2.4" fill="#2C5DB6"/>
<rect x="271.11" y="487.37" width="2.4" height="2.4" fill="#2C5DB6"/>
<rect x="272.08" y="464.31" width="2.4" height="2.4" fill="#2C5DB6"/>
<rect x="271.79" y="491.89" width="2.4" height="2.4" fill="#2C5DB6"/>
<rect x="272.80" y="513.62" width="2.4" height="2.4" fill="#2C5DB6"/>
<rect x="272.86" y="520.64" width="2.4" height="2.4" fill="#2C5DB6"/>
<rect x="271.99" y="500.52" width="2.4" height="2.4" fill="#2C5DB6"/>
<rect x="271.53" y="488.18" width="2.4" height="2.4" fill="#2C5DB6"/>
<rect x="272.28" y="470.20" width="2.4" height="2.4" fill="#2C5DB6"/>
<rect x="271.34" y="489.35" width="2.4" height="2.4" fill="#2C5DB6"/>
<rect x="273.23" y="523.76" width="2.4" height="2.4" fill="#2C5DB6"/>
<rect x="270.13" y="489.37" width="2.4" height="2.4" fill="#2C5DB6"/>
<rect x="271.78" y="491.55" width="2.4" height="2.4" fill="#2C5DB6"/>
<rect x="270.98" y="479.13" width="2.4" height="2.4" fill="#2C5DB6"/>
<rect x="272.38" y="486.24" width="2.4" height="2.4" fill="#2C5DB6"/>
<rect x="272.53" y="523.07" width="2.4" height="2.4" fill="#2C5DB6"/>
<rect x="271.23" y="521.27" width="2.4" height="2.4" fill="#2C5DB6"/>
<rect x="271.22" y="482.12" width="2.4" height="2.4" fill="#2C5DB6"/>
<rect x="271.70" y="466.42" width="2.4" height="2.4" fill="#2C5DB6"/>
<rect x="273.30" y="515.45" width="2.4" height="2.4" fill="#2C5DB6"/>
<rect x="272.21" y="483.56" width="2.4" height="2.4" fill="#2C5DB6"/>
<rect x="270.54" y="504.56" width="2.4" height="2.4" fill="#2C5DB6"/>
<rect x="271.95" y="502.63" width="2.4" height="2.4" fill="#2C5DB6"/>
<rect x="271.90" y="457.10" width="2.40" height="2.40" fill="#2C5DB6"/>
<rect x="261.50" y="539.00" width="23.20" height="3.00" fill="#2C5DB6"/>
<path d="M311.20,435.90 311.24,437.00 311.29,438.48 311.36,440.25 311.43,442.20 311.50,444.25 311.57,446.29 311.64,448.24 311.70,450.00 311.75,451.61 311.80,453.19 311.84,454.74 311.88,456.26 311.92,457.74 311.97,459.19 312.03,460.61 312.10,462.00 312.19,463.33 312.28,464.59 312.38,465.81 312.49,467.00 312.60,468.19 312.73,469.41 312.86,470.67 313.00,472.00 313.15,473.40 313.31,474.86 313.47,476.35 313.64,477.88 313.82,479.41 314.01,480.95 314.20,482.49 314.40,484.00 314.61,485.52 314.84,487.07 315.07,488.63 315.31,490.19 315.55,491.72 315.78,493.21 316.00,494.64 316.20,496.00 316.39,497.28 316.59,498.51 316.78,499.68 316.96,500.81 317.12,501.90 317.25,502.96 317.35,503.99 317.40,505.00 317.41,505.98 317.37,506.91 317.31,507.82 317.21,508.69 317.09,509.54 316.95,510.37 316.78,511.19 316.60,512.00 316.39,512.80 316.14,513.59 315.86,514.37 315.56,515.12 315.26,515.87 314.95,516.59 314.67,517.30 314.40,518.00 314.15,518.68 313.89,519.34 313.63,519.99 313.39,520.62 313.15,521.24 312.94,521.84 312.76,522.43 312.60,523.00 312.47,523.55 312.37,524.09 312.29,524.62 312.24,525.12 312.20,525.62 312.18,526.09 312.18,526.55 312.20,527.00 312.23,527.42 312.29,527.82 312.36,528.20 312.45,528.56 312.56,528.92 312.69,529.27 312.83,529.63 313.00,530.00 313.18,530.38 313.39,530.75 313.61,531.12 313.85,531.50 314.11,531.88 314.39,532.25 314.68,532.62 315.00,533.00 315.34,533.38 315.72,533.76 316.12,534.15 316.54,534.53 316.96,534.91 317.39,535.29 317.80,535.65 318.20,536.00 318.59,536.34 318.99,536.67 319.39,537.00 319.78,537.31 320.16,537.62 320.53,537.92 320.88,538.21 321.20,538.50 321.50,538.79 321.80,539.08 322.08,539.37 322.34,539.66 322.58,539.92 322.78,540.15 322.96,540.35 323.10,540.50 L298.10,540.50 298.24,540.35 298.42,540.15 298.62,539.92 298.86,539.66 299.12,539.37 299.40,539.08 299.70,538.79 300.00,538.50 300.32,538.21 300.67,537.92 301.04,537.62 301.42,537.31 301.81,537.00 302.21,536.67 302.61,536.34 303.00,536.00 303.40,535.65 303.81,535.29 304.24,534.91 304.66,534.53 305.08,534.15 305.48,533.76 305.86,533.38 306.20,533.00 306.52,532.62 306.81,532.25 307.09,531.88 307.35,531.50 307.59,531.12 307.81,530.75 308.02,530.38 308.20,530.00 308.37,529.63 308.51,529.27 308.64,528.92 308.75,528.56 308.84,528.20 308.91,527.82 308.97,527.42 309.00,527.00 309.02,526.55 309.02,526.09 309.00,525.62 308.96,525.12 308.91,524.62 308.83,524.09 308.73,523.55 308.60,523.00 308.44,522.43 308.26,521.84 308.05,521.24 307.81,520.62 307.57,519.99 307.31,519.34 307.05,518.68 306.80,518.00 306.53,517.30 306.25,516.59 305.94,515.87 305.64,515.12 305.34,514.37 305.06,513.59 304.81,512.80 304.60,512.00 304.42,511.19 304.25,510.37 304.11,509.54 303.99,508.69 303.89,507.82 303.83,506.91 303.79,505.98 303.80,505.00 303.85,503.99 303.95,502.96 304.08,501.90 304.24,500.81 304.42,499.68 304.61,498.51 304.81,497.28 305.00,496.00 305.20,494.64 305.42,493.21 305.65,491.72 305.89,490.19 306.13,488.63 306.36,487.07 306.59,485.52 306.80,484.00 307.00,482.49 307.19,480.95 307.38,479.41 307.56,477.88 307.73,476.35 307.89,474.86 308.05,473.40 308.20,472.00 308.34,470.67 308.47,469.41 308.60,468.19 308.71,467.00 308.82,465.81 308.92,464.59 309.01,463.33 309.10,462.00 309.17,460.61 309.23,459.19 309.28,457.74 309.33,456.26 309.36,454.74 309.40,453.19 309.45,451.61 309.50,450.00 309.56,448.24 309.63,446.29 309.70,444.25 309.78,442.20 309.84,440.25 309.91,438.48 309.96,437.00 310.00,435.90 Z" fill="none" stroke="#C41E32" stroke-width="1.2" stroke-linejoin="round"/>
<path d="M311.10,435.90 311.14,437.00 311.18,438.48 311.23,440.25 311.29,442.20 311.35,444.25 311.42,446.29 311.47,448.24 311.52,450.00 311.57,451.61 311.60,453.19 311.64,454.74 311.67,456.26 311.71,457.74 311.75,459.19 311.80,460.61 311.86,462.00 311.93,463.33 312.01,464.59 312.09,465.81 312.19,467.00 312.28,468.19 312.39,469.41 312.50,470.67 312.62,472.00 312.74,473.40 312.87,474.86 313.01,476.35 313.16,477.88 313.31,479.41 313.46,480.95 313.63,482.49 313.79,484.00 313.97,485.52 314.16,487.07 314.36,488.63 314.56,490.19 314.76,491.72 314.95,493.21 315.14,494.64 315.30,496.00 315.47,497.28 315.63,498.51 315.79,499.68 315.94,500.81 316.08,501.90 316.19,502.96 316.27,503.99 316.31,505.00 316.32,505.98 316.29,506.91 316.23,507.82 316.15,508.69 316.05,509.54 315.93,510.37 315.79,511.19 315.64,512.00 315.46,512.80 315.25,513.59 315.02,514.37 314.77,515.12 314.51,515.87 314.26,516.59 314.01,517.30 313.79,518.00 313.58,518.71 313.35,519.44 313.13,520.17 312.92,520.88 312.72,521.54 312.54,522.12 312.39,522.62 312.28,523.00 L308.92,523.00 308.81,522.62 308.66,522.12 308.48,521.54 308.28,520.88 308.07,520.17 307.85,519.44 307.62,518.71 307.41,518.00 307.19,517.30 306.94,516.59 306.69,515.87 306.43,515.12 306.18,514.37 305.95,513.59 305.74,512.80 305.56,512.00 305.41,511.19 305.27,510.37 305.15,509.54 305.05,508.69 304.97,507.82 304.91,506.91 304.88,505.98 304.89,505.00 304.93,503.99 305.01,502.96 305.12,501.90 305.26,500.81 305.41,499.68 305.57,498.51 305.73,497.28 305.90,496.00 306.06,494.64 306.25,493.21 306.44,491.72 306.64,490.19 306.84,488.63 307.04,487.07 307.23,485.52 307.41,484.00 307.57,482.49 307.74,480.95 307.89,479.41 308.04,477.88 308.19,476.35 308.33,474.86 308.46,473.40 308.58,472.00 308.70,470.67 308.81,469.41 308.92,468.19 309.01,467.00 309.11,465.81 309.19,464.59 309.27,463.33 309.34,462.00 309.40,460.61 309.45,459.19 309.49,457.74 309.53,456.26 309.56,454.74 309.60,453.19 309.63,451.61 309.68,450.00 309.73,448.24 309.78,446.29 309.85,444.25 309.91,442.20 309.97,440.25 310.02,438.48 310.06,437.00 310.10,435.90 Z" fill="none" stroke="#C41E32" stroke-width="0.7" opacity="0.9"/>
<path d="M311.01,435.90 311.03,437.00 311.07,438.48 311.11,440.25 311.16,442.20 311.21,444.25 311.26,446.29 311.31,448.24 311.35,450.00 311.38,451.61 311.41,453.19 311.44,454.74 311.47,456.26 311.50,457.74 311.53,459.19 311.57,460.61 311.62,462.00 311.68,463.33 311.74,464.59 311.81,465.81 311.88,467.00 311.96,468.19 312.05,469.41 312.14,470.67 312.23,472.00 312.33,473.40 312.44,474.86 312.55,476.35 312.67,477.88 312.79,479.41 312.92,480.95 313.05,482.49 313.18,484.00 313.33,485.52 313.48,487.07 313.64,488.63 313.80,490.19 313.97,491.72 314.12,493.21 314.27,494.64 314.41,496.00 314.54,497.28 314.67,498.51 314.80,499.68 314.93,500.81 315.04,501.90 315.13,502.96 315.19,503.99 315.22,505.00 315.23,505.98 315.21,506.91 315.16,507.82 315.10,508.69 315.01,509.54 314.91,510.37 314.80,511.19 314.68,512.00 314.54,512.80 314.37,513.59 314.18,514.37 313.97,515.12 313.77,515.87 313.56,516.59 313.36,517.30 313.18,518.00 313.01,518.71 312.83,519.44 312.65,520.17 312.48,520.88 312.32,521.54 312.17,522.12 312.05,522.62 311.96,523.00 L309.24,523.00 309.15,522.62 309.03,522.12 308.88,521.54 308.72,520.88 308.55,520.17 308.37,519.44 308.19,518.71 308.02,518.00 307.84,517.30 307.64,516.59 307.43,515.87 307.23,515.12 307.02,514.37 306.83,513.59 306.66,512.80 306.52,512.00 306.40,511.19 306.29,510.37 306.19,509.54 306.10,508.69 306.04,507.82 305.99,506.91 305.97,505.98 305.98,505.00 306.01,503.99 306.07,502.96 306.16,501.90 306.27,500.81 306.40,499.68 306.53,498.51 306.66,497.28 306.79,496.00 306.93,494.64 307.08,493.21 307.23,491.72 307.40,490.19 307.56,488.63 307.72,487.07 307.87,485.52 308.02,484.00 308.15,482.49 308.28,480.95 308.41,479.41 308.53,477.88 308.65,476.35 308.76,474.86 308.87,473.40 308.97,472.00 309.06,470.67 309.15,469.41 309.24,468.19 309.32,467.00 309.39,465.81 309.46,464.59 309.52,463.33 309.58,462.00 309.63,460.61 309.67,459.19 309.70,457.74 309.73,456.26 309.76,454.74 309.79,453.19 309.82,451.61 309.85,450.00 309.89,448.24 309.94,446.29 309.99,444.25 310.04,442.20 310.09,440.25 310.13,438.48 310.17,437.00 310.19,435.90 Z" fill="none" stroke="#C41E32" stroke-width="0.7" opacity="0.9"/>
<path d="M310.91,435.90 310.93,437.00 310.96,438.48 310.99,440.25 311.03,442.20 311.07,444.25 311.10,446.29 311.14,448.24 311.17,450.00 311.20,451.61 311.22,453.19 311.24,454.74 311.26,456.26 311.29,457.74 311.31,459.19 311.34,460.61 311.38,462.00 311.42,463.33 311.47,464.59 311.53,465.81 311.58,467.00 311.64,468.19 311.71,469.41 311.78,470.67 311.85,472.00 311.93,473.40 312.01,474.86 312.09,476.35 312.18,477.88 312.28,479.41 312.37,480.95 312.47,482.49 312.58,484.00 312.69,485.52 312.80,487.07 312.93,488.63 313.05,490.19 313.17,491.72 313.30,493.21 313.41,494.64 313.51,496.00 313.61,497.28 313.71,498.51 313.81,499.68 313.91,500.81 313.99,501.90 314.06,502.96 314.11,503.99 314.14,505.00 314.14,505.98 314.12,506.91 314.09,507.82 314.04,508.69 313.98,509.54 313.90,510.37 313.81,511.19 313.72,512.00 313.61,512.80 313.48,513.59 313.34,514.37 313.18,515.12 313.02,515.87 312.86,516.59 312.71,517.30 312.58,518.00 312.44,518.71 312.31,519.44 312.17,520.17 312.04,520.88 311.91,521.54 311.80,522.12 311.71,522.62 311.64,523.00 L309.56,523.00 309.49,522.62 309.40,522.12 309.29,521.54 309.16,520.88 309.03,520.17 308.89,519.44 308.76,518.71 308.62,518.00 308.49,517.30 308.34,516.59 308.18,515.87 308.02,515.12 307.86,514.37 307.72,513.59 307.59,512.80 307.48,512.00 307.39,511.19 307.30,510.37 307.22,509.54 307.16,508.69 307.11,507.82 307.08,506.91 307.06,505.98 307.06,505.00 307.09,503.99 307.14,502.96 307.21,501.90 307.29,500.81 307.39,499.68 307.49,498.51 307.59,497.28 307.69,496.00 307.79,494.64 307.90,493.21 308.03,491.72 308.15,490.19 308.27,488.63 308.40,487.07 308.51,485.52 308.62,484.00 308.73,482.49 308.83,480.95 308.92,479.41 309.02,477.88 309.11,476.35 309.19,474.86 309.27,473.40 309.35,472.00 309.42,470.67 309.49,469.41 309.56,468.19 309.62,467.00 309.67,465.81 309.73,464.59 309.78,463.33 309.82,462.00 309.86,460.61 309.89,459.19 309.91,457.74 309.94,456.26 309.96,454.74 309.98,453.19 310.00,451.61 310.03,450.00 310.06,448.24 310.10,446.29 310.13,444.25 310.17,442.20 310.21,440.25 310.24,438.48 310.27,437.00 310.29,435.90 Z" fill="none" stroke="#C41E32" stroke-width="0.7" opacity="0.9"/>
<line x1="310.60" y1="435.90" x2="310.60" y2="527.00" stroke="#C41E32" stroke-width="1.8"/>
<rect x="308.46" y="504.11" width="2.4" height="2.4" fill="#C41E32"/>
<rect x="307.71" y="474.46" width="2.4" height="2.4" fill="#C41E32"/>
<rect x="309.55" y="503.16" width="2.4" height="2.4" fill="#C41E32"/>
<rect x="310.75" y="475.37" width="2.4" height="2.4" fill="#C41E32"/>
<rect x="308.92" y="495.45" width="2.4" height="2.4" fill="#C41E32"/>
<rect x="308.68" y="455.61" width="2.4" height="2.4" fill="#C41E32"/>
<rect x="309.18" y="501.82" width="2.4" height="2.4" fill="#C41E32"/>
<rect x="309.98" y="487.21" width="2.4" height="2.4" fill="#C41E32"/>
<rect x="308.09" y="510.63" width="2.4" height="2.4" fill="#C41E32"/>
<rect x="308.40" y="479.15" width="2.4" height="2.4" fill="#C41E32"/>
<rect x="308.13" y="512.77" width="2.4" height="2.4" fill="#C41E32"/>
<rect x="310.50" y="479.30" width="2.4" height="2.4" fill="#C41E32"/>
<rect x="307.73" y="502.98" width="2.4" height="2.4" fill="#C41E32"/>
<rect x="310.55" y="523.13" width="2.4" height="2.4" fill="#C41E32"/>
<rect x="309.08" y="491.85" width="2.4" height="2.4" fill="#C41E32"/>
<rect x="310.61" y="466.43" width="2.4" height="2.4" fill="#C41E32"/>
<rect x="307.41" y="488.21" width="2.4" height="2.4" fill="#C41E32"/>
<rect x="309.10" y="503.20" width="2.4" height="2.4" fill="#C41E32"/>
<rect x="307.83" y="466.83" width="2.4" height="2.4" fill="#C41E32"/>
<rect x="308.12" y="509.43" width="2.4" height="2.4" fill="#C41E32"/>
<rect x="308.69" y="484.26" width="2.4" height="2.4" fill="#C41E32"/>
<rect x="309.62" y="498.46" width="2.4" height="2.4" fill="#C41E32"/>
<rect x="308.01" y="505.23" width="2.4" height="2.4" fill="#C41E32"/>
<rect x="309.97" y="456.73" width="2.4" height="2.4" fill="#C41E32"/>
<rect x="310.30" y="500.31" width="2.4" height="2.4" fill="#C41E32"/>
<rect x="308.85" y="470.13" width="2.4" height="2.4" fill="#C41E32"/>
<rect x="308.11" y="457.73" width="2.4" height="2.4" fill="#C41E32"/>
<rect x="309.45" y="487.81" width="2.4" height="2.4" fill="#C41E32"/>
<rect x="309.73" y="464.15" width="2.4" height="2.4" fill="#C41E32"/>
<rect x="309.67" y="477.01" width="2.4" height="2.4" fill="#C41E32"/>
<rect x="309.99" y="457.30" width="2.4" height="2.4" fill="#C41E32"/>
<rect x="308.41" y="487.37" width="2.4" height="2.4" fill="#C41E32"/>
<rect x="310.33" y="496.11" width="2.4" height="2.4" fill="#C41E32"/>
<rect x="309.43" y="471.45" width="2.4" height="2.4" fill="#C41E32"/>
<rect x="309.38" y="483.18" width="2.4" height="2.4" fill="#C41E32"/>
<rect x="308.99" y="474.30" width="2.4" height="2.4" fill="#C41E32"/>
<rect x="309.66" y="513.00" width="2.4" height="2.4" fill="#C41E32"/>
<rect x="310.73" y="480.97" width="2.4" height="2.4" fill="#C41E32"/>
<rect x="309.71" y="461.44" width="2.4" height="2.4" fill="#C41E32"/>
<rect x="308.70" y="492.97" width="2.4" height="2.4" fill="#C41E32"/>
<rect x="310.51" y="521.88" width="2.4" height="2.4" fill="#C41E32"/>
<rect x="307.82" y="512.10" width="2.4" height="2.4" fill="#C41E32"/>
<rect x="310.28" y="499.76" width="2.4" height="2.4" fill="#C41E32"/>
<rect x="310.24" y="480.66" width="2.4" height="2.4" fill="#C41E32"/>
<rect x="310.44" y="494.27" width="2.4" height="2.4" fill="#C41E32"/>
<rect x="310.73" y="521.80" width="2.4" height="2.4" fill="#C41E32"/>
<rect x="309.13" y="479.38" width="2.4" height="2.4" fill="#C41E32"/>
<rect x="309.87" y="517.34" width="2.4" height="2.4" fill="#C41E32"/>
<rect x="309.40" y="494.41" width="2.4" height="2.4" fill="#C41E32"/>
<rect x="310.28" y="497.86" width="2.4" height="2.4" fill="#C41E32"/>
<rect x="310.48" y="517.19" width="2.4" height="2.4" fill="#C41E32"/>
<rect x="308.76" y="481.11" width="2.4" height="2.4" fill="#C41E32"/>
<rect x="309.70" y="475.20" width="2.4" height="2.4" fill="#C41E32"/>
<rect x="307.56" y="522.87" width="2.4" height="2.4" fill="#C41E32"/>
<rect x="311.13" y="518.76" width="2.4" height="2.4" fill="#C41E32"/>
<rect x="309.23" y="496.51" width="2.4" height="2.4" fill="#C41E32"/>
<rect x="311.60" y="489.54" width="2.4" height="2.4" fill="#C41E32"/>
<rect x="308.20" y="483.88" width="2.4" height="2.4" fill="#C41E32"/>
<rect x="311.60" y="489.22" width="2.4" height="2.4" fill="#C41E32"/>
<rect x="308.90" y="474.85" width="2.4" height="2.4" fill="#C41E32"/>
<rect x="309.47" y="498.32" width="2.4" height="2.4" fill="#C41E32"/>
<rect x="308.94" y="485.84" width="2.4" height="2.4" fill="#C41E32"/>
<rect x="311.06" y="512.68" width="2.4" height="2.4" fill="#C41E32"/>
<rect x="308.62" y="455.72" width="2.4" height="2.4" fill="#C41E32"/>
<rect x="309.24" y="520.27" width="2.4" height="2.4" fill="#C41E32"/>
<rect x="309.42" y="509.53" width="2.4" height="2.4" fill="#C41E32"/>
<rect x="310.18" y="465.63" width="2.4" height="2.4" fill="#C41E32"/>
<rect x="309.04" y="524.02" width="2.4" height="2.4" fill="#C41E32"/>
<rect x="310.71" y="488.02" width="2.4" height="2.4" fill="#C41E32"/>
<rect x="308.10" y="499.94" width="2.4" height="2.4" fill="#C41E32"/>
<rect x="308.41" y="463.07" width="2.4" height="2.4" fill="#C41E32"/>
<rect x="309.02" y="508.03" width="2.4" height="2.4" fill="#C41E32"/>
<rect x="310.56" y="478.33" width="2.4" height="2.4" fill="#C41E32"/>
<rect x="308.31" y="475.58" width="2.4" height="2.4" fill="#C41E32"/>
<rect x="309.19" y="480.07" width="2.4" height="2.4" fill="#C41E32"/>
<rect x="309.17" y="506.95" width="2.4" height="2.4" fill="#C41E32"/>
<rect x="309.25" y="472.47" width="2.4" height="2.4" fill="#C41E32"/>
<rect x="311.19" y="486.69" width="2.4" height="2.4" fill="#C41E32"/>
<rect x="308.36" y="492.99" width="2.4" height="2.4" fill="#C41E32"/>
<rect x="309.59" y="455.82" width="2.4" height="2.4" fill="#C41E32"/>
<rect x="308.37" y="495.09" width="2.4" height="2.4" fill="#C41E32"/>
<rect x="308.63" y="504.37" width="2.4" height="2.4" fill="#C41E32"/>
<rect x="308.56" y="518.62" width="2.4" height="2.4" fill="#C41E32"/>
<rect x="307.89" y="481.78" width="2.4" height="2.4" fill="#C41E32"/>
<rect x="310.62" y="468.55" width="2.4" height="2.4" fill="#C41E32"/>
<rect x="309.58" y="475.55" width="2.4" height="2.4" fill="#C41E32"/>
<rect x="309.08" y="513.34" width="2.4" height="2.4" fill="#C41E32"/>
<rect x="308.66" y="503.42" width="2.4" height="2.4" fill="#C41E32"/>
<rect x="309.73" y="509.45" width="2.4" height="2.4" fill="#C41E32"/>
<rect x="310.11" y="518.55" width="2.4" height="2.4" fill="#C41E32"/>
<rect x="310.28" y="493.24" width="2.4" height="2.4" fill="#C41E32"/>
<rect x="309.12" y="489.64" width="2.4" height="2.4" fill="#C41E32"/>
<rect x="309.90" y="495.81" width="2.4" height="2.4" fill="#C41E32"/>
<rect x="310.05" y="511.63" width="2.4" height="2.4" fill="#C41E32"/>
<rect x="309.70" y="512.17" width="2.4" height="2.4" fill="#C41E32"/>
<rect x="309.28" y="510.22" width="2.4" height="2.4" fill="#C41E32"/>
<rect x="309.21" y="505.38" width="2.4" height="2.4" fill="#C41E32"/>
<rect x="310.94" y="523.31" width="2.4" height="2.4" fill="#C41E32"/>
<rect x="309.38" y="458.22" width="2.4" height="2.4" fill="#C41E32"/>
<rect x="309.67" y="513.74" width="2.4" height="2.4" fill="#C41E32"/>
<rect x="310.80" y="521.46" width="2.4" height="2.4" fill="#C41E32"/>
<rect x="309.95" y="504.67" width="2.4" height="2.4" fill="#C41E32"/>
<rect x="310.02" y="519.06" width="2.4" height="2.4" fill="#C41E32"/>
<rect x="308.61" y="465.28" width="2.4" height="2.4" fill="#C41E32"/>
<rect x="308.74" y="466.08" width="2.4" height="2.4" fill="#C41E32"/>
<rect x="309.86" y="498.37" width="2.4" height="2.4" fill="#C41E32"/>
<rect x="309.53" y="481.34" width="2.4" height="2.4" fill="#C41E32"/>
<rect x="310.61" y="459.84" width="2.4" height="2.4" fill="#C41E32"/>
<rect x="309.86" y="506.76" width="2.4" height="2.4" fill="#C41E32"/>
<rect x="310.10" y="516.29" width="2.4" height="2.4" fill="#C41E32"/>
<rect x="310.19" y="476.82" width="2.4" height="2.4" fill="#C41E32"/>
<rect x="307.20" y="496.82" width="2.4" height="2.4" fill="#C41E32"/>
<rect x="309.55" y="480.99" width="2.4" height="2.4" fill="#C41E32"/>
<rect x="309.22" y="458.70" width="2.4" height="2.4" fill="#C41E32"/>
<rect x="308.86" y="498.99" width="2.4" height="2.4" fill="#C41E32"/>
<rect x="310.47" y="490.21" width="2.4" height="2.4" fill="#C41E32"/>
<rect x="308.73" y="498.26" width="2.4" height="2.4" fill="#C41E32"/>
<rect x="308.68" y="473.23" width="2.4" height="2.4" fill="#C41E32"/>
<rect x="309.16" y="507.34" width="2.4" height="2.4" fill="#C41E32"/>
<rect x="309.88" y="490.99" width="2.4" height="2.4" fill="#C41E32"/>
<rect x="309.94" y="480.78" width="2.4" height="2.4" fill="#C41E32"/>
<rect x="310.07" y="506.37" width="2.4" height="2.4" fill="#C41E32"/>
<rect x="310.81" y="500.65" width="2.4" height="2.4" fill="#C41E32"/>
<rect x="309.19" y="460.77" width="2.4" height="2.4" fill="#C41E32"/>
<rect x="309.02" y="463.54" width="2.4" height="2.4" fill="#C41E32"/>
<rect x="309.55" y="496.38" width="2.4" height="2.4" fill="#C41E32"/>
<rect x="311.42" y="488.43" width="2.4" height="2.4" fill="#C41E32"/>
<rect x="309.47" y="477.43" width="2.4" height="2.4" fill="#C41E32"/>
<rect x="309.17" y="505.55" width="2.4" height="2.4" fill="#C41E32"/>
<rect x="310.82" y="458.56" width="2.4" height="2.4" fill="#C41E32"/>
<rect x="311.38" y="502.48" width="2.4" height="2.4" fill="#C41E32"/>
<rect x="311.38" y="470.42" width="2.4" height="2.4" fill="#C41E32"/>
<rect x="311.17" y="501.35" width="2.4" height="2.4" fill="#C41E32"/>
<rect x="310.29" y="512.24" width="2.4" height="2.4" fill="#C41E32"/>
<rect x="310.47" y="479.60" width="2.4" height="2.4" fill="#C41E32"/>
<rect x="308.72" y="471.25" width="2.4" height="2.4" fill="#C41E32"/>
<rect x="310.58" y="479.21" width="2.4" height="2.4" fill="#C41E32"/>
<rect x="310.62" y="481.80" width="2.4" height="2.4" fill="#C41E32"/>
<rect x="310.81" y="500.15" width="2.4" height="2.4" fill="#C41E32"/>
<rect x="307.63" y="511.12" width="2.4" height="2.4" fill="#C41E32"/>
<rect x="310.19" y="491.02" width="2.4" height="2.4" fill="#C41E32"/>
<rect x="307.94" y="496.28" width="2.4" height="2.4" fill="#C41E32"/>
<rect x="308.68" y="482.49" width="2.4" height="2.4" fill="#C41E32"/>
<rect x="310.05" y="461.59" width="2.4" height="2.4" fill="#C41E32"/>
<rect x="309.54" y="457.56" width="2.4" height="2.4" fill="#C41E32"/>
<rect x="307.74" y="517.05" width="2.4" height="2.4" fill="#C41E32"/>
<rect x="309.60" y="454.83" width="2.4" height="2.4" fill="#C41E32"/>
<rect x="310.46" y="487.71" width="2.4" height="2.4" fill="#C41E32"/>
<rect x="308.52" y="484.81" width="2.4" height="2.4" fill="#C41E32"/>
<rect x="309.86" y="487.39" width="2.4" height="2.4" fill="#C41E32"/>
<rect x="309.40" y="435.50" width="2.40" height="2.40" fill="#C41E32"/>
<rect x="299.00" y="539.00" width="23.20" height="3.00" fill="#C41E32"/>
<rect x="309.50" y="439.40" width="2.20" height="2.20" fill="#C41E32"/>
<rect x="309.50" y="444.90" width="2.20" height="2.20" fill="#C41E32"/>
<rect x="309.50" y="450.90" width="2.20" height="2.20" fill="#C41E32"/>
<rect x="309.50" y="534.20" width="2.20" height="2.20" fill="#C41E32"/>
<text transform="translate(276.20,554.5) rotate(-30)" font-size="12.2" text-anchor="end" fill="#111" stroke="#111">WT</text>
<text transform="translate(316.60,554.5) rotate(-30)" font-size="12.2" text-anchor="end" fill="#111" stroke="#111"><tspan font-style="italic">Aebp1</tspan> cKO</text>
<line x1="273.10" y1="540.50" x2="273.10" y2="544.80" stroke="#444" stroke-width="1.0"/>
<line x1="310.60" y1="540.50" x2="310.60" y2="544.80" stroke="#444" stroke-width="1.0"/>
<line x1="383.40" y1="419.60" x2="383.40" y2="541.00" stroke="#444" stroke-width="1.1"/>
<line x1="382.90" y1="540.50" x2="470.60" y2="540.50" stroke="#444" stroke-width="1.1"/>
<line x1="377.20" y1="540.50" x2="383.40" y2="540.50" stroke="#444" stroke-width="1.1"/>
<text x="374.60" y="543.70" font-size="9.0" text-anchor="end" fill="#333" stroke="#333">0</text>
<line x1="377.20" y1="500.24" x2="383.40" y2="500.24" stroke="#444" stroke-width="1.1"/>
<text x="374.60" y="503.44" font-size="9.0" text-anchor="end" fill="#333" stroke="#333">2</text>
<line x1="377.20" y1="459.98" x2="383.40" y2="459.98" stroke="#444" stroke-width="1.1"/>
<text x="374.60" y="463.18" font-size="9.0" text-anchor="end" fill="#333" stroke="#333">4</text>
<line x1="377.20" y1="419.72" x2="383.40" y2="419.72" stroke="#444" stroke-width="1.1"/>
<text x="374.60" y="422.92" font-size="9.0" text-anchor="end" fill="#333" stroke="#333">6</text>
<text x="389.50" y="407.4" font-size="11.8" fill="#111" stroke="#111"><tspan font-style="italic">Gzmb</tspan> in Teff</text>
<text x="406.60" y="426.4" font-size="8.6" fill="#333" stroke="#333"><tspan font-style="italic">P</tspan> = 0.0010</text>
<line x1="407.70" y1="429.80" x2="445.20" y2="429.80" stroke="#444" stroke-width="1.5"/>
<text transform="translate(364.80,484.6) rotate(-90)" font-size="12.0" text-anchor="middle" fill="#111" stroke="#111">Expression</text>
<path d="M408.70,436.80 408.72,437.69 408.75,438.91 408.78,440.36 408.82,441.96 408.86,443.62 408.90,445.23 408.95,446.72 409.00,448.00 409.05,449.09 409.09,450.09 409.14,451.02 409.19,451.89 409.25,452.71 409.31,453.49 409.40,454.25 409.50,455.00 409.62,455.71 409.77,456.37 409.93,456.98 410.11,457.56 410.28,458.14 410.46,458.73 410.64,459.34 410.80,460.00 410.96,460.69 411.12,461.38 411.28,462.09 411.44,462.81 411.60,463.56 411.74,464.34 411.88,465.15 412.00,466.00 412.11,466.88 412.20,467.77 412.28,468.68 412.36,469.62 412.42,470.62 412.49,471.67 412.54,472.79 412.60,474.00 412.65,475.31 412.70,476.72 412.74,478.21 412.78,479.75 412.82,481.32 412.85,482.91 412.87,484.47 412.90,486.00 412.92,487.51 412.95,489.05 412.97,490.59 412.99,492.12 413.00,493.65 413.01,495.14 413.01,496.60 413.00,498.00 412.99,499.37 412.97,500.71 412.94,502.03 412.91,503.31 412.87,504.56 412.83,505.76 412.77,506.91 412.70,508.00 412.62,509.04 412.53,510.02 412.43,510.95 412.32,511.84 412.20,512.69 412.07,513.50 411.94,514.27 411.80,515.00 411.64,515.69 411.47,516.32 411.28,516.91 411.08,517.47 410.89,518.00 410.71,518.50 410.54,519.00 410.40,519.50 410.28,519.98 410.17,520.43 410.06,520.86 409.97,521.28 409.90,521.69 409.85,522.11 409.81,522.55 409.80,523.00 409.81,523.48 409.83,523.96 409.88,524.46 409.94,524.97 410.02,525.48 410.12,525.99 410.25,526.50 410.40,527.00 410.57,527.50 410.77,528.00 410.99,528.50 411.23,529.00 411.49,529.50 411.78,530.00 412.08,530.50 412.40,531.00 412.75,531.50 413.14,532.01 413.56,532.52 413.99,533.03 414.43,533.54 414.87,534.04 415.29,534.52 415.70,535.00 416.10,535.47 416.51,535.95 416.91,536.42 417.31,536.88 417.70,537.32 418.06,537.74 418.40,538.14 418.70,538.50 418.97,538.84 419.22,539.15 419.44,539.45 419.64,539.72 419.81,539.96 419.97,540.18 420.09,540.36 420.20,540.50 L396.20,540.50 396.31,540.36 396.43,540.18 396.59,539.96 396.76,539.72 396.96,539.45 397.18,539.15 397.43,538.84 397.70,538.50 398.00,538.14 398.34,537.74 398.70,537.32 399.09,536.88 399.49,536.42 399.89,535.95 400.30,535.47 400.70,535.00 401.11,534.52 401.53,534.04 401.97,533.54 402.41,533.03 402.84,532.52 403.26,532.01 403.65,531.50 404.00,531.00 404.32,530.50 404.62,530.00 404.91,529.50 405.17,529.00 405.41,528.50 405.63,528.00 405.83,527.50 406.00,527.00 406.15,526.50 406.28,525.99 406.38,525.48 406.46,524.97 406.52,524.46 406.57,523.96 406.59,523.48 406.60,523.00 406.59,522.55 406.55,522.11 406.50,521.69 406.43,521.28 406.34,520.86 406.23,520.43 406.12,519.98 406.00,519.50 405.86,519.00 405.69,518.50 405.51,518.00 405.32,517.47 405.12,516.91 404.93,516.32 404.76,515.69 404.60,515.00 404.46,514.27 404.33,513.50 404.20,512.69 404.08,511.84 403.97,510.95 403.87,510.02 403.78,509.04 403.70,508.00 403.63,506.91 403.57,505.76 403.53,504.56 403.49,503.31 403.46,502.03 403.43,500.71 403.41,499.37 403.40,498.00 403.39,496.60 403.39,495.14 403.40,493.65 403.41,492.12 403.43,490.59 403.45,489.05 403.48,487.51 403.50,486.00 403.53,484.47 403.55,482.91 403.58,481.32 403.62,479.75 403.66,478.21 403.70,476.72 403.75,475.31 403.80,474.00 403.86,472.79 403.91,471.67 403.98,470.62 404.04,469.62 404.12,468.68 404.20,467.77 404.29,466.88 404.40,466.00 404.52,465.15 404.66,464.34 404.80,463.56 404.96,462.81 405.12,462.09 405.28,461.38 405.44,460.69 405.60,460.00 405.76,459.34 405.94,458.73 406.12,458.14 406.29,457.56 406.47,456.98 406.63,456.37 406.78,455.71 406.90,455.00 407.00,454.25 407.09,453.49 407.15,452.71 407.21,451.89 407.26,451.02 407.31,450.09 407.35,449.09 407.40,448.00 407.45,446.72 407.50,445.23 407.54,443.62 407.58,441.96 407.62,440.36 407.65,438.91 407.68,437.69 407.70,436.80 Z" fill="none" stroke="#2C5DB6" stroke-width="1.2" stroke-linejoin="round"/>
<path d="M408.55,436.80 408.57,437.69 408.58,438.91 408.61,440.36 408.63,441.96 408.66,443.62 408.69,445.23 408.73,446.72 408.76,448.00 408.79,449.09 408.82,450.09 408.86,451.02 408.89,451.89 408.93,452.71 408.98,453.49 409.04,454.25 409.11,455.00 409.20,455.71 409.30,456.37 409.41,456.98 409.53,457.56 409.66,458.14 409.78,458.73 409.91,459.34 410.02,460.00 410.13,460.69 410.24,461.38 410.36,462.09 410.47,462.81 410.58,463.56 410.68,464.34 410.78,465.15 410.86,466.00 410.93,466.88 411.00,467.77 411.06,468.68 411.11,469.62 411.16,470.62 411.20,471.67 411.24,472.79 411.28,474.00 411.32,475.31 411.35,476.72 411.38,478.21 411.41,479.75 411.43,481.32 411.45,482.91 411.47,484.47 411.49,486.00 411.51,487.51 411.52,489.05 411.54,490.59 411.55,492.12 411.56,493.65 411.57,495.14 411.57,496.60 411.56,498.00 411.55,499.37 411.54,500.71 411.52,502.03 411.50,503.31 411.47,504.56 411.44,505.76 411.40,506.91 411.35,508.00 411.29,509.04 411.23,510.02 411.16,510.95 411.08,511.84 411.00,512.69 410.91,513.50 410.82,514.27 410.72,515.00 410.61,515.71 410.48,516.41 410.34,517.07 410.19,517.69 410.05,518.25 409.92,518.75 409.82,519.17 409.74,519.50 L406.66,519.50 406.58,519.17 406.48,518.75 406.35,518.25 406.21,517.69 406.06,517.07 405.92,516.41 405.79,515.71 405.68,515.00 405.58,514.27 405.49,513.50 405.40,512.69 405.32,511.84 405.24,510.95 405.17,510.02 405.11,509.04 405.05,508.00 405.00,506.91 404.96,505.76 404.93,504.56 404.90,503.31 404.88,502.03 404.86,500.71 404.85,499.37 404.84,498.00 404.83,496.60 404.83,495.14 404.84,493.65 404.85,492.12 404.86,490.59 404.88,489.05 404.89,487.51 404.91,486.00 404.93,484.47 404.95,482.91 404.97,481.32 404.99,479.75 405.02,478.21 405.05,476.72 405.08,475.31 405.12,474.00 405.16,472.79 405.20,471.67 405.24,470.62 405.29,469.62 405.34,468.68 405.40,467.77 405.47,466.88 405.54,466.00 405.62,465.15 405.72,464.34 405.82,463.56 405.93,462.81 406.04,462.09 406.16,461.38 406.27,460.69 406.38,460.00 406.49,459.34 406.62,458.73 406.74,458.14 406.87,457.56 406.99,456.98 407.10,456.37 407.20,455.71 407.29,455.00 407.36,454.25 407.42,453.49 407.47,452.71 407.51,451.89 407.54,451.02 407.58,450.09 407.61,449.09 407.64,448.00 407.67,446.72 407.71,445.23 407.74,443.62 407.77,441.96 407.79,440.36 407.82,438.91 407.83,437.69 407.85,436.80 Z" fill="none" stroke="#2C5DB6" stroke-width="0.7" opacity="0.9"/>
<line x1="408.20" y1="436.80" x2="408.20" y2="523.00" stroke="#2C5DB6" stroke-width="1.8"/>
<rect x="407.34" y="451.84" width="2.4" height="2.4" fill="#2C5DB6"/>
<rect x="405.46" y="469.52" width="2.4" height="2.4" fill="#2C5DB6"/>
<rect x="408.34" y="451.27" width="2.4" height="2.4" fill="#2C5DB6"/>
<rect x="406.90" y="459.63" width="2.4" height="2.4" fill="#2C5DB6"/>
<rect x="407.58" y="462.34" width="2.4" height="2.4" fill="#2C5DB6"/>
<rect x="406.75" y="458.08" width="2.4" height="2.4" fill="#2C5DB6"/>
<rect x="407.03" y="514.61" width="2.4" height="2.4" fill="#2C5DB6"/>
<rect x="408.40" y="469.06" width="2.4" height="2.4" fill="#2C5DB6"/>
<rect x="406.43" y="494.05" width="2.4" height="2.4" fill="#2C5DB6"/>
<rect x="407.47" y="477.48" width="2.4" height="2.4" fill="#2C5DB6"/>
<rect x="406.83" y="493.62" width="2.4" height="2.4" fill="#2C5DB6"/>
<rect x="406.27" y="462.67" width="2.4" height="2.4" fill="#2C5DB6"/>
<rect x="405.58" y="452.18" width="2.4" height="2.4" fill="#2C5DB6"/>
<rect x="407.71" y="455.28" width="2.4" height="2.4" fill="#2C5DB6"/>
<rect x="407.11" y="445.21" width="2.4" height="2.4" fill="#2C5DB6"/>
<rect x="407.93" y="471.69" width="2.4" height="2.4" fill="#2C5DB6"/>
<rect x="406.84" y="464.37" width="2.4" height="2.4" fill="#2C5DB6"/>
<rect x="406.67" y="477.18" width="2.4" height="2.4" fill="#2C5DB6"/>
<rect x="408.57" y="497.67" width="2.4" height="2.4" fill="#2C5DB6"/>
<rect x="407.09" y="452.19" width="2.4" height="2.4" fill="#2C5DB6"/>
<rect x="408.48" y="515.92" width="2.4" height="2.4" fill="#2C5DB6"/>
<rect x="404.80" y="491.76" width="2.4" height="2.4" fill="#2C5DB6"/>
<rect x="408.14" y="439.31" width="2.4" height="2.4" fill="#2C5DB6"/>
<rect x="407.19" y="443.79" width="2.4" height="2.4" fill="#2C5DB6"/>
<rect x="406.00" y="442.49" width="2.4" height="2.4" fill="#2C5DB6"/>
<rect x="408.20" y="483.77" width="2.4" height="2.4" fill="#2C5DB6"/>
<rect x="406.92" y="467.50" width="2.4" height="2.4" fill="#2C5DB6"/>
<rect x="408.91" y="446.49" width="2.4" height="2.4" fill="#2C5DB6"/>
<rect x="407.92" y="479.08" width="2.4" height="2.4" fill="#2C5DB6"/>
<rect x="407.70" y="515.53" width="2.4" height="2.4" fill="#2C5DB6"/>
<rect x="407.25" y="442.94" width="2.4" height="2.4" fill="#2C5DB6"/>
<rect x="407.71" y="471.38" width="2.4" height="2.4" fill="#2C5DB6"/>
<rect x="407.28" y="472.21" width="2.4" height="2.4" fill="#2C5DB6"/>
<rect x="407.26" y="463.89" width="2.4" height="2.4" fill="#2C5DB6"/>
<rect x="407.09" y="518.47" width="2.4" height="2.4" fill="#2C5DB6"/>
<rect x="406.00" y="453.51" width="2.4" height="2.4" fill="#2C5DB6"/>
<rect x="406.95" y="482.37" width="2.4" height="2.4" fill="#2C5DB6"/>
<rect x="406.82" y="445.72" width="2.4" height="2.4" fill="#2C5DB6"/>
<rect x="407.44" y="483.24" width="2.4" height="2.4" fill="#2C5DB6"/>
<rect x="405.41" y="514.35" width="2.4" height="2.4" fill="#2C5DB6"/>
<rect x="405.87" y="456.38" width="2.4" height="2.4" fill="#2C5DB6"/>
<rect x="405.89" y="440.23" width="2.4" height="2.4" fill="#2C5DB6"/>
<rect x="406.72" y="485.66" width="2.4" height="2.4" fill="#2C5DB6"/>
<rect x="405.87" y="469.68" width="2.4" height="2.4" fill="#2C5DB6"/>
<rect x="405.87" y="513.67" width="2.4" height="2.4" fill="#2C5DB6"/>
<rect x="405.24" y="464.02" width="2.4" height="2.4" fill="#2C5DB6"/>
<rect x="407.58" y="457.17" width="2.4" height="2.4" fill="#2C5DB6"/>
<rect x="406.84" y="448.29" width="2.4" height="2.4" fill="#2C5DB6"/>
<rect x="407.39" y="502.14" width="2.4" height="2.4" fill="#2C5DB6"/>
<rect x="406.80" y="505.99" width="2.4" height="2.4" fill="#2C5DB6"/>
<rect x="407.48" y="445.52" width="2.4" height="2.4" fill="#2C5DB6"/>
<rect x="407.90" y="458.88" width="2.4" height="2.4" fill="#2C5DB6"/>
<rect x="407.53" y="486.11" width="2.4" height="2.4" fill="#2C5DB6"/>
<rect x="408.42" y="458.92" width="2.4" height="2.4" fill="#2C5DB6"/>
<rect x="407.58" y="442.74" width="2.4" height="2.4" fill="#2C5DB6"/>
<rect x="406.79" y="455.19" width="2.4" height="2.4" fill="#2C5DB6"/>
<rect x="407.93" y="446.88" width="2.4" height="2.4" fill="#2C5DB6"/>
<rect x="406.35" y="473.29" width="2.4" height="2.4" fill="#2C5DB6"/>
<rect x="408.52" y="484.40" width="2.4" height="2.4" fill="#2C5DB6"/>
<rect x="406.05" y="512.28" width="2.4" height="2.4" fill="#2C5DB6"/>
<rect x="405.62" y="485.93" width="2.4" height="2.4" fill="#2C5DB6"/>
<rect x="407.59" y="475.06" width="2.4" height="2.4" fill="#2C5DB6"/>
<rect x="405.68" y="517.09" width="2.4" height="2.4" fill="#2C5DB6"/>
<rect x="406.76" y="498.50" width="2.4" height="2.4" fill="#2C5DB6"/>
<rect x="406.26" y="505.39" width="2.4" height="2.4" fill="#2C5DB6"/>
<rect x="407.25" y="470.16" width="2.4" height="2.4" fill="#2C5DB6"/>
<rect x="407.27" y="452.69" width="2.4" height="2.4" fill="#2C5DB6"/>
<rect x="406.64" y="460.33" width="2.4" height="2.4" fill="#2C5DB6"/>
<rect x="406.27" y="444.01" width="2.4" height="2.4" fill="#2C5DB6"/>
<rect x="406.78" y="501.43" width="2.4" height="2.4" fill="#2C5DB6"/>
<rect x="407.00" y="436.40" width="2.40" height="2.40" fill="#2C5DB6"/>
<rect x="396.60" y="539.00" width="23.20" height="3.00" fill="#2C5DB6"/>
<path d="M448.00,443.80 448.09,444.25 448.20,444.82 448.34,445.50 448.49,446.28 448.65,447.12 448.83,448.04 449.01,449.00 449.20,450.00 449.39,451.05 449.60,452.19 449.82,453.38 450.05,454.64 450.28,455.94 450.52,457.27 450.76,458.63 451.00,460.00 451.24,461.40 451.50,462.86 451.76,464.35 452.03,465.88 452.29,467.41 452.54,468.95 452.78,470.49 453.00,472.00 453.21,473.53 453.42,475.12 453.62,476.72 453.81,478.31 453.98,479.87 454.14,481.35 454.28,482.74 454.40,484.00 454.50,485.10 454.59,486.05 454.66,486.90 454.72,487.69 454.75,488.45 454.76,489.23 454.75,490.06 454.70,491.00 454.62,492.03 454.51,493.11 454.37,494.23 454.21,495.38 454.02,496.54 453.83,497.70 453.62,498.86 453.40,500.00 453.17,501.14 452.91,502.30 452.64,503.46 452.36,504.62 452.06,505.77 451.77,506.89 451.48,507.97 451.20,509.00 450.92,509.98 450.64,510.94 450.35,511.86 450.06,512.75 449.78,513.61 449.51,514.44 449.25,515.23 449.00,516.00 448.76,516.73 448.52,517.44 448.29,518.11 448.07,518.75 447.86,519.36 447.68,519.94 447.52,520.48 447.40,521.00 447.31,521.46 447.24,521.87 447.19,522.23 447.17,522.56 447.17,522.89 447.19,523.23 447.24,523.59 447.30,524.00 447.39,524.45 447.51,524.93 447.65,525.43 447.81,525.94 447.99,526.46 448.18,526.98 448.38,527.49 448.60,528.00 448.82,528.50 449.06,529.00 449.31,529.50 449.58,530.00 449.85,530.50 450.15,531.00 450.47,531.50 450.80,532.00 451.17,532.51 451.57,533.03 451.99,533.55 452.43,534.07 452.87,534.59 453.31,535.08 453.72,535.56 454.10,536.00 454.46,536.41 454.80,536.81 455.14,537.19 455.46,537.54 455.76,537.88 456.06,538.21 456.34,538.51 456.60,538.80 456.85,539.08 457.10,539.34 457.34,539.59 457.56,539.82 457.76,540.04 457.93,540.22 458.08,540.38 458.20,540.50 L433.00,540.50 433.12,540.38 433.27,540.22 433.44,540.04 433.64,539.82 433.86,539.59 434.10,539.34 434.35,539.08 434.60,538.80 434.86,538.51 435.14,538.21 435.44,537.88 435.74,537.54 436.06,537.19 436.40,536.81 436.74,536.41 437.10,536.00 437.48,535.56 437.89,535.08 438.33,534.59 438.77,534.07 439.21,533.55 439.63,533.03 440.03,532.51 440.40,532.00 440.73,531.50 441.05,531.00 441.35,530.50 441.62,530.00 441.89,529.50 442.14,529.00 442.38,528.50 442.60,528.00 442.82,527.49 443.02,526.98 443.21,526.46 443.39,525.94 443.55,525.43 443.69,524.93 443.81,524.45 443.90,524.00 443.96,523.59 444.01,523.23 444.03,522.89 444.03,522.56 444.01,522.23 443.96,521.87 443.89,521.46 443.80,521.00 443.68,520.48 443.52,519.94 443.34,519.36 443.13,518.75 442.91,518.11 442.68,517.44 442.44,516.73 442.20,516.00 441.95,515.23 441.69,514.44 441.42,513.61 441.14,512.75 440.85,511.86 440.56,510.94 440.28,509.98 440.00,509.00 439.72,507.97 439.43,506.89 439.14,505.77 438.84,504.62 438.56,503.46 438.29,502.30 438.03,501.14 437.80,500.00 437.58,498.86 437.37,497.70 437.18,496.54 436.99,495.38 436.83,494.23 436.69,493.11 436.58,492.03 436.50,491.00 436.45,490.06 436.44,489.23 436.45,488.45 436.48,487.69 436.54,486.90 436.61,486.05 436.70,485.10 436.80,484.00 436.92,482.74 437.06,481.35 437.22,479.87 437.39,478.31 437.58,476.72 437.78,475.12 437.99,473.53 438.20,472.00 438.42,470.49 438.66,468.95 438.91,467.41 439.18,465.88 439.44,464.35 439.70,462.86 439.96,461.40 440.20,460.00 440.44,458.63 440.68,457.27 440.92,455.94 441.15,454.64 441.38,453.38 441.60,452.19 441.81,451.05 442.00,450.00 442.19,449.00 442.37,448.04 442.55,447.12 442.71,446.28 442.86,445.50 443.00,444.82 443.11,444.25 443.20,443.80 Z" fill="none" stroke="#C41E32" stroke-width="1.2" stroke-linejoin="round"/>
<path d="M447.33,443.80 447.39,444.25 447.47,444.82 447.57,445.50 447.68,446.28 447.80,447.12 447.93,448.04 448.06,449.00 448.19,450.00 448.33,451.05 448.48,452.19 448.64,453.38 448.80,454.64 448.97,455.94 449.14,457.27 449.32,458.63 449.49,460.00 449.66,461.40 449.85,462.86 450.04,464.35 450.23,465.88 450.41,467.41 450.60,468.95 450.77,470.49 450.93,472.00 451.08,473.53 451.23,475.12 451.37,476.72 451.51,478.31 451.63,479.87 451.75,481.35 451.85,482.74 451.94,484.00 452.01,485.10 452.07,486.05 452.13,486.90 452.17,487.69 452.19,488.45 452.20,489.23 452.19,490.06 452.15,491.00 452.09,492.03 452.01,493.11 451.91,494.23 451.80,495.38 451.67,496.54 451.52,497.70 451.37,498.86 451.22,500.00 451.05,501.14 450.87,502.30 450.67,503.46 450.46,504.62 450.25,505.77 450.04,506.89 449.83,507.97 449.63,509.00 449.43,509.98 449.23,510.94 449.02,511.86 448.81,512.75 448.61,513.61 448.41,514.44 448.23,515.23 448.05,516.00 447.88,516.75 447.70,517.51 447.53,518.24 447.37,518.94 447.22,519.58 447.09,520.15 446.98,520.63 446.90,521.00 L444.30,521.00 444.22,520.63 444.11,520.15 443.98,519.58 443.83,518.94 443.67,518.24 443.50,517.51 443.32,516.75 443.15,516.00 442.97,515.23 442.79,514.44 442.59,513.61 442.39,512.75 442.18,511.86 441.97,510.94 441.77,509.98 441.57,509.00 441.37,507.97 441.16,506.89 440.95,505.77 440.74,504.62 440.53,503.46 440.33,502.30 440.15,501.14 439.98,500.00 439.83,498.86 439.68,497.70 439.53,496.54 439.40,495.38 439.29,494.23 439.19,493.11 439.11,492.03 439.05,491.00 439.01,490.06 439.00,489.23 439.01,488.45 439.03,487.69 439.07,486.90 439.13,486.05 439.19,485.10 439.26,484.00 439.35,482.74 439.45,481.35 439.57,479.87 439.69,478.31 439.83,476.72 439.97,475.12 440.12,473.53 440.27,472.00 440.43,470.49 440.61,468.95 440.79,467.41 440.97,465.88 441.16,464.35 441.35,462.86 441.54,461.40 441.71,460.00 441.88,458.63 442.06,457.27 442.23,455.94 442.40,454.64 442.56,453.38 442.72,452.19 442.87,451.05 443.01,450.00 443.14,449.00 443.27,448.04 443.40,447.12 443.52,446.28 443.63,445.50 443.73,444.82 443.81,444.25 443.87,443.80 Z" fill="none" stroke="#C41E32" stroke-width="0.7" opacity="0.9"/>
<line x1="445.60" y1="443.80" x2="445.60" y2="523.00" stroke="#C41E32" stroke-width="1.8"/>
<rect x="444.31" y="446.75" width="2.4" height="2.4" fill="#C41E32"/>
<rect x="443.12" y="452.95" width="2.4" height="2.4" fill="#C41E32"/>
<rect x="446.00" y="516.84" width="2.4" height="2.4" fill="#C41E32"/>
<rect x="444.53" y="490.54" width="2.4" height="2.4" fill="#C41E32"/>
<rect x="445.49" y="471.07" width="2.4" height="2.4" fill="#C41E32"/>
<rect x="445.77" y="468.57" width="2.4" height="2.4" fill="#C41E32"/>
<rect x="444.51" y="507.30" width="2.4" height="2.4" fill="#C41E32"/>
<rect x="445.45" y="499.49" width="2.4" height="2.4" fill="#C41E32"/>
<rect x="445.12" y="456.15" width="2.4" height="2.4" fill="#C41E32"/>
<rect x="442.10" y="498.14" width="2.4" height="2.4" fill="#C41E32"/>
<rect x="445.21" y="504.79" width="2.4" height="2.4" fill="#C41E32"/>
<rect x="443.46" y="452.02" width="2.4" height="2.4" fill="#C41E32"/>
<rect x="446.50" y="478.76" width="2.4" height="2.4" fill="#C41E32"/>
<rect x="442.75" y="476.66" width="2.4" height="2.4" fill="#C41E32"/>
<rect x="445.04" y="515.83" width="2.4" height="2.4" fill="#C41E32"/>
<rect x="445.77" y="484.34" width="2.4" height="2.4" fill="#C41E32"/>
<rect x="444.14" y="450.88" width="2.4" height="2.4" fill="#C41E32"/>
<rect x="444.10" y="506.31" width="2.4" height="2.4" fill="#C41E32"/>
<rect x="444.56" y="519.08" width="2.4" height="2.4" fill="#C41E32"/>
<rect x="443.35" y="445.36" width="2.4" height="2.4" fill="#C41E32"/>
<rect x="443.85" y="511.58" width="2.4" height="2.4" fill="#C41E32"/>
<rect x="444.58" y="473.43" width="2.4" height="2.4" fill="#C41E32"/>
<rect x="445.21" y="458.49" width="2.4" height="2.4" fill="#C41E32"/>
<rect x="443.33" y="486.67" width="2.4" height="2.4" fill="#C41E32"/>
<rect x="445.75" y="461.64" width="2.4" height="2.4" fill="#C41E32"/>
<rect x="444.43" y="470.24" width="2.4" height="2.4" fill="#C41E32"/>
<rect x="446.70" y="508.34" width="2.4" height="2.4" fill="#C41E32"/>
<rect x="443.63" y="509.09" width="2.4" height="2.4" fill="#C41E32"/>
<rect x="443.69" y="453.96" width="2.4" height="2.4" fill="#C41E32"/>
<rect x="444.11" y="507.67" width="2.4" height="2.4" fill="#C41E32"/>
<rect x="444.42" y="456.03" width="2.4" height="2.4" fill="#C41E32"/>
<rect x="443.95" y="450.50" width="2.4" height="2.4" fill="#C41E32"/>
<rect x="442.22" y="458.35" width="2.4" height="2.4" fill="#C41E32"/>
<rect x="443.70" y="504.97" width="2.4" height="2.4" fill="#C41E32"/>
<rect x="445.80" y="510.12" width="2.4" height="2.4" fill="#C41E32"/>
<rect x="444.71" y="491.40" width="2.4" height="2.4" fill="#C41E32"/>
<rect x="443.44" y="443.59" width="2.4" height="2.4" fill="#C41E32"/>
<rect x="443.83" y="482.72" width="2.4" height="2.4" fill="#C41E32"/>
<rect x="444.06" y="473.15" width="2.4" height="2.4" fill="#C41E32"/>
<rect x="445.28" y="467.55" width="2.4" height="2.4" fill="#C41E32"/>
<rect x="444.55" y="472.66" width="2.4" height="2.4" fill="#C41E32"/>
<rect x="444.10" y="479.94" width="2.4" height="2.4" fill="#C41E32"/>
<rect x="443.40" y="519.43" width="2.4" height="2.4" fill="#C41E32"/>
<rect x="445.81" y="506.41" width="2.4" height="2.4" fill="#C41E32"/>
<rect x="443.67" y="495.07" width="2.4" height="2.4" fill="#C41E32"/>
<rect x="444.70" y="484.66" width="2.4" height="2.4" fill="#C41E32"/>
<rect x="443.46" y="489.10" width="2.4" height="2.4" fill="#C41E32"/>
<rect x="443.56" y="495.80" width="2.4" height="2.4" fill="#C41E32"/>
<rect x="444.28" y="448.86" width="2.4" height="2.4" fill="#C41E32"/>
<rect x="443.56" y="449.61" width="2.4" height="2.4" fill="#C41E32"/>
<rect x="445.47" y="502.05" width="2.4" height="2.4" fill="#C41E32"/>
<rect x="443.57" y="498.53" width="2.4" height="2.4" fill="#C41E32"/>
<rect x="446.63" y="464.22" width="2.4" height="2.4" fill="#C41E32"/>
<rect x="445.96" y="498.65" width="2.4" height="2.4" fill="#C41E32"/>
<rect x="445.16" y="495.06" width="2.4" height="2.4" fill="#C41E32"/>
<rect x="445.66" y="517.44" width="2.4" height="2.4" fill="#C41E32"/>
<rect x="443.45" y="508.18" width="2.4" height="2.4" fill="#C41E32"/>
<rect x="443.86" y="500.41" width="2.4" height="2.4" fill="#C41E32"/>
<rect x="443.95" y="483.10" width="2.4" height="2.4" fill="#C41E32"/>
<rect x="444.59" y="512.70" width="2.4" height="2.4" fill="#C41E32"/>
<rect x="446.70" y="485.23" width="2.4" height="2.4" fill="#C41E32"/>
<rect x="445.43" y="473.49" width="2.4" height="2.4" fill="#C41E32"/>
<rect x="444.42" y="456.69" width="2.4" height="2.4" fill="#C41E32"/>
<rect x="446.23" y="493.74" width="2.4" height="2.4" fill="#C41E32"/>
<rect x="443.06" y="490.66" width="2.4" height="2.4" fill="#C41E32"/>
<rect x="445.63" y="472.96" width="2.4" height="2.4" fill="#C41E32"/>
<rect x="445.40" y="485.97" width="2.4" height="2.4" fill="#C41E32"/>
<rect x="442.88" y="498.59" width="2.4" height="2.4" fill="#C41E32"/>
<rect x="445.94" y="459.39" width="2.4" height="2.4" fill="#C41E32"/>
<rect x="444.24" y="466.64" width="2.4" height="2.4" fill="#C41E32"/>
<rect x="445.84" y="512.79" width="2.4" height="2.4" fill="#C41E32"/>
<rect x="443.21" y="455.86" width="2.4" height="2.4" fill="#C41E32"/>
<rect x="443.09" y="460.32" width="2.4" height="2.4" fill="#C41E32"/>
<rect x="442.62" y="447.69" width="2.4" height="2.4" fill="#C41E32"/>
<rect x="443.62" y="511.33" width="2.4" height="2.4" fill="#C41E32"/>
<rect x="443.46" y="499.59" width="2.4" height="2.4" fill="#C41E32"/>
<rect x="444.94" y="484.04" width="2.4" height="2.4" fill="#C41E32"/>
<rect x="444.13" y="513.37" width="2.4" height="2.4" fill="#C41E32"/>
<rect x="445.20" y="490.02" width="2.4" height="2.4" fill="#C41E32"/>
<rect x="444.50" y="518.19" width="2.4" height="2.4" fill="#C41E32"/>
<rect x="444.64" y="451.82" width="2.4" height="2.4" fill="#C41E32"/>
<rect x="443.87" y="486.68" width="2.4" height="2.4" fill="#C41E32"/>
<rect x="444.00" y="457.64" width="2.4" height="2.4" fill="#C41E32"/>
<rect x="443.44" y="489.17" width="2.4" height="2.4" fill="#C41E32"/>
<rect x="443.14" y="499.66" width="2.4" height="2.4" fill="#C41E32"/>
<rect x="442.45" y="447.59" width="2.4" height="2.4" fill="#C41E32"/>
<rect x="444.59" y="517.46" width="2.4" height="2.4" fill="#C41E32"/>
<rect x="445.28" y="467.64" width="2.4" height="2.4" fill="#C41E32"/>
<rect x="443.20" y="515.08" width="2.4" height="2.4" fill="#C41E32"/>
<rect x="443.75" y="460.67" width="2.4" height="2.4" fill="#C41E32"/>
<rect x="442.53" y="479.98" width="2.4" height="2.4" fill="#C41E32"/>
<rect x="444.61" y="450.66" width="2.4" height="2.4" fill="#C41E32"/>
<rect x="444.97" y="450.04" width="2.4" height="2.4" fill="#C41E32"/>
<rect x="444.04" y="454.65" width="2.4" height="2.4" fill="#C41E32"/>
<rect x="444.08" y="501.93" width="2.4" height="2.4" fill="#C41E32"/>
<rect x="445.16" y="500.22" width="2.4" height="2.4" fill="#C41E32"/>
<rect x="442.69" y="498.42" width="2.4" height="2.4" fill="#C41E32"/>
<rect x="445.80" y="514.88" width="2.4" height="2.4" fill="#C41E32"/>
<rect x="444.01" y="518.08" width="2.4" height="2.4" fill="#C41E32"/>
<rect x="444.70" y="450.86" width="2.4" height="2.4" fill="#C41E32"/>
<rect x="444.63" y="458.90" width="2.4" height="2.4" fill="#C41E32"/>
<rect x="442.89" y="472.01" width="2.4" height="2.4" fill="#C41E32"/>
<rect x="444.80" y="500.75" width="2.4" height="2.4" fill="#C41E32"/>
<rect x="443.34" y="449.33" width="2.4" height="2.4" fill="#C41E32"/>
<rect x="445.14" y="472.06" width="2.4" height="2.4" fill="#C41E32"/>
<rect x="443.58" y="451.97" width="2.4" height="2.4" fill="#C41E32"/>
<rect x="443.83" y="496.13" width="2.4" height="2.4" fill="#C41E32"/>
<rect x="446.70" y="481.45" width="2.4" height="2.4" fill="#C41E32"/>
<rect x="443.82" y="448.43" width="2.4" height="2.4" fill="#C41E32"/>
<rect x="444.24" y="502.06" width="2.4" height="2.4" fill="#C41E32"/>
<rect x="443.55" y="451.91" width="2.4" height="2.4" fill="#C41E32"/>
<rect x="443.37" y="480.16" width="2.4" height="2.4" fill="#C41E32"/>
<rect x="445.74" y="514.43" width="2.4" height="2.4" fill="#C41E32"/>
<rect x="444.09" y="472.60" width="2.4" height="2.4" fill="#C41E32"/>
<rect x="445.58" y="497.16" width="2.4" height="2.4" fill="#C41E32"/>
<rect x="443.63" y="504.34" width="2.4" height="2.4" fill="#C41E32"/>
<rect x="444.00" y="469.08" width="2.4" height="2.4" fill="#C41E32"/>
<rect x="444.07" y="508.95" width="2.4" height="2.4" fill="#C41E32"/>
<rect x="444.36" y="475.62" width="2.4" height="2.4" fill="#C41E32"/>
<rect x="444.20" y="461.35" width="2.4" height="2.4" fill="#C41E32"/>
<rect x="444.05" y="463.94" width="2.4" height="2.4" fill="#C41E32"/>
<rect x="442.10" y="450.29" width="2.4" height="2.4" fill="#C41E32"/>
<rect x="444.82" y="485.03" width="2.4" height="2.4" fill="#C41E32"/>
<rect x="444.82" y="472.93" width="2.4" height="2.4" fill="#C41E32"/>
<rect x="444.22" y="470.55" width="2.4" height="2.4" fill="#C41E32"/>
<rect x="446.16" y="506.04" width="2.4" height="2.4" fill="#C41E32"/>
<rect x="444.46" y="470.96" width="2.4" height="2.4" fill="#C41E32"/>
<rect x="444.39" y="444.08" width="2.4" height="2.4" fill="#C41E32"/>
<rect x="445.55" y="472.66" width="2.4" height="2.4" fill="#C41E32"/>
<rect x="445.09" y="483.11" width="2.4" height="2.4" fill="#C41E32"/>
<rect x="444.64" y="518.80" width="2.4" height="2.4" fill="#C41E32"/>
<rect x="443.97" y="477.33" width="2.4" height="2.4" fill="#C41E32"/>
<rect x="444.48" y="464.57" width="2.4" height="2.4" fill="#C41E32"/>
<rect x="443.93" y="517.27" width="2.4" height="2.4" fill="#C41E32"/>
<rect x="443.26" y="446.93" width="2.4" height="2.4" fill="#C41E32"/>
<rect x="444.60" y="473.43" width="2.4" height="2.4" fill="#C41E32"/>
<rect x="443.31" y="489.10" width="2.4" height="2.4" fill="#C41E32"/>
<rect x="443.50" y="513.18" width="2.4" height="2.4" fill="#C41E32"/>
<rect x="443.24" y="445.61" width="2.4" height="2.4" fill="#C41E32"/>
<rect x="444.53" y="444.66" width="2.4" height="2.4" fill="#C41E32"/>
<rect x="443.34" y="510.99" width="2.4" height="2.4" fill="#C41E32"/>
<rect x="445.27" y="507.20" width="2.4" height="2.4" fill="#C41E32"/>
<rect x="443.89" y="520.73" width="2.4" height="2.4" fill="#C41E32"/>
<rect x="444.86" y="501.79" width="2.4" height="2.4" fill="#C41E32"/>
<rect x="444.03" y="503.71" width="2.4" height="2.4" fill="#C41E32"/>
<rect x="446.70" y="475.73" width="2.4" height="2.4" fill="#C41E32"/>
<rect x="443.82" y="459.70" width="2.4" height="2.4" fill="#C41E32"/>
<rect x="444.25" y="475.67" width="2.4" height="2.4" fill="#C41E32"/>
<rect x="445.56" y="465.15" width="2.4" height="2.4" fill="#C41E32"/>
<rect x="444.85" y="494.79" width="2.4" height="2.4" fill="#C41E32"/>
<rect x="444.84" y="478.50" width="2.4" height="2.4" fill="#C41E32"/>
<rect x="442.78" y="448.56" width="2.4" height="2.4" fill="#C41E32"/>
<rect x="445.90" y="511.86" width="2.4" height="2.4" fill="#C41E32"/>
<rect x="446.33" y="458.13" width="2.4" height="2.4" fill="#C41E32"/>
<rect x="444.63" y="517.74" width="2.4" height="2.4" fill="#C41E32"/>
<rect x="444.90" y="489.52" width="2.4" height="2.4" fill="#C41E32"/>
<rect x="444.97" y="514.57" width="2.4" height="2.4" fill="#C41E32"/>
<rect x="445.05" y="515.93" width="2.4" height="2.4" fill="#C41E32"/>
<rect x="444.53" y="476.26" width="2.4" height="2.4" fill="#C41E32"/>
<rect x="444.42" y="463.60" width="2.4" height="2.4" fill="#C41E32"/>
<rect x="443.40" y="503.26" width="2.4" height="2.4" fill="#C41E32"/>
<rect x="442.10" y="454.65" width="2.4" height="2.4" fill="#C41E32"/>
<rect x="444.08" y="497.56" width="2.4" height="2.4" fill="#C41E32"/>
<rect x="445.54" y="449.82" width="2.4" height="2.4" fill="#C41E32"/>
<rect x="445.35" y="472.05" width="2.4" height="2.4" fill="#C41E32"/>
<rect x="443.05" y="471.56" width="2.4" height="2.4" fill="#C41E32"/>
<rect x="444.59" y="518.14" width="2.4" height="2.4" fill="#C41E32"/>
<rect x="443.67" y="461.59" width="2.4" height="2.4" fill="#C41E32"/>
<rect x="444.06" y="485.34" width="2.4" height="2.4" fill="#C41E32"/>
<rect x="445.19" y="499.85" width="2.4" height="2.4" fill="#C41E32"/>
<rect x="445.28" y="497.85" width="2.4" height="2.4" fill="#C41E32"/>
<rect x="444.54" y="443.44" width="2.4" height="2.4" fill="#C41E32"/>
<rect x="443.33" y="482.12" width="2.4" height="2.4" fill="#C41E32"/>
<rect x="444.49" y="490.42" width="2.4" height="2.4" fill="#C41E32"/>
<rect x="444.06" y="481.84" width="2.4" height="2.4" fill="#C41E32"/>
<rect x="443.68" y="445.79" width="2.4" height="2.4" fill="#C41E32"/>
<rect x="445.03" y="444.47" width="2.4" height="2.4" fill="#C41E32"/>
<rect x="442.96" y="466.02" width="2.4" height="2.4" fill="#C41E32"/>
<rect x="444.87" y="514.93" width="2.4" height="2.4" fill="#C41E32"/>
<rect x="442.79" y="471.70" width="2.4" height="2.4" fill="#C41E32"/>
<rect x="444.09" y="515.91" width="2.4" height="2.4" fill="#C41E32"/>
<rect x="445.27" y="516.87" width="2.4" height="2.4" fill="#C41E32"/>
<rect x="444.33" y="455.80" width="2.4" height="2.4" fill="#C41E32"/>
<rect x="445.40" y="515.49" width="2.4" height="2.4" fill="#C41E32"/>
<rect x="444.93" y="500.22" width="2.4" height="2.4" fill="#C41E32"/>
<rect x="442.60" y="484.04" width="2.4" height="2.4" fill="#C41E32"/>
<rect x="445.91" y="466.14" width="2.4" height="2.4" fill="#C41E32"/>
<rect x="444.67" y="485.83" width="2.4" height="2.4" fill="#C41E32"/>
<rect x="443.91" y="470.18" width="2.4" height="2.4" fill="#C41E32"/>
<rect x="443.75" y="481.35" width="2.4" height="2.4" fill="#C41E32"/>
<rect x="444.40" y="443.40" width="2.40" height="2.40" fill="#C41E32"/>
<rect x="434.00" y="539.00" width="23.20" height="3.00" fill="#C41E32"/>
<line x1="437.20" y1="474.10" x2="454.00" y2="474.10" stroke="#C41E32" stroke-width="0.9" stroke-dasharray="2,1.2"/>
<line x1="437.20" y1="490.20" x2="454.00" y2="490.20" stroke="#C41E32" stroke-width="0.9" stroke-dasharray="2,1.2"/>
<text transform="translate(411.20,554.5) rotate(-30)" font-size="12.2" text-anchor="end" fill="#111" stroke="#111">WT</text>
<text transform="translate(451.60,554.5) rotate(-30)" font-size="12.2" text-anchor="end" fill="#111" stroke="#111"><tspan font-style="italic">Aebp1</tspan> cKO</text>
<line x1="408.20" y1="540.50" x2="408.20" y2="544.80" stroke="#444" stroke-width="1.0"/>
<line x1="445.60" y1="540.50" x2="445.60" y2="544.80" stroke="#444" stroke-width="1.0"/>
</svg>
</body></html>
